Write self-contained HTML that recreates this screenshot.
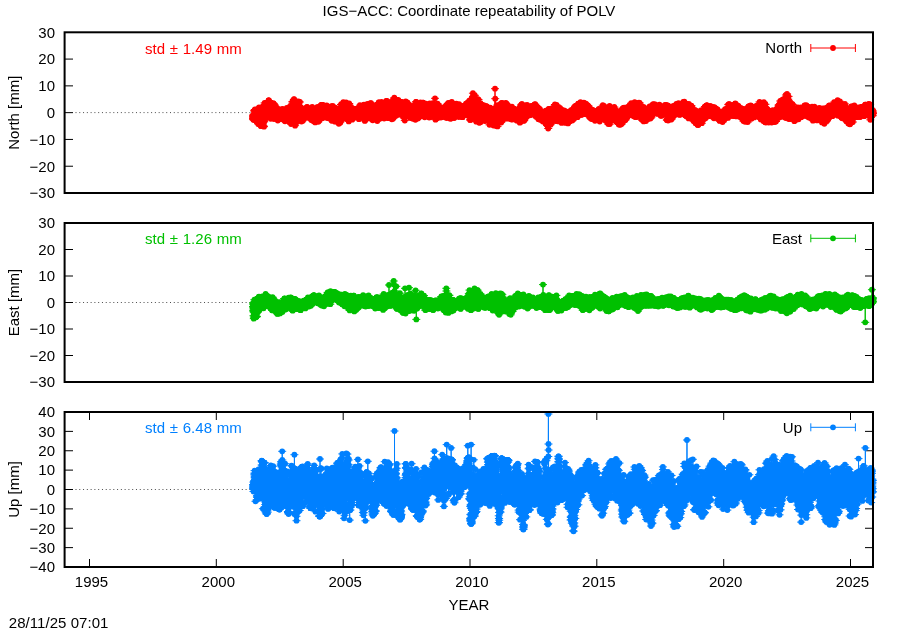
<!DOCTYPE html>
<html lang="en"><head><meta charset="utf-8"><title>IGS-ACC: Coordinate repeatability of POLV</title>
<style>html,body{margin:0;padding:0;background:#fff}svg{display:block;will-change:transform}text{font-family:"Liberation Sans", Arial, Helvetica, sans-serif;font-size:15px;fill:#000}</style></head><body>
<svg width="900" height="630" viewBox="0 0 900 630">
<rect width="900" height="630" fill="#fff"/>
<defs>
<marker id="m0" markerUnits="userSpaceOnUse" markerWidth="10" markerHeight="8" refX="5" refY="4" overflow="visible"><circle cx="5" cy="4" r="2.9" fill="#ff0000"/><path d="M1,4H9" stroke="#ff0000" stroke-width="1"/></marker>
<marker id="m1" markerUnits="userSpaceOnUse" markerWidth="10" markerHeight="8" refX="5" refY="4" overflow="visible"><circle cx="5" cy="4" r="2.9" fill="#00c000"/><path d="M1,4H9" stroke="#00c000" stroke-width="1"/></marker>
<marker id="m2" markerUnits="userSpaceOnUse" markerWidth="10" markerHeight="8" refX="5" refY="4" overflow="visible"><circle cx="5" cy="4" r="2.9" fill="#0080ff"/><path d="M1,4H9" stroke="#0080ff" stroke-width="1"/></marker>
</defs>
<text x="469" y="16" text-anchor="middle">IGS−ACC: Coordinate repeatability of POLV</text>
<g>
<path d="M73.0,112.6H873.0" stroke="#000" stroke-opacity=".7" stroke-width="1" stroke-dasharray="1 2.78" stroke-dashoffset="-2.5" fill="none"/>
<path d="M65.0,166.22h8M873.0,166.22h-8M65.0,139.43h8M873.0,139.43h-8M65.0,112.65h8M873.0,112.65h-8M65.0,85.87h8M873.0,85.87h-8M65.0,59.08h8M873.0,59.08h-8" stroke="#000" stroke-width="1" fill="none"/>
<path d="M253,115.3l.1 2.7v1.3l.1-.5l.1-2v-.6l.1 .5l.1 1.8v-.4l.1-3.7l.1 5.6l.1-2.4v-.1l.1-.5l.1 .8v0l.1-.3l.1 1.5v-4.3l.1 .3l.1-.7v-3.9l.1 4.5l.1-.5l.1-3.4v-.1l.1 .2l.1 2v-3.6l.1 4.5l.1 2.6v-.9l.1-.6l.1-1.4l.1 5.5v-1.9l.1 2l.1-3.1v1.9l.1-2.9l.1-2.3v3.6l.1 2.7l.1-5.3v.9l.1-.8l.1-4.3l.1 2.8v4.3l.1-4.3l.1 6.5v2.5l.1-2l.1 .3v.5l.1-3.4l.1-2.2v.6l.1-3.6l.1 2.4l.1 2.6v3l.1-2.9l.1 1.3v-2l.1-2.7l.1 .4v4.4l.1 .1l.1-2.8l.1 .5v1.2l.1 1.1l.1 .2v4.3l.1 1.1l.1-8.8v1.3l.1 2.4l.1 1.7v-2.6l.1-1.1l.1-1.9l.1-.1v5.3l.1-11.9l.1 4.3v-5.1l.1 9.1l.1 1.4v6.2l.1-8.8l.1-4.2v6.7l.1 5.1l.1-2.5l.1-3.2v1.9l.1-1.6l.1-2.4v-5.2l.1 3.6l.1 1.2v2.7l.1 .5l.1-6.5l.1 2.3v-2.2l.1 4.8l.1-7.8v10.6l.1 1.7l.1 5.1v-3.6l.1-2.7l.1-3.7v.3l.1 9.8l.1-8.3l.1-5.8v6.6l.1-3l.1-1.3v-2.7l.1 4.5l.1 1.9v5.2l.1-2.7l.1-3v-1.6l.1-5.2l.1 .1l.1 .3v-.2l.1-.5l.1 6.4v8.1l.1-6.5l.1 3.1v-4.3l.1-2.8l.1-3.9l.1 .3v-4.6l.1 3.8l.1 3.8v1.8l.1-7.5l.1 2.1v1.4l.1 4l.1-.5v1.9l.1-.5l.1 .2l.1 1.3v3.6l.1 4.6l.1 .6v-6.1l.1-3.1l.1 4.4v-7.4l.1 5l.1-3.4v.3l.1-8.9l.1-4.6l.1 10.1v.1l.1-1.7l.1 2.2v3.5l.1-1.8l.1 .9v2.4l.1-7.6l.1-1.1l.1 5.4v-3.8l.1 1.8l.1 .9v-3.5l.1 4.4l.1-4.4v-4.3l.1 .8l.1 1.6v6.5l.1-10l.1 1.4l.1 .6v4.1l.1 1.6l.1-4.8v3.3l.1-2.2l.1 3.6v-4.3l.1 3.2l.1 1.3v-5.5l.1-2.4l.1 8.5l.1-2v1l.1 3.8l.1-1v-2.5l.1-1.6l.1 1.7v-5.7l.1 8.6l.1-1.9l.1-7.3v6.4l.1 3.7l.1-2.9v.5l.1 .8l.1-3.8v-4l.1 2.1l.1-9.1v6.5l.1-2.2l.1-1.8l.1-2.5v3.8l.1-3.8l.1 8.9v4.5l.1 .9l.1-3.6v1.1l.1-3.9l.1-.7l.1-.4v-2.3l.1 3.9l.1 5v-2.1l.1-6.5l.1 3v1.1l.1-.7l.1 .9v7.3l.1-6.7l.1 3.2l.1 2.6v.7l.1-1.4l.1-.9v1.8l.1 2.6l.1-2.4v-3.6l.1 .1l.1 2.2v.1l.1-2.4l.1 1.6l.1-3.7v.6l.1-.6l.1-5.3v6.6l.1-.7l.1-2.8v3.5l.1-1.6l.1-4.5l.1-1.8v.7l.1 4.7l.1 1v.3l.1 3.1l.1-2.9v4.9l.1-4.2l.1-1.4v4.1l.1-7.3l.1-2.1l.1 6.7v1.6l.1-.3l.1-1.3v-.1l.1-.7l.1-4.8v2.2l.1-5l.1 7.8v-5.1l.1-2.5l.1 2.3l.1 3.6v1l.1-4l.1 3.6v9l.1-1.2l.1-7.8v-2.1l.1 .5l.1-3.8l.1 .7v5.7l.1-1.3l.1 4.6v-2.8l.1 1l.1 5.1v-2.2l.1-4.4l.1 .7v.7l.1 2.3l.1 0l.1-5.2v3.3l.1 3l.1-.3v-6.5l.1 2.1l.1-1.1v2.6l.1 .7l.1 .5v2.6l.1 .8l.1-2.4l.1 .5v.5l.1 1.8l.1-.7v1.4l.1-1.3l.1-1.1v.8l.1-1.4l.1-5.3l.1-.7v-1.5l.1 5.1l.1 1.9v-2.1l.1 4.1l.1-3v.4l.1-2.1l.1-3.1v4.2l.1 5.1l.1 2.3l.1-1.4v-4.5l.1-3.6l.1 1.3v3.8l.1-.4l.1 2.2v-2.7l.1-1.8l.1 .8v-1.3l.1-.9l.1 4.1l.1-1.4v1l.1-1.9l.1 .9v.3l.1-.8l.1 .2v2.4l.1-2.7l.1 2l.1-.9v-3.2l.1 .1l.1 .4v1.3l.1 4.8l.1-4.9v.2l.1-1.4l.1 4.6v-7.9l.1 1l.1-.4l.1 3.6v.3l.1 4l.1-.2v-2.9l.1 1.6l.1 1.1v-5.1l.1 2.3l.1 .6v-2.4l.1 1.1l.1-.7l.1 2v1.6l.1-2l.1 2.5v1.5l.1 .3l.1-.6v-1.3l.1-2.1l.1 2.7l.1-1.3v-.2l.1-1.1l.1-3.7v-.9l.1 3.6l.1-3.3v-1.5l.1 1l.1 2.2v-3.8l.1 5.9l.1 4.3l.1-5.9v6.3l.1-6l.1-1v2.3l.1-3.4l.1 2v1.4l.1-1.4l.1-.9v-1.5l.1 .3l.1 4l.1-4.4v1.1l.1 .4l.1 4v2.3l.1-1.9l.1-2.6v.2l.1-.4l.1 1.6l.1 .3v3.6l.1 1l.1-3.2v.7l.1-7.6l.1 1.1v.2l.1 9.7l.1-5.9v-1l.1 2.2l.1-6.7l.1 1.7v7.4l.1-4l.1 .5v1.7l.1-5.4l.1 4.4v1.2l.1-1.7l.1-.6v3.1l.1-3.5l.1-2l.1 2.3v-1.5l.1 4.5l.1-4.1v-1.7l.1-2.1l.1 2.8v1.3l.1-6.4l.1 8.2l.1-3.2v1.7l.1-2.4l.1 1.1v2.6l.1 1.2l.1 0v-2.7l.1 3.8l.1 1.1v-2.6l.1-.8l.1-4.9l.1 2.1v-3.3l.1 4l.1-1.4v1.5l.1 4.6l.1-.9v1.4l.1 .1l.1-1.8v-2.2l.1-3.2l.1 5.1l.1 2.1v-4.4l.1 6.9l.1-4.8v-1.2l.1-5.9l.1 10.5v-4.5l.1 3.8l.1 .2l.1-3.6v-3.3l.1 .2l.1-6.3v7.8l.1 3.6l.1-3.7v-.3l.1-.6l.1-3.8v.1l.1 4.3l.1-1.3l.1 3.8v5.7l.1-9.7l.1-1.1v.7l.1-1.9l.1 .7v2l.1 5.7l.1 5.5v-9.9l.1 3.9l.1 2.8l.1-8.8v.3l.1 6.1l.1 1.1v-7.8l.1 1.8l.1 2.5v.4l.1 4.5l.1-3.1l.1-10.6v2l.1 3.5l.1-6.6v.3l.1-3.3l.1-1.6v3.8l.1 3l.1 1.2v3.8l.1 3.9l.1 1.2l.1-8.2v-1.2l.1-3.8l.1 1.5v13.8l.1-6.3l.1 2v-1.8l.1-10.2l.1 6.4v8.9l.1-2.7l.1 .4l.1-5.5v-1l.1-11.3l.1 11.6v-4.2l.1-7.7l.1 8.7v6.7l.1-2.4l.1 4.1l.1 0v-1.8l.1 3.6l.1 1.7v-10.5l.1 4.2l.1 1.2v-7.9l.1 7l.1 11.9v-8.1l.1 6.3l.1-3.9l.1-3.6v2.3l.1-2.1l.1 1.1v-1.9l.1 7.6l.1-7v1.2l.1-9.7l.1 3.3v-2.3l.1 .5l.1 2l.1 .1v-6.2l.1 7.4l.1-1.7v-.3l.1-.7l.1 4v-9.3l.1 1.7l.1 1.7l.1 .4v3.1l.1 4.4l.1-3.4v0l.1-1.2l.1 4v-5.4l.1 2.4l.1 2.5v5.9l.1-1.3l.1-7.1l.1 5.1v-7.6l.1-6l.1 .4v7l.1 4.3l.1 .7v.4l.1-3.9l.1-11.5l.1 .5v9.7l.1-1.1l.1-.9v-.2l.1-2.4l.1 5.4v6.1l.1-5.9l.1-2.5v5.8l.1-9.2l.1 5.9l.1-2.8v1.4l.1 2.3l.1-6.1v-.7l.1 3.6l.1-8.2v10l.1 .1l.1 2.3v-4.4l.1 6.7l.1-4.3l.1-3.5v1.5l.1 9.9l.1-5.2v-7.4l.1 2.7l.1 .9v-4.2l.1 7.4l.1-3.4l.1 2.6v.9l.1-5.5l.1 5v3.5l.1-4.2l.1 3.2v4.9l.1-1.2l.1-7.1v4.9l.1-.4l.1-4.2l.1 0v-2.4l.1-2l.1 2.6v1.4l.1 .2l.1-2v.3l.1 2.7l.1-1.4v-.1l.1 2.6l.1 .4l.1 2.7v2.2l.1-3.6l.1-6.4v2.1l.1 2.4l.1-2.7v1.8l.1 2.3l.1 1.7l.1-5.4v2.8l.1 .2l.1-3v2.3l.1 2.3l.1 .5v-4.4l.1-.7l.1 0v1.7l.1-1.2l.1-4.3l.1 1.8v-.7l.1 1.9l.1-3.7v1.5l.1 3.2l.1-1.2v2.3l.1-3.7l.1-1.9v3.9l.1 2.1l.1 1.7l.1-2.6v-.6l.1 .1l.1-1.2v4.3l.1-6.2l.1 1.6v4.2l.1-1.4l.1 .4l.1-1.2v-5.1l.1 4.8l.1 1.5v-1.1l.1 2l.1-3.6v.9l.1 .5l.1 1.7v0l.1 .2l.1-5.6l.1-1.4v-1.4l.1-.1l.1 .8v.7l.1 1.7l.1-.7v5.7l.1-3.4l.1-1.6v4.5l.1 2.9l.1-5.4l.1-1.9v-.1l.1 2.6l.1 .1v-1.2l.1 1.9l.1 .2v-2.2l.1 .3l.1-3l.1 5.5v2.7l.1-1.8l.1-.7v-.5l.1-3.7l.1 1.1v-1.7l.1 .3l.1 .9v.4l.1 .1l.1 2.7l.1-1.7v.2l.1 1.8l.1-1.7v2.5l.1-1.5l.1-4.7v-.4l.1 5.1l.1-.9v.6l.1 1l.1 .8l.1 .8v-4.2l.1 .8l.1 .8v-3l.1 .1l.1 .9v3.3l.1 1.3l.1 .2l.1-1.1v4.6l.1-1.9l.1 1.4v-1.8l.1-.4l.1-1.7v2l.1 2.7l.1-2.3v-1l.1-2.1l.1-1.8l.1 2.6v-2.8l.1-1.3l.1-.6v-3.8l.1 1.5l.1 3v-.7l.1 3.1l.1-3.2v2.8l.1 1.5l.1-.5l.1 2.2v.1l.1-1.2l.1 .5v2.3l.1-3.8l.1 .2v2.3l.1-3.5l.1 .2l.1 7.5v-5l.1 0l.1-.8v2.6l.1 2.8l.1-3.9v.4l.1-2.6l.1 1.7v-4.9l.1 0l.1-.3l.1-2.5v4.3l.1 2.4l.1 1.9v-.9l.1 3.6l.1-8.5v-1.3l.1 .7l.1 1v1.2l.1 9.2l.1-8.7l.1 7.6v-.3l.1-.4l.1-2.1v2l.1-1.6l.1 0v-4.7l.1-1.8l.1-1.1l.1 4.7v-3.2l.1 1l.1-1.4v5.3l.1-6.6l.1 4.9v-3.5l.1 1.2l.1-3.1v3.4l.1 .1l.1-2.4l.1-1.9v-2.3l.1 8.7l.1-4v-5.1l.1 1.7l.1 3v-2.2l.1-2l.1 5.7v4.4l.1-1.1l.1-3.9l.1-.7v2.7l.1-6.2l.1 5.3v-.7l.1 2.3l.1 3.4v3l.1-4.6l.1 .7l.1 1.7v-8.1l.1 .6l.1 4.9v-3.8l.1 1.8l.1-1.7v3.7l.1 2.1l.1 1.6v-2.3l.1 1.3l.1-2.3l.1-3.2v3l.1 .1l.1-6v3.9l.1-3.3l.1 4.2v-4.7l.1-1l.1 1.4v-2.5l.1-3.3l.1 9.2l.1-1.3v-1.8l.1 2.9l.1-2.8v3.9l.1-5.2l.1 2.9v-3.4l.1 .9l.1 4l.1-3.9v-6.3l.1 3.5l.1 1.2v5.2l.1-.7l.1-6.6v-2.7l.1 .9l.1-.9v4.5l.1 .9l.1 1.9l.1-7.4v4.6l.1 .9l.1-.8v5l.1 3.6l.1-5.2v-.4l.1-.6l.1 1.5v-.2l.1-.3l.1 2.5l.1-3v2.6l.1-5.5l.1-4.8v5.9l.1 2.1l.1 .1v-2l.1-3.7l.1 3.6l.1-2.7v1.2l.1 2.2l.1 2.3v.1l.1 1.5l.1 2v-5.4l.1-3l.1 2.4v3.4l.1-2.3l.1 1.7l.1-3.5v-1.7l.1 7l.1-.1v.3l.1-2.8l.1-3.6v-1.2l.1-.3l.1 5v-1.8l.1-2.5l.1 3.8l.1-1.7v2.3l.1-2.1l.1 1v3.4l.1-4.5l.1 2.2v-4.2l.1 2.7l.1-1.3l.1-3.2v.9l.1-1.3l.1 6.4v-1.4l.1 1.3l.1-1.1v-.3l.1-2.4l.1-4v7.4l.1-5.5l.1 3.9l.1 2.2v-.5l.1 1.7l.1-.9v.8l.1 3.1l.1 .3v-2.4l.1-3.4l.1 .2l.1-.7v-2.6l.1 3.1l.1-1.4v-1.1l.1 2.5l.1-.3v3.4l.1-.3l.1-1.5v0l.1-1.4l.1-1.7l.1-3v1.5l.1-.9l.1 2.7v-.1l.1 1.7l.1 1.6v1l.1-1l.1-4.8v.7l.1 .1l.1-.5l.1 .5v8.5l.1-3.2l.1-3.9v-.6l.1-3.5l.1 2.2v.6l.1-.2l.1 4.1l.1-1.6v-1.2l.1-1.3l.1 2v1.3l.1 3l.1-3.7v-2.8l.1 3.4l.1 1.1v1l.1-.6l.1-6.2l.1 1.8v1.4l.1 2.8l.1-1.2v-7l.1 4l.1 2v4.9l.1-3.9l.1 5.4v0l.1 2.1l.1 .1l.1-7.6v1.7l.1 1.7l.1-.6v1.5l.1-3.1l.1 .6v-2l.1 2.4l.1 2.5l.1-4.2v1.7l.1-9.2l.1 5.6v-5.5l.1 2.2l.1 5.3v-3.2l.1 6.4l.1-4.1v5.8l.1-5.9l.1 4.2l.1-6.1v.8l.1-2.2l.1 3.8v1.1l.1 .4l.1-2.9v-.6l.1 .4l.1-2.1v1.9l.1 .4l.1 5.2l.1-2.4v3.5l.1-2.4l.1 3.3v1.7l.1-3.7l.1 .4v2.3l.1-1.4l.1 3.4l.1-5.5v-3.1l.1 1.2l.1-6.4v7.7l.1-1.2l.1-.6v-1.4l.1 2.1l.1-1.4v2.1l.1-1.2l.1-1.5l.1-4v4.7l.1 1.6l.1-1.5v.7l.1-1.4l.1 .3v-2.7l.1 8.5l.1-.4v-2.6l.1-1.6l.1-1l.1-4.5v3.7l.1 1l.1 .5v-.1l.1-1.9l.1-1.5v1.2l.1 4.7l.1 .3l.1 1.7v-2.1l.1-2l.1 3.8v-3.5l.1 2l.1-5.7v-.1l.1-1l.1 1.8v-1l.1 3.7l.1-1.3l.1-3.6v4.7l.1 5.5l.1 4.4v-4.2l.1-4.4l.1 1v.7l.1 .5l.1-2.1v3.4l.1-1.5l.1-5.7l.1-1.1v.5l.1 6.3l.1-2.3v1.2l.1 4.5l.1-6.1v-3.1l.1 3.5l.1-.6l.1 4.4v4l.1-5.7l.1-1.6v4.1l.1-1l.1 1.1v-5.3l.1-.9l.1-.9v2l.1-3.2l.1-1.9l.1-4.8v-.2l.1 8.2l.1-.8v-1.2l.1 2.5l.1 3.8v-1.6l.1-5.3l.1 4.7v-7.4l.1 1.7l.1 0l.1 2.6v-3.9l.1 7.4l.1-1.6v-1.5l.1-1l.1 8.2v-6.1l.1 1.8l.1-4.2l.1-1.3v.7l.1 8l.1-10.1v4l.1 1.1l.1 .1v-2.6l.1-2.6l.1-5.8v2.1l.1 7.1l.1 1l.1-6.4v.4l.1 3.9l.1-2.5v6.5l.1 2.4l.1-8.8v-1.6l.1 7.2l.1 2v1.4l.1-1.9l.1 1.4l.1-1.5v-7l.1-4.3l.1 .3v3.6l.1 1.3l.1-1.5v5.6l.1-.4l.1-2.8l.1-6.7v7.8l.1 .4l.1-.8v-4.3l.1 3.1l.1-.6v1.7l.1-6.5l.1 4.8v-4.5l.1 1.1l.1 .7l.1 5.1v-8.6l.1 5.7l.1 5.5v3.8l.1 0l.1-5.6v-4.6l.1 .6l.1 3.6v4.3l.1-1.4l.1-3.5l.1 3.2v-7.9l.1 1l.1 .4v.7l.1 5l.1 3.5v-1.9l.1-6.1l.1 6.7l.1-1.2v-.9l.1 5.9l.1-8.9v3.2l.1 .3l.1-.3v-6.4l.1-1.6l.1 3.4v-3.1l.1 8.1l.1-1.9l.1 3.8v2.9l.1 2.7l.1-.8v-5.9l.1-1.4l.1 .7v1.4l.1-7.4l.1-4.5v1.2l.1 3.1l.1-1.3l.1 1.8v.4l.1 1.6l.1 1.6v-1.1l.1 4.3l.1-3.8v4.2l.1-5.2l.1 4.2l.1-4.4v4.8l.1-5.4l.1 .7v-2.2l.1 .2l.1 6.3v-2.2l.1 .5l.1 3.9v-3.7l.1-2.4l.1 2.2l.1-4.2v4.2l.1 .7l.1-1.3v-2.4l.1-1.1l.1 .9v-1.7l.1 7.5l.1-1.7v-2l.1 3.8l.1 2.9l.1-2.5v-8l.1 5.5l.1 1.4v4.9l.1-1.1l.1-2.6v.9l.1-2.6l.1 .7l.1-1.5v2.8l.1-1.4l.1-6.1v4.3l.1 1.7l.1-1.5v-2.5l.1 1.6l.1 1.4v-2.6l.1 .6l.1 3.2l.1-.1v-2.2l.1 1.8l.1-1v3.9l.1-1.7l.1-2.3v2.2l.1-1.2l.1-3.9v-1.5l.1 5l.1 2.5l.1-1.4v-3.1l.1 3l.1 .7v0l.1-.7l.1-2.5v3.3l.1-2.9l.1-.6l.1-2.3v3.2l.1-1.1l.1 1.2v4.3l.1-1.2l.1-1.7v-1l.1-2l.1 1.1v1.3l.1-3.4l.1 4.9l.1-2.3v.3l.1 2.9l.1-2.6v.6l.1-4.4l.1-1.3v1.9l.1-1.8l.1 .7l.1 3.3v-1.9l.1 1.7l.1-3.3v1.8l.1 2l.1-1.2v1.2l.1 .9l.1-1.9v1.8l.1 .8l.1 1.8l.1-1.1v-1.5l.1 .3l.1-2.1v-.6l.1-3.1l.1 1.8v.8l.1-1.6l.1 4.8v.6l.1 .3l.1-.8l.1 1.7v-4.6l.1 .7l.1 4.1v-.2l.1 3.1l.1-4.6v1.4l.1-4.3l.1-1.9l.1 1.8v1.8l.1-.6l.1-1.4v.4l.1-.8l.1-2.4v-1.6l.1 4.6l.1-6.4v1.3l.1 2l.1-.7l.1 .2v-.1l.1 2.4l.1 .3v-1l.1 1.3l.1 .8v-.9l.1 1.3l.1-1.7v.1l.1 5.6l.1 .6l.1-2.4v-3l.1-.4l.1-1.4v1.1l.1 2.6l.1-1.9v-.3l.1-1l.1 .7l.1 1.3v-4.2l.1 2.4l.1-4.1v3.7l.1-.5l.1 2.8v-2.9l.1 2l.1-1.2v1.5l.1-1.2l.1 6.6l.1-3.2v2l.1-6.8l.1 5v-2.2l.1-2.1l.1 1v2.7l.1-1.2l.1 1.9v2.4l.1-9.7l.1 5.9l.1 1.7v1.6l.1-3.9l.1-4.4v-1.4l.1-1.2l.1-.4v11.4l.1 .7l.1-6.7l.1 4v1.2l.1-1.5l.1-1.9v7.4l.1-10.1l.1-.3v.9l.1 11.2l.1-5.4v-4l.1 4.3l.1 1.5l.1-.5v3.5l.1-4.3l.1 2.4v-1.1l.1-2.6l.1 1.7v-6.7l.1-.9l.1 .8v5l.1-1.4l.1 .5l.1 1.8v-4.3l.1 .2l.1-1v.3l.1-1.8l.1 5.6v-5.8l.1-.1l.1 5.7l.1-5.9v-2.3l.1-.6l.1 5.4v-2.7l.1 5.7l.1-8.8v11l.1-2.3l.1 .8v-10.8l.1 3l.1 4.9l.1 3.8v2.1l.1-5.8l.1 6.3v-4.6l.1-5.9l.1 5.9v-3.4l.1 4.1l.1-2.2v3.2l.1-3l.1-2.8l.1-1.6v3.3l.1 2l.1-2.7v-2l.1-1.7l.1-1.7v4.6l.1-3l.1 .8l.1-1.8v.3l.1-.6l.1 1.3v3.5l.1 .2l.1 .3v-2.9l.1 1l.1 2.8v3.2l.1 .8l.1-.6l.1-5v3.3l.1-6.3l.1-3.7v3.5l.1 6.3l.1-9.1v5.5l.1 1.2l.1-2v-3.8l.1 9.3l.1-1.1l.1-9.8v4.9l.1 7.2l.1 2.2v-6.1l.1 2.9l.1 .4v-1.9l.1 6.5l.1-4.5l.1 2.1v-2.4l.1-2l.1-5.3v-.9l.1 2.2l.1-.2v5.5l.1-4.5l.1 .3v.3l.1 1.7l.1-.8l.1 3.4v6.1l.1-6.1l.1-1v1.4l.1-4.9l.1 3.7v-3.7l.1 .5l.1 .4v-3.6l.1 1l.1 5.6l.1-3.9v2.6l.1-.1l.1 1.6v-2.9l.1 .4l.1 .4v-2.2l.1-2.3l.1 2.1l.1 .6v4.9l.1-8l.1 .8v3.3l.1 5.8l.1-8.4v4.2l.1-3.8l.1 1.3v2.1l.1-1.3l.1-2l.1 2.5v-5.6l.1 8l.1-1.2v-4.4l.1 7.1l.1-1.8v-4.9l.1-2.4l.1 7v4.1l.1-7.7l.1 4.8l.1 2.4v-.5l.1-3l.1-4.5v1.9l.1-4l.1 4.1v.7l.1-1.1l.1 1l.1 1.9v-4.1l.1-1.1l.1 2.3v-.6l.1-1l.1 3.7v3.9l.1 4.8l.1-8.7v-1.8l.1 6.6l.1 .9l.1-4v-2.5l.1-2.3l.1-2v-.5l.1 5.3l.1-.8v-2.1l.1-2.5l.1-.4v1.2l.1 7.7l.1-3.1l.1-1.1v3.5l.1-4.9l.1-7.1v-.1l.1 4.6l.1-2.3v1.7l.1 6l.1 .8l.1-4.8v6.5l.1-2.5l.1-1.7v-2.7l.1-1.1l.1 4v1l.1 2.9l.1 3.7v-1.7l.1 1.3l.1-6.6l.1-1.2v-.6l.1-.6l.1-1.4v-.1l.1 2.5l.1 3.1v-9.1l.1 1.6l.1 6.8v-6.3l.1 2.2l.1 1.3l.1-4.1v-.3l.1 2.2l.1 0v1l.1 2.4l.1-9.1v3.9l.1 5.5l.1 .4l.1 1v0l.1-5.2l.1 5.8v-2l.1-6.5l.1 4.1v2.9l.1 2.2l.1-2.2v-.2l.1 2.7l.1-2.2l.1 2.8v-.8l.1 .8l.1-1.1v-.5l.1 1.3l.1-3.6v-1.8l.1 .1l.1 0v-3.8l.1 4l.1 1.7l.1-4.5v4.8l.1-2.2l.1-2.1v9.3l.1-.1l.1-4.1v4.1l.1 2.2l.1-5.7l.1-1.5v-1l.1-3.7l.1 10.3v-8.5l.1 4.1l.1-4.9v6l.1-4.6l.1 5v-3l.1-2.2l.1 5.7l.1-5.2v3.1l.1-5.5l.1 2v-3.1l.1 5.2l.1-3.1v-5.7l.1 4.9l.1 3.2l.1 6v.8l.1-4l.1 2.2v-3.9l.1-10.4l.1 3v3.6l.1-2.3l.1-3.6v.7l.1-.8l.1 8.3l.1 5.4v-.8l.1-6.2l.1-7.5v5.8l.1 3l.1-3.8v-.8l.1 .8l.1 2.3v-2.4l.1 3.6l.1 3l.1-1.9v.3l.1 7.3l.1-5.5v-1.2l.1-1.2l.1 5.6v-4.7l.1 4l.1-.3l.1 3.5v-6.9l.1 4.4l.1 .3v1.2l.1 .1l.1-2.1v-2.8l.1 4.2l.1-11v5.5l.1 6.3l.1-1.5l.1-3.3v3.8l.1-3.1l.1-1.6v2.5l.1-3.9l.1-3.6v1.8l.1-1.2l.1-2.8v7.4l.1 3.3l.1-10l.1 7.2v-3.9l.1-1.6l.1 5.4v-1.1l.1-9.2l.1 4.4v-.4l.1 4.8l.1-2l.1-1.3v4.2l.1-.4l.1-.2v-2.8l.1 2.2l.1-1.6v-.6l.1 0l.1 .4v-2.5l.1 6.7l.1-1.1l.1 7.5v-5.5l.1-1.4l.1 3.2v-5.3l.1-4.3l.1-.3v11.6l.1-11.9l.1-2.7v9l.1 1.5l.1-7.4l.1-.7v3.7l.1 4.1l.1-2.4v8.2l.1-2l.1-1.7v-3.7l.1-.5l.1 2.8l.1-4.8v1.3l.1 7.7l.1-10v1.8l.1-1.1l.1 3.4v-11l.1 9.4l.1 4.3v-4l.1 1l.1-7l.1-6.1v-.8l.1 5.7l.1 1.4v1.6l.1 5l.1-5.5v6.9l.1-1.5l.1-2.2v-5.4l.1 6.8l.1-.7l.1-5.5v.6l.1 5.8l.1-1.5v3.2l.1-2.8l.1-3.7v1.1l.1 .3l.1-.7l.1 .3v-3.1l.1 5.7l.1-9.9v7.8l.1-2.3l.1-.1v3.5l.1-1.7l.1 8.8v-5l.1-2.7l.1-3.4l.1 6.9v-5.7l.1-1.2l.1 4.9v-6.1l.1 5.9l.1-2.6v2.8l.1-6.8l.1 6.9v-5.9l.1 3.7l.1-4.4l.1 3.7v-4.5l.1-1.4l.1 8.1v-1.5l.1 2.5l.1-2.3v-2.2l.1 2.1l.1-7.4l.1 10.1v-3.2l.1-4.2l.1-1.9v5.4l.1 3.8l.1 .6v-2.5l.1-.7l.1-.3v.9l.1-.1l.1 1.3l.1-4.4v1.7l.1-3.5l.1 7.1v-3.9l.1-1.4l.1 .4v1.7l.1 .5l.1-2.4v3.6l.1 .4l.1-2.9l.1 7.8v-.7l.1-1.9l.1 1.7v-2.4l.1-2.7l.1-1.1v4.5l.1 3.5l.1-2.3l.1-3.4v2.4l.1-1.2l.1-4.8v-1.9l.1 2.8l.1-.1v-1.7l.1 1.9l.1-1v-2l.1-1.2l.1 5.1l.1-5.5v4.5l.1 1l.1-5.1v9.1l.1-2.8l.1 2.9v-7.2l.1 1.8l.1 3.9v-1.7l.1 3.4l.1 .9l.1-3.1v1.5l.1 1.1l.1 0v.9l.1 2l.1-1.3v-3.4l.1 5.2l.1-7.3l.1 .1v.2l.1 3.7l.1-1.6v-2l.1 1.1l.1 7.4v-4.6l.1 .7l.1-1.1v4.3l.1-7.6l.1 1.6l.1-3.4v2.9l.1 8.5l.1-9.6v2.2l.1-4.8l.1 8.1v-2.5l.1 8.8l.1-3.1v-6.6l.1-5.3l.1 6.7l.1-.7v-4.8l.1 5.4l.1-2.2v-1.2l.1 5.9l.1-9.2v8l.1-12.2l.1 11.2l.1-2.4v-1.8l.1-2l.1 .4v2.8l.1-1.9l.1-3.1v7.3l.1-2.1l.1 5.8v-1.8l.1-6.6l.1 4.3l.1 .3v-4.6l.1 2.5l.1 3.6v-2.5l.1-3.6l.1 3.7v-4.4l.1-4.1l.1 .7v6.2l.1-.4l.1-1l.1 1.5v1.4l.1 3.7l.1 1.1v-1.9l.1-1l.1-2.3v3.6l.1-.3l.1-4.7l.1 5v-4.1l.1-2.8l.1 4.1v.3l.1-.7l.1 0v5.5l.1-3.5l.1-3v-4.6l.1 2.7l.1 1.3l.1-.9v-1.3l.1 2.4l.1 0v6.7l.1-.3l.1-.3v-3.7l.1-2.4l.1 3.3v-2.5l.1-1.8l.1 3.9l.1-.4v-5.5l.1 6.4l.1 5.3v-1.9l.1 1l.1-2v-3.1l.1 3.9l.1-6.6l.1 2.2v0l.1 1.7l.1 1.6v2l.1-5.3l.1-1.5v1.4l.1-1.8l.1 1v1.9l.1 .9l.1 3.3l.1-10.3v1.9l.1 1.3l.1-3.3v3.9l.1 2.5l.1-6.2v2.5l.1-2.6l.1 2.8v-2l.1 7.1l.1-2.4l.1 .8v-4.7l.1 8.7l.1 2.1v-1.2l.1-4.4l.1 2.5v-4.9l.1-4.6l.1 6.8l.1-2.3v-2.3l.1-1.8l.1 .5v3.6l.1-1.4l.1-1.3v.5l.1 3.7l.1 .8v-2.7l.1-.2l.1 1l.1-1.2v-2.7l.1 3.8l.1-2.5v2.7l.1-4.8l.1 3.1v-1.3l.1-1.9l.1 2l.1 4.5v-.1l.1-2l.1 1.7v4.7l.1-1.2l.1 3.9v-10.3l.1-3l.1 .1v2.2l.1 1.8l.1 .9l.1-1.4v-6.1l.1-2.1l.1 0v3.4l.1 4.3l.1 3.8v-2.2l.1-.1l.1 1.5v4.9l.1-4.5l.1-8.4l.1 2.3v2.8l.1-.8l.1 3.4v3.4l.1-2l.1-6v-.6l.1 .1l.1-.5l.1 0v6.3l.1-3l.1 4.1v-5.4l.1 1.9l.1-2.6v10.6l.1-3.2l.1-2.8v-.7l.1-.5l.1 2.1l.1-3.8v-3.4l.1 2.2l.1 1.9v-3.4l.1 .8l.1 2v6.3l.1 1.5l.1-5.7v1.6l.1 2.8l.1 .1l.1-1.7v-4l.1 .7l.1-.2v.3l.1-4.6l.1 6.7v.3l.1-4.4l.1 2.1l.1-.9v3.3l.1-4.5l.1 1.6v-3.5l.1 1.4l.1-2.4v2.6l.1-6.7l.1 6.4v-.8l.1 2.7l.1 2.9l.1-4.2v2.1l.1 4.3l.1-6.6v-.9l.1 .4l.1 1.2v-.3l.1-6.2l.1 7.8v-3.3l.1 1.5l.1-.6l.1 .8v4.9l.1-3.5l.1-2.2v5.7l.1 1.4l.1-3.7v-4.6l.1-1.5l.1 3.9l.1 .4v2.3l.1-2.7l.1 3.6v-3.4l.1-3.1l.1 1.4v1.2l.1-7.1l.1 0v7.2l.1-2l.1-.1l.1-3.4v-.7l.1 7.8l.1-3.7v1.2l.1 5.1l.1-3.6v-.7l.1 4.3l.1-6.1v3.7l.1-2.5l.1-.1l.1-4.6v4.2l.1 .6l.1 .6v-1.9l.1 5.2l.1 4.1v-.9l.1-2.8l.1-1.8l.1-3.1v3.1l.1-2.3l.1 1.7v-5.9l.1 10.1l.1-2.7v-2.1l.1 2.5l.1-3.5v-3.4l.1-.8l.1 .6l.1-2.3v1.6l.1 1.6l.1 .3v6.2l.1-.3l.1-.5v-1.2l.1-1.7l.1-1.9v5.2l.1-2.1l.1-1l.1 1.7v.7l.1-5.5l.1 2.3v2.5l.1 .3l.1 3.7v-4.3l.1-.1l.1 2.8l.1-5.9v2.4l.1 .7l.1 .6v1.1l.1-.5l.1-1.3v-3.3l.1-2.3l.1 .3v3.8l.1 5l.1-1.3l.1-2v-1.3l.1 0l.1 1.3v.9l.1 1.9l.1 2.5v-3.2l.1-3.8l.1-.3v.8l.1 6.9l.1 .6l.1-3.5v-3.8l.1 4l.1-5.6v-.2l.1 .4l.1-5.6v8.9l.1-4.6l.1 1.4l.1 4.2v-.4l.1-.2l.1 2.9v1.5l.1-6.2l.1 2v-2.6l.1-.5l.1 2.1v-2.2l.1-.6l.1 1.5l.1 3.9v-3.2l.1 .1l.1-5.3v2l.1 1.3l.1 1v6.2l.1-4.3l.1 .4v-1.7l.1 4.2l.1-2.9l.1-.8v3.7l.1-1.3l.1-3.7v-.3l.1 .6l.1 3.9v1.2l.1-7.5l.1 1.5l.1 1.6v-5l.1 3.8l.1-2.9v-.7l.1-3.2l.1 4.2v.4l.1 7.7l.1 .1v-5l.1 2.1l.1-2.8l.1 5.2v-5.9l.1-.2l.1 7.7v-.4l.1-1.1l.1-5.4v-3.3l.1 6.5l.1 0v-2.3l.1 5.5l.1 .5l.1-5.1v.6l.1 1.3l.1-3.2v-1.2l.1 .6l.1 3.3v-3.6l.1 .5l.1 2l.1-.2v-13.3l.1 6.9l.1 .5v1.6l.1 4.7l.1 4v-6.1l.1 9.8l.1-4.5v-.7l.1 1l.1-4.9l.1 1.9v-1.8l.1 .5l.1 2.5v1l.1-3.6l.1-1.3v3.8l.1 3l.1 2v-.4l.1-3.1l.1-2.4l.1 4.2v-.5l.1-1.2l.1-4.1v-5.1l.1-1.9l.1 5v2.7l.1-5.9l.1-.1l.1 4.2v-6.4l.1 5.3l.1 3.5v-7.9l.1 4.8l.1 2.8v2.1l.1 .7l.1-5.1v3.6l.1-2l.1 5l.1-3.1v-2.7l.1-.3l.1 1.1v2.4l.1-1.4l.1 .7v-2.6l.1 1.8l.1-.7v.6l.1 3.3l.1 2.1l.1-4.3v-3.4l.1 3.7l.1-1.6v2.8l.1 .4l.1-.5v-2.9l.1-.2l.1 1.5l.1-.7v-1.1l.1 6l.1-3.8v.4l.1-2.5l.1-.6v3.4l.1-2.2l.1-.5v.2l.1 .9l.1 2.5l.1-4.2v5.2l.1-4.8l.1 0v1.7l.1-2.8l.1 2.5v4.6l.1 0l.1-2.4v-4.3l.1 1l.1-.1l.1 1.1v1.5l.1-5.4l.1 3.2v-.9l.1-2.5l.1 1.4v-2.2l.1-.1l.1 .8l.1 .3v-.3l.1-.3l.1 4.7v-4.7l.1 1.9l.1 .1v.5l.1-1.9l.1 3.6v-1.1l.1-.1l.1 1.5l.1 .1v-1.5l.1 4.4l.1-.7v-2.1l.1-.7l.1-.8v.5l.1 3.9l.1-3l.1 .9v-1.8l.1 2l.1 1.7v-2.2l.1 .6l.1 1.6v-4.9l.1-1.3l.1 0v-1.9l.1 4.2l.1-3.3l.1 9v-5.8l.1 .1l.1 2.4v-2.2l.1 3.5l.1-2.9v3.4l.1-.7l.1 .1v-8.3l.1 2.8l.1-2.3l.1-1.7v1l.1 7l.1-1.4v-1.4l.1-3l.1 3.2v0l.1-2.7l.1 2l.1 .1v3l.1 4.6l.1-3.8v-2.4l.1-2.7l.1-1.1v1l.1-.8l.1 0v-2.6l.1-.6l.1 1.5l.1 1.2v1.3l.1 1.4l.1-2.2v1.5l.1-3.3l.1-3v3.3l.1 4.2l.1-4.3v3.4l.1 .6l.1-4.2l.1 6v-5.7l.1-3.9l.1 1v.9l.1 1l.1 .4v1.4l.1-.9l.1 3.8l.1-1.7v1.3l.1 2.2l.1-8.1v8.1l.1-.2l.1-1.5v1.1l.1 .6l.1 .7v1.1l.1 .6l.1-5l.1 6.6v1.9l.1-5.4l.1-3.4v4.5l.1 4.8l.1-.9v-3.1l.1 2.2l.1-2v2l.1-2.4l.1 3.6l.1 .4v-9.7l.1 4.1l.1-10.3v4.6l.1 4l.1 1.5v.3l.1-4.7l.1 7.2l.1-3v-7.8l.1 3.6l.1-4.8v-1.6l.1 9.7l.1 2v-2.8l.1-1.9l.1 .6v6.4l.1-5.2l.1-1.7l.1-.6v2.7l.1 1.2l.1-3v3.6l.1-4l.1 1.8v-5l.1 .8l.1 7.6v-5.8l.1-1.3l.1 2.8l.1-4.5v5.2l.1 2.8l.1 2.7v-5.2l.1 0l.1 3.5v-.9l.1 2.3l.1 2.4l.1-5.5v2.8l.1 .5l.1-.2v2l.1-2.5l.1 .1v1.1l.1-5.1l.1 2.6v-6.8l.1 5.4l.1-3.4l.1 2.6v1.7l.1-.6l.1 .4v-2.7l.1-6.5l.1 4.8v2.8l.1-1.5l.1 .3v4.8l.1-3.5l.1 4.3l.1-2.2v2.3l.1-3.2l.1 .5v.8l.1-8.4l.1 1.2v-3.4l.1 5.8l.1 1.4l.1-.8v.6l.1 .1l.1 .4v-1.2l.1-2l.1 3v-.6l.1-1.7l.1 1v.3l.1 .2l.1 2.7l.1-4.6v1.5l.1-.3l.1 2.3v-1.7l.1-.3l.1 .2v-2.8l.1 3l.1 3.8v-4.8l.1-2.1l.1 5.2l.1-1.3v-2.2l.1 5.4l.1 .7v-1.2l.1 .4l.1-.2v3.3l.1-5.1l.1-2.5l.1-5.4v4.2l.1-2.1l.1 1.3v.5l.1-.3l.1 1.4v-3.8l.1 7.7l.1-5.4v4.1l.1 1.1l.1-.8l.1-.6v2l.1-1.5l.1 .3v-.8l.1-1.4l.1 .1v-1.3l.1 .8l.1 2.8v-.8l.1-.6l.1 .7l.1-.3v.7l.1 2.3l.1 .6v-.2l.1 .6l.1-3.1v-5.2l.1 2.5l.1 1.1l.1 .4v.8l.1 .8l.1 2.7v-3.8l.1 2.4l.1-4.5v-1.4l.1 1l.1 2.1v1.2l.1 4.8l.1-1.1l.1 1.1v-3.5l.1-1.2l.1 .4v-1.6l.1 1.3l.1-2.2v-.5l.1 3.1l.1 .7v-.3l.1-1.4l.1 1.4l.1-4.6v-1.1l.1 .8l.1-.7v-1.8l.1 .9l.1 .2v1.8l.1-2.7l.1 2.5l.1-.5v.9l.1-.7l.1-1.5v2.1l.1 1l.1 2v-6l.1 4l.1-.1v.5l.1 .9l.1-1l.1 .3v-2.9l.1 5.5l.1-4.5v-2.5l.1-.3l.1 4.7v2.4l.1-.9l.1-3.5v-.8l.1 5.1l.1-4.3l.1-4.9v3.7l.1 2.4l.1 2.5v-1.6l.1-5.4l.1 2.4v2.2l.1 3.1l.1-1l.1 1.2v-2.5l.1-.9l.1-2.3v-1.8l.1 4.5l.1-2.6v3.9l.1-4.5l.1-3.5v5.7l.1-.6l.1-4.5l.1 7.1v-5.6l.1 3.4l.1 5.8v-.4l.1-3.3l.1-3.8v-.8l.1 0l.1 5.3v3.9l.1-6.9l.1 3.3l.1 .9v-1.7l.1-4.5l.1-4.5v5.3l.1 4.4l.1 2.4v-7.5l.1 3l.1 4.6l.1-11v-2.6l.1 3.6l.1-1.8v.5l.1-.5l.1-.8v2.8l.1 4.4l.1-3.6v9.8l.1-7.8l.1-5.8l.1 10.1v.6l.1 1.8l.1 5.7v0l.1-2.7l.1-14.6v-2.4l.1 4.9l.1 2.7v3l.1-1.6l.1 8.5l.1-2.6v3.9l.1-3.5l.1-.3v-.6l.1 1.8l.1-4.8v2.2l.1 1.5l.1-16.6l.1 6.6v4l.1 1.7l.1-3.6v-.9l.1 10.6l.1-13.1v7.5l.1-1.3l.1 2.1v-2.4l.1-9.3l.1 7l.1-5.4v9.4l.1-3.2l.1-2.6v5.2l.1-1l.1-16.8v5.4l.1-1.2l.1-.9l.1 6.5v-6.8l.1 4l.1 2.1v-4.3l.1 5.5l.1-3v1.3l.1 2.1l.1-1.6v5.1l.1-.5l.1 4.4l.1-8.8v1.4l.1 1.6l.1 2.6v.1l.1 3.9l.1-5.1v3.3l.1-4.8l.1-2.2v-2.9l.1-2.2l.1-2.9l.1 3.9v10.7l.1 4.9l.1-2.3v-.4l.1 4.5l.1 0v-3l.1-1l.1 .8l.1-4.3v-3.1l.1-4.9l.1-1.3v4.3l.1 .1l.1 4.7v-.6l.1 2.1l.1 10.5v.8l.1-8.6l.1-5.6l.1 6.5v-1.9l.1-2.1l.1 4.7v-5.8l.1-3.9l.1-1v.1l.1 .7l.1 5.7v5.7l.1-4l.1 .4l.1-7.5v5.2l.1-5.1l.1 10.3v-3l.1 3.6l.1-2.6v-2.8l.1-11.5l.1 4l.1 3.9v1.6l.1-9l.1 .1v8.9l.1 5.3l.1 2.5v-2.1l.1 2l.1-.5v.1l.1-8.4l.1 .3l.1 6v2.5l.1 4.1l.1 2.2v-3l.1 2.8l.1-2.7v-12.1l.1 12.5l.1-2.8v.8l.1 .1l.1-2.3l.1-2.7v1.3l.1 2.6l.1-6.8v11.7l.1-.5l.1 .6v-3.7l.1-3.6l.1-11.2l.1 .1v.1l.1 4.7l.1 1.2v4.4l.1 1.8l.1-5.2v-3.5l.1 2.9l.1 2.7v-3.5l.1-4.9l.1 6.2l.1 6.8v-5.9l.1 6.1l.1 1.6v-.2l.1-3.7l.1-.2v4.3l.1-3.8l.1-.2v-2.4l.1-6.3l.1 .9l.1 6.8v-6.5l.1 2.7l.1 1.8v-.1l.1-1.3l.1 .1v2.6l.1 1.4l.1 2.3l.1-4.1v-2.5l.1 2.9l.1-1.2v-1.3l.1 3.7l.1-1.2v-1l.1-7.7l.1 4.4v-.1l.1 4.9l.1 4.2l.1-2.9v-3.1l.1-.3l.1 2.8v-3.5l.1 3.2l.1-2.7v-1.4l.1 .9l.1 5.3v-3.2l.1-.3l.1 7.7l.1-8.1v1.3l.1 6.2l.1-.7v-.8l.1-5.7l.1 1.4v.2l.1 3.1l.1-.6l.1-3.2v-1.3l.1 2.6l.1-3.2v3.5l.1 2.6l.1-6.8v-5l.1-.3l.1 7.3v-2.7l.1 1.4l.1 2l.1-3.3v2.2l.1-5.1l.1-1.6v2.5l.1 5.3l.1 1.5v-3l.1-1l.1 1.4v0l.1 1.1l.1 .3l.1-1.7v-.8l.1-1l.1-1.7v6.1l.1 .3l.1-.9v-7.5l.1 10l.1 1.6l.1-4.4v-.8l.1-1.8l.1-1.8v3l.1 1l.1 1.9v1.7l.1-1.5l.1-3.7v4.1l.1 1.2l.1-.2l.1-1.9v-1.2l.1 2.4l.1 4.2v-8.7l.1 9.8l.1 2.6v-8.8l.1 3.6l.1 1.7v-.3l.1-11.6l.1 9.2l.1-8.7v2.9l.1 8.9l.1-6.1v-7.9l.1 1.2l.1-.6v2l.1 6l.1-6.2l.1 5.3v1.3l.1 1l.1-.2v1.5l.1-2.5l.1-4v-1.8l.1 .9l.1-1.4v6.8l.1-1.8l.1-4.3l.1 11.2v-2.8l.1 .4l.1 .6v-6.9l.1-.2l.1 5.7v-4.8l.1 3.4l.1 2.6v-1l.1-4.9l.1-3.7l.1-.5v6.1l.1-1.3l.1-.5v-2.5l.1 .9l.1-.4v2.4l.1-3.6l.1 4.6l.1 .8v5.5l.1 1.1l.1 .6v.6l.1 1.3l.1-9.2v5.8l.1-5.7l.1 3.5v-2.8l.1-8.1l.1 .2l.1 .3v6.7l.1 3.4l.1 2.1v-8.7l.1 1.5l.1 .2v-.4l.1 2.2l.1-8.3v2.9l.1 3.7l.1 2.5l.1 0v-28.7l.1 30l.1-20v20.5l.1-5.9l.1 .1v-2.8l.1-1.7l.1 7.7l.1-4v.3l.1-3.1l.1 8.1v7.9l.1-.4l.1-3.6v-4.1l.1-1.7l.1-.6v8.4l.1-3.7l.1-3l.1 .1v-2.7l.1 8l.1 .2v-1.8l.1-3.2l.1 6.7v-4.1l.1-3.7l.1-11.5v7.9l.1 5.3l.1 3.5l.1-3.5v8.1l.1-12.2l.1 8.1v-11.5l.1 1.3l.1-4.4v6.7l.1-3l.1 4.1l.1 .1v-7.8l.1 8.2l.1 .4v6.7l.1-7.7l.1-.2v-3.1l.1 2.8l.1-2.5v7.5l.1-3.5l.1 1.3l.1-5.5v2.9l.1-2.3l.1-6.9v10.1l.1 2.9l.1-5.6v-.5l.1 3.1l.1-1.8v5.2l.1-8.9l.1-.1l.1 1.2v3l.1 3.3l.1-6.7v5.8l.1-5.1l.1-1.9v-4.3l.1 2.7l.1 .6l.1 1.5v2.3l.1-3.7l.1-.3v-5.4l.1 4.1l.1 2.4v4l.1 8.8l.1-4.9v-3.7l.1 3.4l.1-1.7l.1-4.1v-3.2l.1 1.6l.1 1.9v-3.5l.1-5.4l.1 6.6v-6.4l.1 5.5l.1 1.3l.1 3.6v2.1l.1-4.9l.1 4.1v-.1l.1 3.7l.1-.4v-2.9l.1 3l.1-3.7v-4.9l.1 5l.1-3.2l.1 3.9v-.2l.1 3.1l.1 1.4v-4.5l.1-3.7l.1-1.2v2l.1-1.9l.1 2.6v.7l.1 3.9l.1-6.7l.1 .6v-.5l.1-2.9l.1 3.2v-3.6l.1-1.1l.1 8.7v-2.4l.1-3.7l.1-1.8l.1 4.4v-1.1l.1-1.9l.1-.1v-3.3l.1 1.4l.1 3.2v-5.3l.1 3.9l.1 1.9v1.2l.1-5l.1 1.3l.1-5.1v1.7l.1-.2l.1 2.4v2.9l.1-.6l.1 1.5v-4.5l.1-2.5l.1 3v.6l.1 1.7l.1-4.8l.1 2.3v6.2l.1 4.4l.1-3.8v5.5l.1-1.7l.1 1.1v-2.7l.1-7.8l.1 5.4l.1-1.6v-3.2l.1 4.9l.1 2.6v-1.8l.1-.3l.1 4.9v-3l.1-6.8l.1 2.4v.2l.1 4.1l.1-4.1l.1 1.6v1.6l.1 .2l.1 2.8v-6.3l.1 .7l.1-.5v-.4l.1 .8l.1 2.4v2.9l.1-5.5l.1 2.3l.1-1.4v.3l.1-.5l.1-.2v6.3l.1-4l.1-3.9v4.3l.1-4l.1-2l.1 .7v.2l.1 1.7l.1-3.3v-.8l.1 5.6l.1-.1v-1.5l.1 2.9l.1 .1v-2.2l.1 .7l.1 1.6l.1-1.3v5l.1 1.4l.1-5.3v-4.8l.1 3.5l.1 2.1v-3.8l.1 2.6l.1 .3v1.2l.1-3.3l.1 0l.1 .4v-3.3l.1 3.2l.1 1.2v-1.6l.1-5.1l.1 5.2v2.8l.1 4.8l.1-3.2l.1-4.8v3.8l.1 1l.1-1.8v-.1l.1 1.1l.1-.1v-.3l.1-1.9l.1 .9v-2.8l.1 3.3l.1-.1l.1-.8v.5l.1 2.1l.1-2.5v-.3l.1 .8l.1 3.5v.3l.1-1.1l.1-6.1v4.5l.1-.6l.1-1.2l.1 1.4v-1l.1-5.3l.1 1.1v4.8l.1-.6l.1-3.2v2.4l.1-1.2l.1-1.5l.1 2.4v2l.1 .9l.1-3v-.7l.1 1.1l.1 .1v-.2l.1-1.6l.1 1.5v1.1l.1 5.6l.1-1.9l.1-3.8v1.5l.1 1l.1 0v-1.9l.1 2.1l.1-1.3v.4l.1 3.3l.1-3.1v-1.7l.1 2.3l.1 1.2l.1 .4v-.8l.1 .1l.1 .4v-2.7l.1 2.1l.1 1.9v1.5l.1-4.8l.1-.4l.1 .2v-4l.1 1l.1 1.7v.7l.1-1.6l.1-2.9v2.6l.1-3l.1 .5v6l.1-1.6l.1 .7l.1-1.6v-1.6l.1-2.1l.1 5.3v-1l.1 .9l.1-.1v-1l.1-2.3l.1-1.7v.4l.1 1.4l.1-3.1l.1 5v-2.5l.1-.2l.1 1.7v-5.7l.1 1.1l.1-.2v5.9l.1 .2l.1 4.3l.1 3.8v-4.7l.1-3.7l.1-3.5v7.3l.1-1.3l.1 2.4v1.9l.1-1.4l.1-4.7v-2.7l.1 9.7l.1-9.6l.1-3.2v2.6l.1 4.1l.1 1.6v-3.9l.1 1.6l.1 2.6v-9.6l.1 6.1l.1-9.6v3.5l.1 3.3l.1 .8l.1 3.1v-.5l.1 1.7l.1-5v-7.4l.1 2.3l.1-2.4v7.3l.1-.6l.1-3.2l.1 1.4v5l.1-1.4l.1-1.2v-2.5l.1 5.4l.1 1.3v-1.5l.1 .3l.1-2.5v2.3l.1 3.3l.1-5.5l.1 2.3v-5.9l.1 1.7l.1-1.6v6.3l.1 3l.1-.2v-2.2l.1 1.8l.1-2.6v4.9l.1 1.3l.1-8.2l.1-2.2v3.7l.1 6.5l.1-6.6v-2.3l.1 3.7l.1 .4v1.1l.1-.7l.1 1.6l.1-.5v.5l.1-.5l.1-5.3v-3.4l.1 5.6l.1-3.4v-.2l.1 3.5l.1-3.4v-5.3l.1 3.5l.1 .5l.1 1.8v-.5l.1 3.9l.1-1.6v-.5l.1-1.1l.1-.8v-1.4l.1 3.9l.1 2.3v1.8l.1-7.3l.1 2.9l.1 0v2.9l.1-5.9l.1 1.3v-2.6l.1 2.7l.1-.6v-3l.1-2.8l.1 2.8l.1 4.3v3.8l.1-3.5l.1-.3v0l.1-3.2l.1 4.3v.4l.1 1l.1-2.2v1.4l.1 .3l.1-.6l.1-.7v.5l.1-2.1l.1 1.2v0l.1-5.2l.1 3.2v2.9l.1 1.8l.1 .7v-5.8l.1 .9l.1-.9l.1-.9v3.4l.1-.4l.1-.3v0l.1-2.8l.1-.3v2.4l.1 .2l.1-2.5l.1 1.9v-.2l.1-1.1l.1 3v1.3l.1 1.7l.1-1.5v-1.6l.1 2.4l.1-5.9v2.4l.1 .8l.1 0l.1-2.6v-2.7l.1 1.2l.1 2.7v-.3l.1 1.4l.1-1.5v-1.7l.1-.5l.1-1.8l.1 3.2v2.5l.1-1.6l.1 2.9v-4.4l.1 3.9l.1-2.2v.1l.1-2.4l.1-1.4v2.3l.1 2.4l.1 2.3l.1-1v.7l.1-2.7l.1 1.3v.1l.1-5.3l.1 3.9v0l.1-1l.1 1.9v-1.1l.1 1.5l.1 .2l.1-3.3v3.9l.1-.4l.1-1.3v.5l.1 1.4l.1-6.2v4.3l.1 3.1l.1-2l.1 1.6v-1.5l.1 1.9l.1-6.4v.8l.1 .6l.1 1.2v-.9l.1-.6l.1-4.5v.5l.1 2.8l.1 0l.1 2.2v-.2l.1 1.5l.1 3.3v.8l.1 .9l.1-2.5v-2.3l.1-7.1l.1 5.3v.2l.1 3.2l.1-2.3l.1-3.4v.2l.1 4.5l.1-.7v3.4l.1-2.6l.1-.7v1.7l.1-3.6l.1 2l.1-.3v-1.7l.1-.9l.1 2.1v-3.9l.1 4l.1 1.3v-2.3l.1 1.9l.1 3.3v1.5l.1-5l.1-4.3l.1 1.3v4l.1 1.4l.1-5.7v4l.1-.1l.1-1v-3.6l.1 3.2l.1 3.9v-1l.1-2.2l.1 3.4l.1 1.7v-4.5l.1 6l.1 1.3v-7.4l.1 6.5l.1-3.6v-2.5l.1-2.2l.1-1.9l.1 3.1v1.5l.1-.6l.1 1.3v.7l.1 .1l.1-2.9v.9l.1 2.1l.1-.2v-2.5l.1 1.6l.1-4l.1 1.4v.4l.1 3.1l.1 0v-1.7l.1 1.2l.1 2.9v-2.7l.1 2.2l.1 3.9v-3.2l.1 1.2l.1 1.1l.1-3.4v.3l.1 3.1l.1-5.9v1l.1-.6l.1 .5v-2.1l.1 2.9l.1-2.8l.1 2v1.4l.1-3.5l.1 3.2v1l.1-1.1l.1-1.3v4.4l.1 .4l.1-3.5v4.6l.1-1.2l.1-2.1l.1-2.7v.2l.1 1.7l.1 3.6v-.8l.1-.7l.1-1.1v-1l.1 5.9l.1-4v-1.6l.1 1.2l.1 2.1l.1-1.8v.9l.1-2.4l.1-.6v.2l.1 .4l.1 2.4v-1.4l.1-.7l.1 3.9l.1-3.4v.3l.1 3.5l.1 .5v-1.8l.1-1.6l.1-2.3v3.3l.1-1.7l.1-1.8v3.6l.1-3.6l.1 4l.1-2.1v4l.1-3.4l.1-4.2v-1.6l.1 1.2l.1 4.1v-1.6l.1 7.9l.1-4v-2.4l.1-4l.1-1.4l.1 5.2v-3.3l.1-2.8l.1 7.1v4.6l.1-4l.1-1.3v2l.1 3.4l.1-3.8l.1-.8v-2.7l.1 3.3l.1 1.3v.4l.1-4.7l.1-.3v1.4l.1 4.5l.1-2.8v-.7l.1 4.9l.1 2.5l.1 .7v-10.7l.1 4l.1 4.1v-4.4l.1-3.4l.1 .6v3.5l.1 .4l.1-1.4v6.7l.1 .2l.1 1.1l.1-2.8v5l.1-4.4l.1 1.6v-5.8l.1-6.7l.1-4.4v6.1l.1-.7l.1 1.8l.1 .4v-3.6l.1-1.8l.1 5v1.9l.1-2.1l.1-1.8v-5.2l.1 4l.1 2.8v0l.1 2.3l.1-.6l.1 6.2v-6.4l.1 .4l.1 1.5v-1.2l.1 4.6l.1-.1v-5.1l.1 1.1l.1 .7v-.1l.1 3.5l.1 2.3l.1-8.8v1.2l.1-4.6l.1-3.6v5.1l.1 2.7l.1 3.7v-9.5l.1 4l.1 4.1l.1 .4v3.8l.1-6.9l.1 .3v0l.1-2.6l.1 .4v-2.6l.1 1.6l.1-1.1v2.3l.1 2.1l.1-1.3l.1 2.8v-2.8l.1-.5l.1-4.5v-1.2l.1-.4l.1 .9v1l.1-1.7l.1 5.8v-5.3l.1 4.2l.1-1.3l.1-2.9v5.3l.1 .3l.1-1.4v-.2l.1 .8l.1-5.4v1.2l.1-.3l.1 3.4l.1-1.5v-.6l.1 0l.1 3.8v-8.7l.1 2.9l.1 5.1v-2.3l.1-2.9l.1-2.5v2.2l.1 2.1l.1-2.6l.1 .2v-1.2l.1-2.7l.1 2v2l.1-.5l.1 3.7v-.7l.1-.5l.1 2v2.5l.1 .2l.1 3.9l.1-3.3v-4.7l.1 7.5l.1-3v.2l.1 5.2l.1-2.7v-5.7l.1 3.1l.1-3.6l.1 .6v-1.2l.1-3.7l.1-2.9v3.5l.1 3.4l.1 3.5v5.8l.1-9.1l.1 .8v-4l.1 2.4l.1 5.7l.1-1.7v-3.8l.1-1.5l.1 1.2v1.2l.1-2.6l.1-2.6v3l.1 6.1l.1-.6v-4l.1 .7l.1 2l.1 3.2v-6.7l.1 .9l.1-1.3v.5l.1-.6l.1 4.3v1.7l.1 5.1l.1-1.9l.1 1.3v-6.2l.1 5.2l.1-.5v.2l.1 1.3l.1 .2v-1.4l.1-1.2l.1-.6v-7.2l.1 1.1l.1 .4l.1 .8v.1l.1-.3l.1-1.2v-3.7l.1 3.4l.1-2.5v7.5l.1-3.8l.1 2.9l.1-4.1v3.2l.1-2.3l.1 3.3v6.1l.1-5.2l.1-2v-1.4l.1 4.9l.1-3v1.2l.1 3.6l.1-1.4l.1 1.6v1l.1-2.8l.1 2.6v2.3l.1-4.5l.1 3v-.2l.1 .8l.1-2.6v-.6l.1-.3l.1 .4l.1-4v.3l.1-2.4l.1-.4v4.5l.1-5.4l.1 2v2.7l.1-5.3l.1 5.2l.1 0v3.4l.1-3.2l.1-.6v2.4l.1-1.2l.1 2v-2.9l.1-1.2l.1 4.2v-2l.1 .9l.1 2.1l.1-4v-.4l.1-1l.1-4.1v1.8l.1 2.4l.1 1v-.6l.1-.8l.1 0v-1.8l.1-1.5l.1 4.2l.1 2.6v-2.5l.1 2.9l.1 .8v-1.2l.1-2l.1-.5v-2.8l.1 5l.1 5.4l.1-2.5v-5l.1 3.6l.1 .9v-.3l.1 1.7l.1-2.3v-.2l.1 2l.1-1.5v1.5l.1-2.5l.1 .6l.1 2.4v-8.6l.1 3.4l.1-1.5v.1l.1-3l.1 3.7v-1.2l.1 1.1l.1 1.1v4.1l.1-2.4l.1-4.8l.1 5.3v-1.8l.1-1.5l.1 3.5v-2.4l.1-1.6l.1 4.2v2.3l.1-5.8l.1 4.1l.1 2.4v1.4l.1-1.5l.1-2.4v3l.1-2.2l.1-1v-.3l.1-1.9l.1-1.4v-.9l.1 1l.1-.4l.1-3.3v4.1v5.1l.1-2.9l.1-6v1.8l.1 2.7l.1 1.2l.1-1.7v.3l.1-1.1l.1-1v5.1l.1-1.5l.1 .2v2.4l.1-.4l.1-3v-.4l.1-5.5l.1 3.2l.1 1.6v3.3l.1-5.8l.1 1.3v-.5l.1 5.3l.1-3.3v3.2l.1-3.7l.1-1.2l.1-3v-1.8l.1 3.8l.1 2.4v0l.1 .7l.1-1.6v-1.4l.1 2.7l.1 1.3v-2.4l.1 2.8l.1-7.7l.1 5.2v-1.7l.1 3.4l.1 1.3v-2.7l.1-.9l.1 5.3v-4.7l.1-5l.1 4.2v-5.5l.1 8.1l.1 1.3l.1-1.9v1.1l.1-1.7l.1-2.5v-1.1l.1 .3l.1-1.9v3.3l.1-2l.1-2.8l.1 5.4v-2.9l.1-2l.1-.9v-.3l.1 10l.1-8.1v1.5l.1-1.3l.1 3.4v-1l.1 .9l.1-2l.1-2.2v.5l.1 .2l.1 0v.4l.1 2.8l.1-3.7v-.6l.1 1.8l.1 2.3v-7.8l.1 .2l.1 7.4l.1-2.8v.8l.1 3.4l.1-4.2v-1.6l.1 2.4l.1 3.1v-3.3l.1-.2l.1-3.5l.1 6.3v-3.9l.1-.8l.1 3.5v-3.6l.1 3.5l.1 1.5v.5l.1-6.6l.1 3.1v-1.6l.1 4.9l.1-1.7l.1-5.1v2.6l.1 2l.1-3v0l.1 .6l.1 .6v.3l.1 4.3l.1-4.1v1.9l.1 4.1l.1-6.9l.1 0v1l.1-3l.1 2.3v-1.4l.1-1.2l.1-4.3v.2l.1 7.4l.1 1.8l.1-2.7v3l.1-1.9l.1-3.6v-1.1l.1 3.5l.1-.2v4.5l.1-3.7l.1-2.7v.2l.1 5.5l.1-3.3l.1-.2v-1.7l.1 1.6l.1-.2v.7l.1-5.1l.1 5.4v.8l.1-4.7l.1-2.3v-1.2l.1 5.3l.1-4l.1 4.6v2.1l.1-1.9l.1-6.4v-1.2l.1 7.8l.1 4.7v-7l.1 .3l.1 2.5l.1-2.4v1.1l.1-2.3l.1 3.3v4.5l.1-5.9l.1 5.9v-8.3l.1 2.6l.1 0v3.2l.1-3.4l.1-1.2l.1 3.2v-5.9l.1 2.2l.1-.4v2.3l.1-.7l.1 3.4v-3.6l.1-.9l.1-3.8v9.3l.1-4l.1-2.8l.1-.1v3.9l.1-5l.1 9.6v-3l.1-5.4l.1 7.9v-7.3l.1-3l.1 9.5l.1-1v.1l.1-4.6l.1-1.7v.8l.1 2.4l.1-6.3v.6l.1 7.3l.1-2.2v5.2l.1-3.8l.1-1.6l.1-2.3v.3l.1 2l.1 4.7v-3.6l.1-1.1l.1-4.6v2.3l.1 1.2l.1 1.4v.6l.1-3l.1 3.5l.1 .3v.6l.1-.8l.1 .8v.6l.1 3l.1-5.5v.1l.1 1.7l.1-.5l.1-6.2v5.3l.1 1l.1-.5v-.8l.1-1.8l.1 1.4v0l.1 4.6l.1-.3v-.3l.1-4.6l.1 1.3l.1-1.3v4.9l.1-.4l.1-3.8v1.7l.1-5.1l.1 9.2v-4.9l.1-3.4l.1 2.5v.9l.1-.5l.1 .6l.1-.9v-.7l.1-1.3l.1 6.9v-3l.1 .7l.1 1.2v1.8l.1 .1l.1-8.3l.1 4v2.7l.1-4.2l.1 5.5v-1.4l.1-5l.1 4.8v3.4l.1-2.9l.1-1.6v.1l.1-.6l.1 3.9l.1-2.7v1.6l.1-1.8l.1 5.2v-6l.1-2.3l.1 5.7v-2.3l.1-4l.1 7.6v-2.9l.1-3l.1 3.8l.1 1.6v3l.1-7.2l.1 1v.1l.1-1.4l.1 1.2v-1l.1-1.4l.1 2.5l.1 .2v1.9l.1-2.6l.1 1.3v-1.1l.1-1l.1 3v-2.2l.1 7.7l.1-4.1v-3.1l.1 3.2l.1-.5l.1-.4v-3.6l.1 .5l.1 2.8v.5l.1-1.6l.1 4.7v-2.9l.1-2.3l.1-1.8v0l.1 2.7l.1 .5l.1-.4v1.6l.1-4.8l.1 3v6.1l.1-6.8l.1 5.1v-1.6l.1-2.5l.1-1.9l.1 3.1v-4.2l.1 2.6l.1 1.3v1l.1 .7l.1 2.8v-4.3l.1 4.8l.1-3.2v-1.1l.1-.9l.1 2.2l.1-.6v1.7l.1 .8l.1-3.9v-.8l.1-1.6l.1 5.9v-1.1l.1 1.9l.1 2.2v-1.2l.1-2.8l.1-2.8l.1-.9v3.6l.1-1.8l.1 .9v-1.8l.1 1.3l.1-1.9v3.4l.1-2.1l.1 1.4l.1-1.7v3.2l.1 1.8l.1 .6v-1.5l.1 0l.1-1.3v-5.4l.1 3.6l.1-2.3v4.5l.1 1.6l.1 .1l.1 .5v-2.8l.1 1.9l.1-1.9v-5.7l.1 5.8l.1 .6v-3.8l.1 2.1l.1-5.2l.1 3.7v3.7l.1-3.2l.1 2.3v-1.3l.1-1.5l.1-4v5.8l.1-.3l.1-2.5v3.4l.1 1.6l.1-4.2l.1 .1v-4.2l.1 3.2l.1 3.4v-4.3l.1-3.6l.1 .7v4.4l.1-4.4l.1 5.6v1.2l.1 1.3l.1-.2l.1-2.3v1.3l.1-4l.1 3.1v4.2l.1 1.7l.1-3.3v-3.6l.1 2.6l.1-3.6l.1 1.3v1.6l.1 3.4l.1-6.8v-.3l.1-.8l.1 3.7v.4l.1-.1l.1-6.1v2.6l.1 2.8l.1-.2l.1-1.7v-1l.1 2.8l.1-.9v1.5l.1-5.7l.1 .2v-.6l.1 3.4l.1-.6v1.5l.1 1.5l.1-3.5l.1-.2v1.4l.1 .4l.1 1.2v2.1l.1-5.1l.1-1.5v5.5l.1-.9l.1-1.1l.1-4.1v-1.9l.1 1.5l.1 2.9v-7l.1 10.4l.1-3.7v.2l.1 1l.1 5.3v-1.4l.1-.9l.1-4.1l.1-1.2v3.8l.1-3.9l.1 3.4v-2.7l.1 1l.1 5.2v-9l.1-2.6l.1 8.4v-2.1l.1 6.1l.1 1.4l.1-2.6v-6.6l.1 6.2l.1-6.2v-3.1l.1-.3l.1 8.1v-6.5l.1 0l.1 8.3l.1-6.4v2.8l.1 2.7l.1-3.4v2l.1-1.7l.1-2v2.1l.1-1.2l.1 3.3v-1.4l.1-2.1l.1 3.5l.1-1.2v-1.5l.1 4.1l.1-2.8v-.4l.1 1.8l.1 .2v2.7l.1-3.7l.1-1.9v-1.6l.1 1.2l.1 1.1l.1-.7v6.4l.1-.1l.1-7.9v4.7l.1 5.9l.1-6.5v7.5l.1-7.6l.1-1.2l.1 2.4v-3.8l.1-.3l.1 .3v.9l.1-2.1l.1 6.9v0l.1-3.2l.1 4.4v2.5l.1 2.3l.1-11.4l.1-4.8v2.7l.1 4.5l.1-.3v-1.6l.1 0l.1 7.8v-7l.1 2.1l.1 0v-7.6l.1 14l.1-5.1l.1-3.4v-1.3l.1 5.5l.1-8.5v-3.9l.1 7.9l.1-.2v10.6l.1-9.4l.1-1.1l.1-1v-3.7l.1 3.6l.1 1.5v.1l.1 2.6l.1 4.3v-8.4l.1 1.9l.1-2.6v1.5l.1 3.1l.1 1.4l.1-4v-.6l.1 .1l.1 2.6v-3.7l.1 5.7l.1-6.2v-.4l.1-.8l.1 6.2v-4.1l.1 6.2l.1-9.8l.1 4.9v1.1l.1 .3l.1-2.6v5.8l.1-2.2l.1-.1v-5.7l.1-.5l.1 6.1l.1-.3v-4.4l.1-2l.1 2.5v-1.7l.1 4.7l.1-2v-4.4l.1 4.7l.1 1.5v-1l.1-2.3l.1 0l.1 .9v.6l.1 2.7l.1-2.1v-1.2l.1 .3l.1 4.1v-1.8l.1 2.7l.1-5.3v-2.3l.1 1.9l.1-5l.1 5.9v1.8l.1-6.4l.1 3.4v1l.1 3.2l.1 2.9v-5.4l.1 4.3l.1 2.6l.1-2.4v-6.6l.1 1l.1-2.3v6.8l.1-3.7l.1 3.9v-.9l.1 3.9l.1-.9v1.6l.1-4.7l.1-2.9l.1-1.5v-.1l.1 2.8l.1 .5v-3.3l.1 10.2l.1-3.2v-5.7l.1 .4l.1-.3v4.2l.1-2.5l.1 5.8l.1-3.4v-5.1l.1 6.1l.1-1v1.9l.1-2.2l.1-.9v-1.5l.1 1.4l.1 .5l.1-1.8v2.8l.1 1.5l.1 0v-2.1l.1 2.3l.1 3.1v-9.2l.1 10.2l.1-.8v-2.5l.1-3l.1 1.3l.1-1.9v.7l.1-2.6l.1 2.8v-1.4l.1 6.3l.1 0v2.5l.1-1.3l.1-4.5v5.9l.1-5.7l.1-3l.1-1.2v3l.1 5.7l.1-3.1v-2.6l.1-.1l.1-.6v-4.9l.1 .5l.1 7.8l.1 1.2v-1.6l.1-8.8l.1 7v6.7l.1-12.4l.1 2.5v.4l.1 .1l.1-1.7v2.5l.1-2.6l.1-1.6l.1 1.6v6.6l.1-2.2l.1-1v3.5l.1-.4l.1 1.7v-3.2l.1-1.4l.1 .1v6.7l.1-2.3l.1-3.4l.1-3v.9l.1 1.8l.1-2v-1.1l.1 2.9l.1 2v1.4l.1-.4l.1-2.8l.1-9.7v5.6l.1 1.6l.1 5v1.9l.1-2.4l.1-6.4v-.6l.1 3l.1-3.1v2.2l.1-4.4l.1-.9l.1 .5v-2.3l.1 6.6l.1 .3v3.7l.1-3.4l.1 0v.2l.1-1.3l.1 3.5v-1.6l.1-8.3l.1 11.5l.1-3.2v-3.5l.1 6.8l.1-4.3v-1.9l.1 .6l.1 3v-4.3l.1 3.2l.1-1.7l.1 5.9v-4.4l.1-7.4l.1 3.8v1.2l.1-.3l.1-1v8.2l.1-4.6l.1-6.9v3.6l.1-3.1l.1 6l.1 .3v3.5l.1-4.8l.1-3.6v.8l.1-1.4l.1 1.5v.6l.1-.8l.1-3.6l.1 .7v6.8l.1-1.4l.1-.6v2.2l.1-1.6l.1-4.4v2.2l.1 3.8l.1 1.3v-2.4l.1 2.9l.1-9.5l.1 3.9v.8l.1-3.3l.1 .8v3.5l.1-.6l.1-4.9v2.3l.1 1.6l.1-1.6v2.2l.1 1.7l.1-1.7l.1 1.5v1.3l.1-3.2l.1-1.4v2.7l.1-2.8l.1 .1v0l.1-4.2l.1 .5l.1 6.7v-2.4l.1 .5l.1 1.1v-1l.1-2.2l.1-1.7v-.4l.1 3.4l.1 .3v-1.8l.1 .4l.1 1.4l.1-5.4v7.8l.1-2.1l.1-2.5v2.8l.1 1.1l.1 1.6v-.2l.1-1.6l.1-3.5v2.7l.1-1.6l.1 2.1l.1-5.8v6.9l.1-2.8l.1 .4v-7.6l.1 .7l.1 4.4v-3.5l.1 6.5l.1-1.4l.1 3.7v-4.1l.1-2.7l.1 4.6v-2.5l.1-.8l.1-4v11.5l.1-8.2l.1 1v-3.3l.1 1.1l.1 2.1l.1 3.4v1.5l.1-7l.1 4.3v2.8l.1-1.4l.1-2.3v-5.4l.1 2.2l.1 .8v-.4l.1 3.9l.1 4.6l.1-4.7v3l.1-3.3l.1-1.5v-4.3l.1 8.7l.1-2.5v-5.7l.1-.1l.1 1.3l.1 6.8v.6l.1 3l.1-1.7v-5.1l.1-5.8l.1 2.1v3l.1-6.9l.1 2v6.1l.1-1.3l.1-1.1l.1-1.6v8.2l.1 2.3l.1-6.9v-4.4l.1 3.5l.1 .4v2.5l.1 0l.1 1.3v-1.1l.1 4.8l.1-7.3l.1-2.9v1.8l.1 6.3l.1-.3v-1.6l.1 .2l.1 2.9v1l.1-8.4l.1 .4l.1 1.4v2.8l.1-4l.1-3.9v3.3l.1-.8l.1 0v5.7l.1-1.1l.1-9.3v2.9l.1 5.6l.1 2.2l.1-4.4v.1l.1-3.7l.1 .8v-2.4l.1 3.2l.1 5.4v-6.4l.1-.5l.1 4v-1.6l.1 5.6l.1-3l.1-2.4v3.5l.1-5.3l.1 7.9v-3.7l.1 1.9l.1-1.8v-5l.1-3.3l.1 2.5l.1 7.3v-5.6l.1 5.4l.1-.6v-5.2l.1 8.8l.1-3.8v3.7l.1-12.3l.1 11.3v-.9l.1-4.5l.1 3l.1-3v5.9l.1-4.9l.1 2.9v-3.8l.1-2.2l.1 5.8v1.1l.1-6.1l.1 4.2v-4l.1 6l.1 1l.1-4.3v-1.6l.1 10l.1-12.2v6.9l.1-3.3l.1 5.7v-1.1l.1-8.6l.1 1.6l.1 4.5v.7l.1-1.5l.1-1.4v-3.1l.1 0l.1 1.4v-1.9l.1 5.3l.1-3.2v11.5l.1-12.9l.1 4.9l.1 1.4v3.3l.1 1.9l.1-9.7v5.2l.1 .1l.1 1.1v.1l.1-3.6l.1 2.5v-.1l.1-2.9l.1 5.5l.1-5.2v-.1l.1 .2l.1 9.6v-6.1l.1-.5l.1-.7v-1.6l.1-5.4l.1 7.3l.1 1v.3l.1 2.3l.1-4.5v2.3l.1-1l.1 2.5v-.5l.1 .3l.1-1v1.3l.1-2.9l.1 5.7l.1-2.2v-2.7l.1-4.3l.1 5.4v-1.9l.1 1.6l.1-.5v-1.2l.1-1.4l.1 2.3v1.4l.1-.1l.1 .8l.1 3.6v-4.7l.1 .4l.1 .6v1.2l.1-4.9l.1-2.9v4.9l.1-1l.1 1.8l.1 2v-.2l.1-1.6l.1-.7v-.5l.1-.4l.1 2.1v2.1l.1-5.2l.1 1.2v-2.1l.1 .7l.1 4.7l.1-2v-3.5l.1 .8l.1 4.6v-2.8l.1-5.3l.1 4.1v.4l.1 .1l.1-1.6v.7l.1-2l.1 .6l.1-.4v-.7l.1-.1l.1 .1v2.9l.1 .5l.1 3.7v-1.6l.1-2.3l.1-3.3l.1 2.8v-3.9l.1 3.9l.1-4.4v.5l.1 .2l.1-4.1v6.1l.1-.1l.1-.5v1.1l.1-5.6l.1 3.5l.1 3.3v1.6l.1-3l.1-.8v-.4l.1 .6l.1 6.3v-2.6l.1-1l.1 1v-2.7l.1-2l.1 4.7l.1-.6v-8.4l.1 5.6l.1-4.5v5.3l.1 1.3l.1-3.2v5.8l.1-7.7l.1 5.7l.1-5.2v.8l.1-4.1l.1 4.4v-1.2l.1 5.6l.1-1v-.4l.1-1.1l.1 .8v-3.7l.1 2l.1-4.5l.1 1.3v-1.2l.1-3l.1 1.3v.8l.1 5.4l.1-2.9v-3.4l.1 7.8l.1-9.5v6.4l.1 1.1l.1-.7l.1 2.8v-.9l.1-1.6l.1 1v-4.7l.1 5.7l.1-.7v-7l.1 1l.1-2.2l.1 2.6v-1l.1-.4l.1 5.2v-.4l.1 .9l.1-4.7v2l.1 .6l.1-1.8v2.4l.1-4.2l.1 4l.1-1.4v-1.5l.1-.7l.1-1.7v3.8l.1 .3l.1-3.1v3.8l.1-.7l.1 2.5l.1 .2v-1.1l.1-1.5l.1 2.2v2l.1-2.3l.1-2.9v-1.4l.1 2.9l.1 .2v-1.3l.1-.2l.1 1.9l.1 4v-6l.1 1.4l.1 2.2v-4l.1 4.8l.1-5.2v1.7l.1 1.6l.1 3.6v-2l.1-5.1l.1 .9l.1-1.2v5.1l.1-.5l.1 1.9v-1.3l.1-1.7l.1-1.9v-.8l.1 6.1l.1-5.7l.1 4.2v-1.6l.1 1.3l.1-2.6v2.4l.1-3.5l.1 2.5v-2.7l.1 4.1l.1-4.7v2.1l.1 .6l.1 .1l.1-1.2v-1.9l.1 2.2l.1 4.2v-5.4l.1-2.9l.1 6.5v-3.4l.1 .3l.1 0v3.3l.1-2.5l.1-.2l.1 4v-1.1l.1 2.9l.1-5.1v1.6l.1-.4l.1-1.9v1.6l.1 .5l.1 5l.1-5.3v.4l.1 .8l.1-3.4v4.3l.1-6.1l.1 5.9v-4.2l.1 1.7l.1 1.9v-2.5l.1-.8l.1 4.1l.1 3.2v-1l.1-4.5l.1-2.2v.5l.1 2.2l.1 .3v3.5l.1-.5l.1 .4v-2.9l.1-5.1l.1 1.8l.1 .8v1.9l.1-1.7l.1-.8v2.6l.1 1.7l.1-.4v-5.5l.1 2.4l.1-1.6l.1 4.5v-.4l.1 .8l.1-5.1v2.1l.1 3.1l.1-2.1v.2l.1-.1l.1-.1v.3l.1 2.4l.1-6.3l.1 .3v3.8l.1 1.7l.1-3.3v-1.9l.1 2.4l.1 1.7v.5l.1-.9l.1-.2v2.1l.1-4.8l.1-3.4l.1 5.9v-1.9l.1 4.4l.1-4.9v2.6l.1 3l.1-3.5v-1.6l.1 2.8l.1 1l.1-.8v.6l.1-4.5l.1 2.4v2.4l.1-.6l.1 .6v-6.1l.1-1.8l.1 8.9v-4.4l.1 1.4l.1 1.4l.1 1.4v-3.7l.1 3.5l.1-2.6v9.1l.1 .1l.1-6.3v.4l.1-6.2l.1 1.8v4.4l.1 1.9l.1 3.1l.1-3.6v-.7l.1-9.4l.1 4.2v7.3l.1-3.9l.1-6v-.1l.1 13.5l.1-2l.1-1.7v-1.1l.1 2.5l.1-12.2v7.1l.1 1.3l.1 2.9v-1.3l.1-2l.1-5.4v2.6l.1 2.3l.1-4.2l.1 6v2.9l.1-5.7l.1 4.8v-1.4l.1 .9l.1-2.3v3.9l.1-7.1l.1 1.6v4.9l.1-1.4l.1-4.1l.1-1.3v3.8l.1-3l.1 .1v-.6l.1 1.3l.1 5.7v-6.2l.1-.1l.1 4.5l.1 .6v-5.4l.1 8l.1-8.4v.5l.1 .4l.1 .3v3.4l.1-4.8l.1 3.7v2.6l.1-4.8l.1 3.2l.1 3.3v-7.9l.1 .9l.1-.6v.5l.1 1.6l.1 .7v-1.2l.1 1.3l.1-4.6v-1.4l.1 .6l.1 4.3l.1-1.9v-2.9l.1-.5l.1 4.9v-2.8l.1-3.9l.1 8.1v1.8l.1-4.7l.1-3.9l.1 4v-5.1l.1 9.3l.1-.5v0l.1-2.7l.1 .6v.2l.1 2.7l.1-6.1v-1.9l.1 1.7l.1-3.1l.1 4.4v3.7l.1-7.8l.1 4.3v2.4l.1-2.9l.1 2.5v-4.8l.1 6.6l.1-5.7v2.3l.1-3.5l.1 4.4l.1-1.6v-2.7l.1-2.2l.1 1.1v5.6l.1 .6l.1-1.5v-5.5l.1-.3l.1 2.5l.1-3.4v1.6l.1 1.3l.1 .8v-1l.1-.8l.1 3.5v-.5l.1 3.6l.1-6.5v-3.2l.1 3.6l.1-2.1l.1 3.5v.4l.1-4.9l.1 3.7v1.5l.1 2l.1-5.6v-.9l.1 6.5l.1-2.4v-1.5l.1-1.4l.1 4.2l.1-3.6v.2l.1 3.7l.1-.2v-3.5l.1 2.5l.1-1.9v.3l.1 1.5l.1-.7l.1-1.1v2.3l.1-4.1l.1-1.2v-1.6l.1 7.9l.1-1.6v-2.5l.1 .8l.1 2v-2.9l.1-.4l.1 2l.1-3v5.9l.1-1.6l.1 .9v2.9l.1 1.4l.1-2v.4l.1-5.2l.1-.4v-3.4l.1 2.3l.1 5.1l.1-2.1v-5.1l.1 5.1l.1 5v-2.8l.1-6.4l.1 4.3v-1.3l.1 .2l.1 1.1l.1 .6v-2.3l.1 1.2l.1-3.3v3l.1-2.4l.1 .2v3.4l.1-1.3l.1 3.1v-2.5l.1 .9l.1 1.5l.1-4.9v-2l.1 4.9l.1 1.2v1l.1-3.8l.1 5.4v-3l.1-1.5l.1-1.9v.5l.1-4.3l.1 5.4l.1-1.6v4l.1-6.3l.1 8.1v-8.6l.1 4.3l.1-2.4v5.4l.1-5.1l.1 3l.1-7.7v2.3l.1 5.7l.1-.5v-2.1l.1 1.2l.1 5.4v-6.9l.1 2.5l.1-3v3.8l.1-4.7l.1-.4l.1 .3v5.1l.1-4.6l.1 2.5v-6.8l.1 4.9l.1 1.3v1.4l.1-1l.1-1.1l.1-2.8v3l.1-1.4l.1 5.5v3.7l.1-5.6l.1-2.4v8.2l.1-1.9l.1-3.2v0l.1 1.1l.1-.4l.1 .8v-7.4l.1 2.2l.1 3.1v-.6l.1 3.8l.1 1.4v-10.7l.1 1.5l.1 1.8v2.9l.1 .9l.1 5.8l.1-8v.4l.1-2.1l.1 6.1v-1.2l.1-4l.1 1.1v.9l.1 .1l.1 1.6l.1-4v.5l.1-1.5l.1 2.1v1.2l.1 4.4l.1-2v.7l.1-1.9l.1 4.9v-4.1l.1 0l.1-3.7l.1 .9v.1l.1-2.7l.1 5.6v1.6l.1 .3l.1 1.1v3.5l.1-12.6l.1 8.8v-10.7l.1 6.6l.1 1.6l.1 .9v-1.6l.1 1.8l.1-.5v-3.1l.1-1.8l.1 4v-2.4l.1-3l.1 6.6l.1-4.1v.5l.1 1l.1-3.3v4.1l.1 .6l.1-4.8v2.1l.1-1.1l.1-1.5v5.5l.1 4l.1-6.9l.1 5.6v3.7l.1-6.7l.1-1.5v3.4l.1 .4l.1-8.4v8l.1-.3l.1 1.1v2.2l.1-10.6l.1 3.9l.1 1.5v3l.1 .8l.1-.7v-1.3l.1 1.8l.1-5v7.5l.1-1.8l.1-.5l.1-4.5v-2.7l.1 2.7l.1 .3v5.8l.1 1.9l.1-8.4v-.7l.1 7.4l.1-3.9v.5l.1 6.6l.1-9.3l.1 .3v1.9l.1 3.2l.1 4.1v-4.6l.1-5l.1 1.3v7.3l.1-8l.1 3.3v5.1l.1-4.7l.1 3l.1-5.2v4.7l.1-.4l.1 .4v0l.1 .8l.1 1v-4.3l.1 3.1l.1-3.5l.1 6.7v-1.9l.1 .6l.1-4.4v1.8l.1-7.3l.1 5.8v.6l.1-2.1l.1 3.8v-.4l.1 5.4l.1-4.1l.1-4.7v-3.8l.1 4l.1 4.9v-1l.1-.1l.1-4v2.4l.1-.2l.1 2.1v-1.5l.1 .6l.1 3.6l.1-3v-1.3l.1 4.5l.1-2.5v-2.1l.1-3.2l.1 1.4v3.2l.1-2l.1 1l.1 .5v1.5l.1-4.8l.1 10v0l.1-2.9l.1-5.6v1.4l.1-2.5l.1 2.4v-3.9l.1 3.7l.1-.4l.1 8.2v-9l.1-2l.1 3.3v6.5l.1-4.8l.1-3.2v.5l.1 2l.1-3v3.7l.1-1.1l.1-2.5l.1 3.2v.9l.1-2.3l.1 2.5v-1l.1-3.4l.1 7.3v-4.1l.1-.3l.1-1.1l.1-.6v3.9l.1-.6l.1 .9v-.1l.1-1l.1-.7v-.2l.1 .4l.1 3.4v-2.5l.1-2.9l.1-6.8l.1 2v7.5l.1 1.2l.1 .5v-2l.1-4.2l.1 6.4v-.9l.1-.4l.1-5.3v0l.1-.8l.1-.8l.1 .8v3.1l.1 3.7l.1 2v-6.1l.1-2.8l.1 1.7v1.7l.1-4.8l.1-.3l.1-.3v5.8l.1-4.7l.1-1.2v1.9l.1 4.8l.1-3v1.6l.1-3.4l.1 1.8v-.3l.1-1.7l.1 1.3l.1-.8v.8l.1 1.4l.1-2.2v-1.6l.1 2l.1-3.4v3l.1 1.7l.1-2.3v4.7l.1-6.5l.1-1.1l.1 7.4v-3.7l.1 1.8l.1-2.7v.4l.1-.4l.1-3.4v6.9l.1 1.5l.1-10.9l.1-1.1v7.8l.1-3.8l.1-4v6.6l.1-4.8l.1 1.5v3.3l.1 2.6l.1-4.4v5.6l.1-7.4l.1 4.9l.1 3.5v-3.4l.1-4.7l.1 3.7v.3l.1-5.3l.1-3.1v2.4l.1-.1l.1 4.8v.2l.1-.5l.1-2l.1 3.8v-2.3l.1-6.5l.1 0v5.6l.1-.5l.1-5.2v2.6l.1 3.6l.1 .9l.1-5.5v3.6l.1 2.7l.1-1.8v1.8l.1 1.5l.1-4.1v-.4l.1 3.8l.1 1.1v-6.1l.1 1.2l.1-3.1l.1 5.1v.5l.1-3.9l.1-.4v.2l.1 3.4l.1-.5v2.4l.1-.8l.1-1.5v1.1l.1 1.3l.1-2.2l.1-3.7v4.5l.1 2.7l.1-2.2v-3.5l.1 2.2l.1 3.1v-5.3l.1 .1l.1 .8l.1-.3v-3.7l.1-.2l.1 5.5v-4.8l.1 6.6l.1-2.5v-2.9l.1 .3l.1-2.4v8.1l.1-5.5l.1 7.5l.1-3.7v3.8l.1-3.7l.1-.4v-5.7l.1 4l.1-2.1v5.8l.1-3.3l.1 2.5v-3.3l.1-1.7l.1 3.7l.1 .8v-2.4l.1 2.1l.1 2.7v-5.2l.1 1.9l.1-1.6v-1.1l.1 .5l.1 2.6l.1-4.3v5.2l.1 1.5l.1-2.3v-1.4l.1-4.1l.1 5.7v-.9l.1 3.4l.1-4v.5l.1 3.8l.1-3.5l.1 4.3v.5l.1-3.3l.1-2.4v1.9l.1 2.8l.1-4.6v6.4l.1-4l.1-4.2l.1 2.8v6.1l.1-6.1l.1 1.9v-2.8l.1 1.1l.1-5.2v1.2l.1 1.1l.1 2.1v-3.2l.1 5.2l.1-.3l.1-1.9v-2.8l.1 5.5l.1 .4v.2l.1 2.7l.1-2.7v-.4l.1 .9l.1 1v-8.1l.1 5.7l.1 1.5l.1-3.1v3.1l.1-.9l.1-1.3v2.3l.1-3.2l.1-2.4v2.7l.1-3.4l.1 7.5l.1-1.3v-6.1l.1 2.9l.1-1.1v4.1l.1-1.3l.1 3.3v-.7l.1 .1l.1-5.6v6.5l.1-3.7l.1 1.1l.1-3.5v5.2l.1 .1l.1-2.5v-4.6l.1 6.6l.1-2.4v3.9l.1-2.9l.1 .6v0l.1-1.3l.1-1.4l.1 .1v4.6l.1 1.2l.1-2.9v0l.1 3.7l.1-3.7v-2.2l.1 2.6l.1-1.4l.1 4.1v-.3l.1 1.1l.1-5.9v3.8l.1-1.3l.1 1.6v-2.3l.1-.2l.1-2.4v4.2l.1 3.9l.1-.5l.1-1v-2.9l.1 1.8l.1 .3v-3.4l.1 .5l.1 1.8v.9l.1-.2l.1-.7v1.6l.1-2.3l.1 1.3l.1-2.9v.1l.1-2.6l.1 6.2v-6.8l.1 2.4l.1-1.7v4.3l.1-.9l.1 3.1l.1 .5v-6.2l.1 1.4l.1-.2v-1.4l.1 2.9l.1-.9v-.1l.1 1.1l.1 1.6v-1l.1-.4l.1-3.8l.1 4v-3.6l.1 6.3l.1 2.6v-3l.1-2.3l.1 1.2v1.6l.1 0l.1-5.5v.8l.1 1.5l.1-4.4l.1 6.5v-.8l.1 1.5l.1-3.7v.6l.1 3.6l.1-2v-3.3l.1 5.4l.1-2.5l.1-1.3v-1.2l.1 4.7l.1-5.3v-.3l.1 5.7l.1-1.5v-.7l.1-1.2l.1-1.7v-1.1l.1 3l.1-3.3l.1 2.1v3.2l.1-2.2l.1-7.1v6.2l.1-.7l.1-2.1v4.4l.1-2.8l.1 2.6v-1l.1-5.3l.1 1l.1 5.8v.4l.1-1.4l.1-6.3v4.7l.1 2.1l.1-2.8v.7l.1 1.8l.1-.4l.1-3v1.2l.1-5.3l.1 .6v5.4l.1 2.5l.1-2.4v-.1l.1-1.3l.1-3.4v3.4l.1-1.4l.1-.7l.1-3v.2l.1 1.8l.1 .2v-.7l.1 1.3l.1-.8v-.7l.1-1.4l.1 6.7v-3.4l.1 6.2l.1-9.8l.1-3.5v6.9l.1 .8l.1-4.3v4.3l.1 3.4l.1-2v-2l.1-5.4l.1-2.2l.1 10.1v-1l.1 1l.1-2.5v-2.4l.1 .2l.1-2.3v-3.1l.1 3.1l.1 1.3v3.1l.1-.9l.1-.8l.1 2.1v2.3l.1-4.6l.1-4.4v6.4l.1 1.1l.1-1.9v1.7l.1-4.9l.1-.8v3.5l.1-.1l.1-1.1l.1 2.5v-2.9l.1 4l.1-4.3v.2l.1 .8l.1-2v6.2l.1 1.2l.1-9.6l.1 1.2v2l.1 .5l.1 1.3v-3.9l.1 3.8l.1-.1v-.2l.1-1.5l.1 1.7v-3.8l.1 5l.1 4.6l.1-9.5v3.8l.1 .5l.1 1.4v-6.1l.1 2.4l.1 0v-2.5l.1 3.4l.1 .9v-2.9l.1 8.6l.1-7.2l.1 2.7v-5.4l.1 2.4l.1 3.9v-3.8l.1-.4l.1 .8v.2l.1-2.5l.1 4.2l.1-3.9v1.6l.1 .1l.1-4v6.2l.1-3.7l.1 4.3v-3.7l.1 8.2l.1-3.6v1.7l.1-4l.1-.2l.1-1.7v2.7l.1-2.2l.1 2.2v5.1l.1-12.1l.1 0v-.4l.1 8.1l.1 .8v-3.1l.1 4.3l.1-4.1l.1-2.1v1.8l.1-1.8l.1 4.8v-4.2l.1 2.2l.1-2.2v-3.5l.1 7.2l.1-.9l.1 1.1v4.6l.1-1.1l.1-4.6v-2.1l.1 1.5l.1 2.5v-4.2l.1 3.1l.1 2.3v.4l.1-2l.1-5.7l.1 4.8v2.5l.1-3l.1 .1v.8l.1 .1l.1-.3v-1l.1 2l.1-2.6v1l.1 2.7l.1-4.3l.1 2.9v-1.4l.1-3.4l.1-1.6v.8l.1 1.7l.1 1.6v5.9l.1-3l.1-.9l.1 3.3v-3.3l.1 3.8l.1-2.3v-3.2l.1-1.7l.1 5.6v-3.2l.1 .1l.1 2.4v2.9l.1-4l.1 1.6l.1-2.8v4.5l.1-5.2l.1-.5v.8l.1 .7l.1-.5v5.6l.1-4.4l.1 5v-4.6l.1 1.7l.1-2.8l.1 2.4v3.3l.1-4l.1-.4v-.1l.1 .1l.1 2.8v-2.5l.1 3.6l.1-4.7l.1 1.6v-1.9l.1 2.8l.1-5.9v4l.1-1.9l.1 1.5v.7l.1-2.9l.1 2.7v5l.1-2.4l.1 3.8l.1-5.8v-1.2l.1 2.8l.1-.7v4l.1-5.5l.1 1.4v1l.1-6.1l.1 4.3l.1 1.6v3.4l.1 .7l.1-1.3v-3.4l.1-.5l.1 3.2v4.2l.1-6.4l.1 3.7v-2.8l.1-3.7l.1 1.3l.1 .4v4.5l.1-4.3l.1 1.3v.8l.1 .3l.1 0v-2.9l.1 2.7l.1-3.5v5.1l.1 1.4l.1-1l.1-2.2v.9l.1-3l.1 6.7v1.4l.1-3.6l.1-8.4v4.6l.1-2.7l.1 1l.1 2.2v-1.2l.1 .8l.1 2.7v.4l.1-4.5l.1 2.6v-3.5l.1-.2l.1 .9v2.1l.1-.5l.1 .5l.1-1.6v2.6l.1 2.1l.1-.4v-5.8l.1 3.7l.1 5.7v-5.6l.1-5.3l.1 3.9v2.1l.1-.8l.1 .9l.1 1.6v-1l.1 1.7l.1-1.7v-7.1l.1 3.6l.1 .7v7.8l.1-9.8l.1-2.2l.1 6.2v-7.2l.1 1.7l.1-4.2v3.6l.1-.4l.1 2.3v-.6l.1-2.9l.1 3.9v-6.1l.1 3l.1 2.3l.1 5.7v-2.6l.1-2.7l.1 3.1v-3.8l.1-5.2l.1 1.2v10.6l.1-9.4l.1 4.6v.4l.1-2.6l.1-1.6l.1-1.9v7.2l.1-4l.1-3.3v.9l.1 5l.1-4.4v5.7l.1 2.1l.1-.6l.1-6.4v1.5l.1-5.8l.1 5.6v-.8l.1 8.2l.1-5.1v.4l.1 .2l.1-8.1v7.1l.1 .4l.1-1.2l.1 .5v6.1l.1-5.4l.1 1.1v-4.8l.1 2.5l.1 5.4v-5.3l.1 2.2l.1-.9v-6.8l.1 6l.1 1.2l.1-.9v-3l.1-.4l.1 4.1v-.5l.1 1.4l.1-4.8v2.2l.1 2.9l.1-2.6l.1 4.1v.1l.1-1.6l.1-4.6v-1.1l.1 1.1l.1 3.8v1.4l.1-4.8l.1-.7v.9l.1 6.3l.1-5.3l.1 1.2v-.1l.1-.6l.1-3.2v4.8l.1 3.4l.1-4.3v-.3l.1-2.8l.1 0v.8l.1 2.4l.1 .3l.1-4.4v2.4l.1-1.9l.1-1.4v.8l.1 2l.1 .8v-2.9l.1 1.2l.1 .3l.1 .4v.5l.1-1.7l.1-3.5v2.5l.1 .9l.1-2.1v-.3l.1 .9l.1 2.3v1.3l.1-1.3l.1 3.3l.1-1.5v-3.2l.1 1l.1 3.6v-6.6l.1 2.1l.1-.1v-2.9l.1 6.9l.1-3.4v-.7l.1 .6l.1-1l.1 7v-6.1l.1 .4l.1-3.3v.8l.1 3.5l.1-.6v0l.1-3.3l.1 5.8l.1 3v-10.6l.1 5.5l.1 3.9v-1.6l.1 3.2l.1-5.3v-.3l.1 2.2l.1 1.5v-5.7l.1 1.9l.1 5.1l.1-3.8v.7l.1 3.4l.1-8.8v7.8l.1-8.5l.1-.6v.7l.1 10.2l.1-14.6v7.8l.1-.9l.1 7.4l.1-7.9v1l.1-1l.1-2.1v8.7l.1-2.6l.1-3.8v1.5l.1 1.4l.1 5.5l.1-3.9v-.7l.1 .6l.1 6.5v-3.4l.1-6l.1 .8v4.5l.1-3.9l.1-8.4v5.5l.1-3.6l.1 1.7l.1 6.9v.9l.1-1.3l.1-6.2v4.3l.1 .8l.1-2.5v3.6l.1-6l.1-.5v7l.1 1.1l.1-3.2l.1 7.4v-9.9l.1 5.1l.1-1.5v-.2l.1 3.1l.1 1.5v-6.8l.1 1.7l.1 2.8l.1 .6v-8.9l.1 7.3l.1-5.2v12.2l.1-3.2l.1-1.4v-4l.1 8.9l.1-5.6v-3.2l.1 2.6l.1-12.6l.1 5.5v-4.6l.1 5.7l.1 2.6v3.6l.1-.9l.1 1.2v-2.9l.1 .7l.1-4.3v5.7l.1-7.7l.1 3.2l.1 1.1v-2.6l.1 3l.1-.2v10.9l.1-5.2l.1-5.6v4.5l.1 4.2l.1-15.8l.1 13.2v-6.5l.1 7.4l.1-5.5v-1l.1 10.7l.1-6.5v-5.6l.1 1.1l.1 2.2v7l.1-3.6l.1-6.5l.1 7.4v.6l.1-9.9l.1 9v-2.1l.1-5.2l.1-1.4v7l.1-4.5l.1 1.3v1.1l.1-5l.1 1.2l.1 2.2v8.5l.1-8.7l.1 2.3v-.7l.1 5.3l.1-6v1.7l.1 .4l.1-5.2l.1 10v-1.9l.1-4.4l.1 5.1v-3.5l.1 3.2l.1-5.7v1.5l.1-.8l.1 .2v-1.1l.1 9.9l.1-5.3l.1-3.3v-1.9l.1 4.9l.1 4.7v-4.9l.1-5l.1 3.6v1.8l.1-5.9l.1 7.4v-.1l.1-5.7l.1 .8l.1 4.3v3.8l.1-1.6l.1-.6v-5.1l.1 7.4l.1-6.7v.9l.1 .3l.1-2.3l.1 1.1v6.4l.1-9.9l.1 2v5.7l.1 .5l.1-2.9v.3l.1 .5l.1-4.3v4.1l.1 1.9l.1-.8l.1 .4v-4.4l.1 1.6l.1 1.9v4.5l.1-5.7l.1-.6v1.6l.1-6.1l.1-.8l.1 6.3v4.2l.1-3.1l.1 .5v-1l.1 1.1l.1-3v-3.1l.1-.1l.1 3.7v-6.4l.1 1.6l.1-.8l.1 5.2v1.1l.1-3.6l.1-.8v2.6l.1 .8l.1 1.5v-.9l.1 1.9l.1-2.7v1.3l.1-1.1l.1 1.7l.1-3.8v4.5l.1 1.4l.1-5.6v5.8l.1-6.1l.1 2.6v5.3l.1-3.9l.1-.5l.1-1v-2.3l.1-2l.1 7.7v-7.7l.1 2.2l.1-2.1v3.7l.1-3.6l.1 8.6v-6.6l.1-4.2l.1 11.2l.1-7.8v.2l.1-.8l.1 2.2v.5l.1-4.1l.1 9.8v-4l.1-3.2l.1 .9v-.4l.1 2.5l.1-7.3l.1-1.2v.7l.1 7.9l.1 .3v-8.2l.1 5l.1-5.1v4.2l.1 5.5l.1-8.9l.1 5.3v-5.2l.1 .1l.1 2.4v-.2l.1 3.6l.1-4.4v.1l.1-2.8l.1 .6v-.6l.1 2.2l.1 1.7l.1-.3v3.8l.1-4.2l.1-2.5v4.1l.1 4.2l.1-6.6v2.1l.1-8.5l.1 3.8v.9l.1 7l.1-2.8l.1-8.2v6l.1-2.3l.1-4.8v5.1l.1-3.5l.1 1.5v6.9l.1-3.3l.1 3.3l.1-1.2v-3.9l.1-3.6l.1 8.6v-5.9l.1 0l.1-1.2v2.5l.1-3.9l.1-5.1v7.7l.1-4.5l.1 3.2l.1 8.2v-9.4l.1 3.1l.1 .5v7.2l.1-5.7l.1-2.5v-.6l.1 .6l.1 2.8v-2.7l.1-2.2l.1-1.2l.1-1.5v1.2l.1 .3l.1-3.2v-.9l.1 9.5l.1-4.8v8.1l.1-9.4l.1 3.1l.1-3.3v-4.7l.1 1.4l.1 8v.4l.1 2.9l.1-6.7v-3.4l.1 1.5l.1 0v1.6l.1 6l.1-6.4l.1 4.1v-3.3l.1 1.2l.1-3.1v1.7l.1-3.2l.1-3.2v-.2l.1 3.7l.1 5.7v-8.4l.1 11.5l.1-1.8l.1 3.1v-5.9l.1-2.8l.1 3v2.4l.1 1.5l.1-7.3v1.5l.1-5.6l.1 3.2l.1 3.7v1.7l.1 8.8l.1-6.1v-3.5l.1-.5l.1 1.1v7.1l.1-11.1l.1-3.4v5.5l.1 1l.1 5.1l.1-11.5v5.3l.1-.2l.1 2.5v9.5l.1-11.9l.1-11.1v7l.1 .2l.1 7.4v1.1l.1-1.6l.1-3.3l.1-4.9v2.8l.1-.3l.1 1.3v-2.1l.1 2.9l.1 .8v-4.1l.1-5.7l.1-2.7l.1 15.3v3.5l.1-8.4l.1 6.8v-2.4l.1-.5l.1 6v-11.5l.1 7.1l.1-1.1v-3.7l.1-5.1l.1 5.2l.1-2.7v5.2l.1 5.1l.1-6.4v-7l.1 12.3l.1 1.7v-2.2l.1-14.6l.1 5.7v8.4l.1 8.5l.1-9.7l.1-8.6v9.2l.1-3.6l.1-.9v-2.7l.1 3.7l.1 7.6v-8l.1 5.7l.1 2l.1-2.9v2.9l.1-4.5l.1-5.8v8.6l.1 4.2l.1-4.2v-2.4l.1 4.9l.1-7v5.3l.1 6.3l.1-2.1l.1-5.3v-1.7l.1 7.7l.1-3.8v1.8l.1-6.4l.1 3.5v-6.1l.1 5.2l.1-2.4v3.9l.1-5.9l.1 1.6l.1-4.7v.1l.1 11.7l.1-4.1v-2.6l.1-3.1l.1 6.8v-5.6l.1 3.9l.1-1.9l.1-5.6v7.2l.1 3l.1 .9v-5.1l.1 1.4l.1 2.2v-2.5l.1-6.6l.1 7.4v-2l.1 2.4l.1-1.3l.1-1v-1.3l.1 3.6l.1 .4v-2l.1 5l.1 .1v.9l.1-4.8l.1 .2v-.2l.1 1.7l.1-1.2l.1 4.5v-1.9l.1-1.7l.1-3.7v4.3l.1 5.3l.1 2v-11.6l.1 5.5l.1 3.3l.1-2.9v1.9l.1-2.7l.1-4.3v4.6l.1-3.9l.1-.7v-1.8l.1 1.7l.1 .6v6.5l.1 1l.1 0l.1-.1v-3.5l.1-2.4l.1 7.7v-3.2l.1-3.8l.1 1.8v-3.3l.1 6.1l.1-7.5v1.8l.1-.1l.1 1.4l.1-2.8v5.2l.1 1.7l.1-2.9v-1.6l.1 1.1l.1 2.3v-3.1l.1-2.3l.1 .9l.1-.6v4l.1 1.5l.1-.9v-5.2l.1-3.2l.1 3.7v7l.1-1.5l.1-.5v-5.1l.1 2.1l.1 5.9l.1-3.8v1.9l.1-5.6l.1 4.3v-1.6l.1-.3l.1-.7v-.1l.1 6.2l.1-2.3v-2.1l.1-3.9l.1 .3l.1-3.7v3l.1 3.1l.1-.5v-4.1l.1 6.2l.1-1.6v.6l.1-1.4l.1 1.1l.1-.8v-.8l.1 1.4l.1 0v1.3l.1-1.9l.1-4.4v5.6l.1 1.6l.1-4.3v1l.1-.4l.1 .3l.1 2.1v-4.4l.1 2.7l.1 1.4v-1.6l.1-.4l.1-4.9v2.8l.1 3.7l.1 3.2l.1-3.1v-2.3l.1-.1l.1 0v.5l.1 1.4l.1-3v2.1l.1 .8l.1 .6v-1.5l.1 3.9l.1-2.1l.1-4v4.2l.1-4l.1-.1v2.2l.1-2.1l.1 2.2v-1.6l.1 1.1l.1-3.5v3.6l.1 2.5l.1-2.4l.1 2.1v1.3l.1-3.6l.1 3.5v-5.6l.1 4.1l.1-3.1v2.5l.1-3l.1 3.5l.1 .7v-.6l.1-3.2l.1 1.8v-2.3l.1 4.2l.1-4v-2.3l.1 4.2l.1 0v-1.4l.1-1.7l.1-4.1l.1 5.7v-3.6l.1 3.3l.1 .6v-5.8l.1 7.5l.1-.2v-.1l.1-2.6l.1-1.6v.9l.1-3.4l.1 4.4l.1 1.9v-3.6l.1 3.4l.1-1v2.2l.1 .9l.1-.1v-4.8l.1 2.8l.1-1.7l.1-5.4v8.3l.1-3.1l.1 .8v3l.1-1.3l.1-5v1.3l.1 3.1l.1-.1v-5.1l.1 4l.1-1.2l.1-3.5v5.5l.1 4.7l.1-10.1v6.8l.1-3.7l.1-3.1v1.5l.1 6.8l.1-2.4v-1.8l.1 2.8l.1 .5l.1-4v1.5l.1-2l.1 3.9v-.7l.1-1.3l.1-.1v-2.4l.1 1.7l.1-.9l.1 5.2v.5l.1 2.3l.1-4.7v-2.9l.1 2.7l.1 .8v1.2l.1-2.8l.1 2.9v-3.2l.1 5.7l.1-4.2l.1 1.5v-3.2l.1-.6l.1 3.5v-5.3l.1 6.2l.1-5.3v3.7l.1-.1l.1-1v-.2l.1 4.4l.1-1.7l.1 2.7v-3.6l.1 1.7l.1-5.5v4l.1-1.3l.1-1.7v2.5l.1 2l.1-3.6l.1-1.7v4.2l.1-3.7l.1 .2v-.6l.1 2.7l.1-.6v4.1l.1-6.5l.1 6.7v-1.7l.1-2.5l.1-6.1l.1 7.9v-3.3l.1 5.8l.1-3.2v-.6l.1-2.9l.1 6v-3l.1 2.6l.1-.2v-2.4l.1 1.9l.1 5.4l.1-1.4v-4.7l.1-.4l.1-3.4v-2l.1 2.5l.1-.2v7.7l.1-5l.1-2.9l.1-2.3v2l.1-3.2l.1 9.5v-3.7l.1-.5l.1 4.8v-5.5l.1 3.1l.1 .5v-3.4l.1-5.5l.1 5.9l.1 .7v-2.7l.1-1.7l.1 2.6v4.1l.1-4.2l.1-1v4.3l.1-4.1l.1 5.2v-.2l.1-4.2l.1 2.3l.1 2.7v-4.8l.1 5.4l.1 .1v1l.1-1l.1 1.1v-3.7l.1-2.2l.1-1.6l.1-1.5v9.5l.1-5.1l.1-2.3v-1l.1 6.6l.1-1.8v.4l.1-4.9l.1 5.6v-.5l.1 2.6l.1-6.3l.1 6.6v1.8l.1-6l.1 1.4v4.3l.1-7.6l.1-1.7v5.5l.1-.1l.1 1.5v-2.9l.1 2.1l.1-3.3l.1-1.6v-3.6l.1 7.4l.1-4.6v2.1l.1-1.1l.1-.2v1.9l.1-1.3l.1 3.5l.1-2.5v3.8l.1-7.2l.1 3.9v-2.6l.1-1.3l.1 8.7v-6.1l.1 1.9l.1 1.7v1.7l.1-2.2l.1-7.9l.1 7.4v-1.1l.1 .4l.1-2.2v3.3l.1 2l.1-6.7v9l.1-7.5l.1-3.2v4.2l.1 3.9l.1-.6l.1-4.3v3.3l.1-3.7l.1 2.4v1.1l.1-4.5l.1 6.6v-3.3l.1 4.4l.1-4.1l.1 1.2v-.4l.1 .3l.1-.7v2.4l.1-1.1l.1-3.2v-.9l.1-1.6l.1 5.5v1.9l.1 4.2l.1-3.3l.1-1.5v2.1l.1-3.1l.1-2v-3.7l.1 4.1l.1-.7v-1.3l.1 3.1l.1-3.6v1.5l.1-5.6l.1 5.3l.1 .3v6.7l.1-2.8l.1 1.7v-10.6l.1 6.1l.1-.9v3.4l.1 1.7l.1-2.3l.1-.1v-1.8l.1 4.5l.1-5v2.5l.1-.1l.1-6.1v8.9l.1-4l.1-3.4v11.4l.1-9.3l.1-.7l.1 1.3v-2.8l.1 7.7l.1-7.7v6.3l.1-4.1l.1 1.6v-.7l.1 1.3l.1-8.5v11l.1-2.7l.1-2.7l.1 5v-4.9l.1 2.2l.1 4.9v-4.5l.1 .2l.1-2.2v1.7l.1 2.4l.1-6.9l.1 7.6v1l.1-1.1l.1-8.4v8.3l.1-2.8l.1-1.9v.2l.1 4.2l.1-3.4v0l.1 0l.1 5.5l.1-1.2v-1.4l.1-2.3l.1 1.1v-9l.1 7.7l.1-6.5v2.4l.1 2.5l.1 1.5v-1.9l.1 5.4l.1-5.3l.1-1.2v5.9l.1-1l.1-.4v-2.5l.1-3.4l.1 7.1v-3.1l.1 .2l.1-2.8l.1-.8v.8l.1-.4l.1-6.6v5.2l.1 5.4l.1-5.4v1.4l.1-1.8l.1-1.4v-.3l.1-3.5l.1 9.7l.1-4.1v2.9l.1-1.6l.1-3.7v1.2l.1 3.3l.1-.7v.1l.1-1.9l.1-.6l.1 .9v1.2l.1-4.5l.1 2.1v2.2l.1-1.1l.1-1.9v2.3l.1 .8l.1 .8v0l.1 .3l.1-1.9l.1-1.1v1.2l.1 .3l.1 1.6v-1.5l.1-3.1l.1-1.7v-.8l.1 4.5l.1 1.2v3.1l.1-8.7l.1 1.6l.1-.5v4.4l.1 .7l.1-7v8.1l.1-8.2l.1 11v-7l.1 3.3l.1-5.9l.1 5.3v-5.8l.1 4.8l.1-3.6v2.4l.1 1.5l.1 2v1.3l.1-1.2l.1 0v-6.2l.1-.5l.1 1.9l.1 2.5v-3.1l.1 3.3l.1-.4v.4l.1-5.6l.1 1.1v-4.6l.1 6.8l.1-3.2v-1.6l.1 3.6l.1 6.5l.1-5.4v4.4l.1-3.2l.1 .4v-1.9l.1-.2l.1 6.2v-.7l.1-4.6l.1-1.4l.1-.2v1.7l.1-1l.1 2.4v-5.1l.1 3.5l.1-4.7v6l.1-1l.1-3.7v.6l.1 2.5l.1 1.7l.1-5.2v5.7l.1-4.4l.1-1.1v2.6l.1-2.4l.1 2.5v.5l.1 5.7l.1-3.3v-3.5l.1 2.1l.1-1.1l.1 3.2v-4.9l.1 3.1l.1-3.8v2.2l.1-3.1l.1 6v.9l.1-12l.1 9.5l.1-1.2v4.8l.1 2.4l.1-7v.6l.1-3.8l.1-.5v5.4l.1-6.6l.1-1v5.7l.1-3.5l.1 1.9l.1-3.1v7.4l.1-5.7l.1 1.4v-1.1l.1-2.4l.1 .2v-.7l.1 2.7l.1-2.3v5.2l.1-2l.1 5.1l.1-2.7v3.6l.1-.7l.1-3.7v5.8l.1-12.6l.1 9.2v-2.2l.1 1.6l.1-2.5l.1 3.8v-.1l.1-7.5l.1 4.1v4.9l.1-.4l.1 0v-6.3l.1 4.9l.1-2.3v-.6l.1 2.6l.1 .7l.1 2.7v-2.6l.1 5.9l.1-5.8v1.7l.1 4.7l.1-6.9v.2l.1 .2l.1 2.1v-3l.1-1.1l.1 3.8l.1 .8v-2.2l.1-2.1l.1 5v3.7l.1-5.3l.1 1.9v-1.2l.1-2l.1 4.8l.1-5.3v-2.3l.1 2.8l.1 2.8v-4.1l.1-2.6l.1 2v-3.1l.1 2.6l.1 4.3v-8.4l.1 9.5l.1 .7l.1-2.1v3.2l.1-5.7l.1 2.8v-6.2l.1 4.2l.1 .7v2.4l.1 3.7l.1-2v-8.1l.1 3.4l.1 5.5l.1-.5v-3.9l.1-.9l.1 .1v-1.4l.1-6.7l.1 8.4v2l.1 2.2l.1-5.2l.1 1.2v-6.3l.1 2.2l.1 6.9v-8.4l.1 4.7l.1 8.7v-2.7l.1-1.5l.1-2.2v-1.4l.1-4.7l.1 12.9l.1-3.5v-3.8l.1 2.3l.1-2.3v2.1l.1-3l.1 1.2v-.3l.1 2.5l.1-.7v1.4l.1-4.4l.1 .3l.1 1.1v-1.4l.1 .8l.1 3.1v.9l.1-4l.1 .4v6.9l.1-7.4l.1-2l.1 4.7v-2.1l.1 1.8l.1 4.5v-5.9l.1 .2l.1-1.4v3.9l.1 6.9l.1-7v-1.2l.1-.7l.1-.6l.1 9v-7.5l.1-3.5l.1 10.4v-7.9l.1 .5l.1 3.8v-.2l.1-6.1l.1-2.4v4.3l.1 3.6l.1 3.9l.1-4.8v2.2l.1-5.7l.1 7.7v3l.1-6.8l.1-3.6v1.7l.1 8.5l.1-10.6l.1 .8v-2.7l.1-1.7l.1 6.1v2l.1 .1l.1 .8v-7.8l.1 7.2l.1-1.4v-1.3l.1 3.6l.1-4.1l.1 .8v-9.2l.1-.2l.1 10.4v-5.4l.1 3l.1 0v-1.4l.1 5l.1-5.1v4.6l.1-4.2l.1-6.7l.1 1v5.3l.1 6.6l.1-.7v-5.2l.1 4.3l.1-5v2.9l.1 2.2l.1-.8l.1-7.2v11.9l.1-6.8l.1 1v.1l.1-7.7l.1 4.4v5l.1-3.4l.1-6.4v3l.1 1l.1-2.3l.1 7.4v-9.1l.1 9.5l.1-8.7v.7l.1 4.3l.1-6.6v3.7l.1 2.3l.1-8v4.6l.1 3.8l.1-6.4l.1 1.2v1.3l.1 6.6l.1 .8v-1.6l.1-4.9l.1 1.4v2.6l.1-4.3l.1 2.4l.1 .1v-.5l.1-1.8l.1-2.3v6.4l.1-3.1l.1-.1v2.6l.1-3.8l.1 1.3v1.8l.1-5.3l.1 4.5l.1-.3v-.2l.1-2.1l.1 1.9v2.6l.1-5.5l.1 2v2.7l.1 3l.1-7.2v7.3l.1-5.8l.1 2.8l.1-2.1v2.2l.1 2.5l.1 .6v-2.2l.1-3.2l.1 2.2v-2.5l.1-.4l.1 2.7l.1 .6v-3.7l.1 4.1l.1-.1v-.8l.1 1.3l.1 .5v-2.5l.1-5.7l.1 4.2v-2l.1 0l.1 .4l.1 5.2v-2.2l.1 3.1l.1-2.2v-5.1l.1 4.2l.1 2.1v-6.3l.1 1.6l.1 2.3l.1-.9v3.3l.1-3.6l.1 3.2v-3.1l.1-1.7l.1 4.1v-.3l.1-3l.1 6.4v-1.7l.1 1.4l.1-4.2l.1 .5v.1l.1 2.2l.1-6.2v1.4l.1 .9l.1-1v3.6l.1-4.6l.1 1v-1l.1 2.4l.1-2.5l.1 4.7v.1l.1-7.4l.1 .2v7.5l.1-2.1l.1-4v1.9l.1-.9l.1 3.2l.1-3.2v.6l.1 .7l.1 .4v2.9l.1-2.6l.1-2.8v3.3l.1-3.6l.1 6v-.8l.1-.9l.1 1.8l.1 0v-.4l.1 .1l.1-2.5v2.4l.1-2.8l.1 3.9v-6.1l.1-2.5l.1 .6v6.3l.1-4.3l.1 2.3l.1-1.3v4l.1-4.9l.1 3.5v-4.3l.1 4.4l.1-3.7v3.1l.1 4l.1-7.6l.1 1v5.7l.1-7.8l.1 1.7v-1.5l.1 3.4l.1-4.2v5.6l.1-1.1l.1-1.9v.3l.1-.4l.1-4.8l.1 6.7v-6.6l.1 6l.1-2.3v-.8l.1 3.9l.1-.3v-.8l.1-1.5l.1 2.4v-6.4l.1 1.4l.1-.9l.1 4.6v-3.8l.1 5.5l.1-2.4v.9l.1 1.4l.1-1.9v-1.7l.1 6.8l.1-.9l.1 1.1v-4.2l.1 1.6l.1-2.9v-.8l.1 3.3l.1-6.2v.1l.1 3.5l.1-1v2.9l.1 1.5l.1-.4l.1-2.2v4.6l.1 .5l.1-2.4v-2.4l.1 2.4l.1-5.4v-3.2l.1 3.7l.1 7.3v-5.3l.1 .2l.1-3.8l.1 3.6v-4l.1-2.2l.1 9.9v-.6l.1 3l.1-3.3v.4l.1-2.2l.1 1.1l.1-.7v1l.1 .8l.1-8.5v7l.1-.9l.1-.1v-2.6l.1 6.7l.1-.4v-1.8l.1-8.3l.1 5l.1 10.5v-7.1l.1-4.1l.1 4.9v-3.6l.1 4.3l.1-1.8v3.5l.1 0l.1-4v2.5l.1-2l.1 1.4l.1 .4v-.8l.1-.9l.1 1.4v-4.2l.1 .4l.1 .8v3.7l.1-1.3l.1-4.2l.1 .9v3l.1 1.9l.1-2.2v-.1l.1 3.1l.1-4.4v3.1l.1 1.4l.1-.5v-3.1l.1 1.2l.1-2.5l.1 2.6v-.7" fill="none" stroke="#ff0000" stroke-width="1" stroke-linejoin="round" marker-start="url(#m0)" marker-mid="url(#m0)" marker-end="url(#m0)"/>
<rect x="64.60" y="32.30" width="808.40" height="160.70" fill="none" stroke="#000" stroke-width="2"/>
<text x="55" y="198.3" text-anchor="end">−30</text>
<text x="55" y="171.5" text-anchor="end">−20</text>
<text x="55" y="144.7" text-anchor="end">−10</text>
<text x="55" y="117.9" text-anchor="end">0</text>
<text x="55" y="91.2" text-anchor="end">10</text>
<text x="55" y="64.4" text-anchor="end">20</text>
<text x="55" y="37.6" text-anchor="end">30</text>
<text transform="translate(19,112.7) rotate(-90)" text-anchor="middle">North [mm]</text>
<text x="145" y="53.5" word-spacing=".6" style="fill:#ff0000">std ± 1.49 mm</text>
<text x="802" y="53.2" text-anchor="end">North</text>
<path d="M810.8,48.0H855.4M810.8,44.0v8M855.4,44.0v8" stroke="#ff0000" stroke-width="1" fill="none"/>
<circle cx="833" cy="48.0" r="2.9" fill="#ff0000"/>
</g>
<g>
<path d="M73.0,302.5H873.0" stroke="#000" stroke-opacity=".7" stroke-width="1" stroke-dasharray="1 2.78" stroke-dashoffset="-2.5" fill="none"/>
<path d="M65.0,355.50h8M873.0,355.50h-8M65.0,329.00h8M873.0,329.00h-8M65.0,302.50h8M873.0,302.50h-8M65.0,276.00h8M873.0,276.00h-8M65.0,249.50h8M873.0,249.50h-8" stroke="#000" stroke-width="1" fill="none"/>
<path d="M253,307l.1-3v-1.1l.1 3.6l.1 4.1v-3.8l.1 5l.1 3.9v-7l.1-3.9l.1 5l.1 1v7.9l.1-1.7l.1 1.1v-5.9l.1-5.4l.1-1.6v3.1l.1-4l.1 4.5v-9.1l.1 7l.1 1.9l.1-2.7v0l.1 7.3l.1-3.6v-6.1l.1-1.6l.1 12.4v-7.3l.1 4.4l.1 4.4l.1-13.6v9.8l.1-4.8l.1-2.2v-1.9l.1 4.6l.1-1.6v1.4l.1-1.1l.1 1.3v4.5l.1 4.6l.1 0l.1-.1v0l.1-.2l.1 .1v-.4l.1-7.9l.1 1.6v-6.2l.1-4.8l.1 4.1v-2.1l.1-.9l.1 1.8l.1 .5v-.2l.1 3.9l.1-1.6v-3l.1 2.4l.1-4.6v.2l.1 1.6l.1 6l.1 5.2v-2.6l.1 1.4l.1-1v-1.3l.1 2.4l.1-5.1v-.4l.1-.7l.1 2.5v-3.3l.1 1.5l.1-1.3l.1-7.4v6l.1 1.2l.1-7.5v9.1l.1-4.5l.1 3.3v-2.5l.1 6.1l.1-.3v-4.3l.1 2.7l.1 3.3l.1-8.7v4.6l.1 1.7l.1-3.6v1.6l.1-3.6l.1-1.3v5.2l.1-3.3l.1 1.7l.1 3.9v-4.2l.1 3.5l.1-.3v-2.3l.1 3.1l.1 .8v-1.4l.1-4.6l.1 1.9v-1.6l.1-.3l.1-1l.1-3.5v.4l.1-.3l.1-1.3v5.5l.1-2.2l.1-.1v2.2l.1-.4l.1-4.7v.2l.1 .8l.1 1.7l.1-2.5v3.4l.1-.3l.1 2v-.3l.1 1.2l.1 0v-.5l.1 2.6l.1-1.5l.1 1.5v.1l.1-3.8l.1 1.7v-2l.1 2.3l.1 2.4v2l.1-6.3l.1 6.7v-4.9l.1-3.2l.1 3.4l.1-3.7v.9l.1 3.5l.1-2.7v0l.1-3l.1-.8v1.9l.1-.9l.1-.9v1.5l.1 3.4l.1-2.3l.1 2.1v3.3l.1-.5l.1-1v-.5l.1-5.4l.1 1.6v-.8l.1 2.8l.1-.3l.1-3.3v-2.2l.1-.8l.1 2.6v-4.1l.1 6.1l.1 .7v-2.9l.1 6.1l.1-1.4v1.3l.1-2.8l.1-4.9l.1 3.7v-.1l.1-1.7l.1-2.6v2l.1-.9l.1 3.7v-.6l.1-.9l.1 2.9v.1l.1-1.7l.1-.1l.1-1.1v4l.1-1.1l.1 .4v-1.6l.1 5.1l.1-1.9v-5.7l.1 .9l.1-.4l.1 1.7v-.7l.1-.9l.1-2.1v1.8l.1 5.4l.1-1.6v.2l.1 .9l.1-3.2v2.1l.1 2.7l.1-.4l.1 .9v-3.2l.1-.3l.1-5.1v8.1l.1-4.3l.1 .7v.4l.1 .7l.1-1.4l.1 2v-2.8l.1 7.1l.1-6v1.9l.1 .6l.1-2.4v.3l.1-3.5l.1 4.9v-2.8l.1 1l.1-.1l.1 1v-1.3l.1-2.8l.1 .1v-.4l.1 2.7l.1 1.7v.2l.1-2.1l.1 .5v.9l.1 .5l.1-.8l.1 2.1v.6l.1-4.6l.1 4.9v.7l.1 1.4l.1 .1v-5.2l.1 1.4l.1-3.1l.1 8v-4l.1 6.6l.1-2.4v2.4l.1-5.9l.1-2.2v2.2l.1-.8l.1-.8v-5.6l.1 3.8l.1 2.6l.1-2.6v4.3l.1 2.5l.1 .4v-5.2l.1 1.6l.1-2v2.5l.1-1.8l.1-.5v-1.1l.1 3.2l.1-3.4l.1-.3v-.2l.1 .2l.1-1.5v-.5l.1 1.8l.1 .8v2.2l.1 .9l.1-.3l.1 2.1v.6l.1-3.4l.1 1.7v-1.5l.1 1.1l.1 1.4v-3.1l.1 2.8l.1 .7v-1.8l.1 4l.1-4.5l.1 2.2v-.5l.1-.3l.1 2v-.1l.1 1.9l.1-4.1v4.4l.1 .4l.1-1.8v2l.1-1l.1 2.2l.1-5.9v-.6l.1 1.3l.1-.3v2.7l.1-1.1l.1 .4v2.8l.1-4.2l.1 2.9l.1-2.2v4.7l.1 1.2l.1-1.3v.4l.1-3.7l.1-3.3v-2.4l.1 4.5l.1 1.3v2.8l.1-6.5l.1 8.4l.1-6.3v.7l.1-5.7l.1 4.7v1.9l.1 1.7l.1-3.8v-2.7l.1 8.2l.1-4.9v.2l.1-3.2l.1 2.8l.1 3.5v-2l.1-1.1l.1-.9v-.3l.1-4l.1 2v-2.5l.1 1.8l.1 3.3l.1-1.4v5.7l.1-1.9l.1-.6v-5.6l.1 5.4l.1 1.2v-1.2l.1 4.5l.1-1.6v-5l.1 4.2l.1-1l.1-1.9v-1.1l.1-1.8l.1-2.1v4.5l.1 1.2l.1-.4v-1.2l.1-2.5l.1 2v-2.1l.1 4.7l.1-3.9l.1 1.9v-1l.1-.8l.1 .7v-1.1l.1-1.2l.1-.9v3.2l.1-2.2l.1 2.3l.1 3.6v-3.5l.1-.6l.1 5.2v-4.9l.1 3.4l.1 2.5v-2.4l.1-.2l.1 .5v-3l.1 .7l.1-1.8l.1-2.9v2.5l.1-.9l.1 2v-.4l.1-1.8l.1 1.7v2.9l.1-3.5l.1 2.3v-2.3l.1-.2l.1 2.9l.1 .7v-.8l.1-3.6l.1 2.1v-1.6l.1-1.7l.1 1.8v-.7l.1-5.6l.1-.1l.1 3v2.1l.1-1.8l.1-3.4v1.4l.1 2.4l.1-2.8v-.1l.1 .8l.1 4.5v1.1l.1-3.4l.1-1.3l.1 4v1.2l.1-.1l.1-5.5v4.2l.1 2l.1 .3v-.5l.1-.9l.1 1.5v-2.4l.1 4.4l.1-5.7l.1-.1v.1l.1-3.1l.1 2.6v.1l.1 2.8l.1-.2v-1.8l.1-1.1l.1 1.2l.1 .9v1l.1-.2l.1-3.9v5.5l.1-1.5l.1-5v-.5l.1 1.4l.1 .9v-2.5l.1-.6l.1 1l.1 2v.3l.1-1.7l.1 5.2v.1l.1-1.7l.1-3.8v2.3l.1-4l.1 1.4v-1.2l.1-1.9l.1 3.9l.1-.3v.6l.1 1.7l.1-1.8v.7l.1-.2l.1 2v-1.5l.1 2l.1-2.2l.1-.7v-.3l.1 0l.1 2v1.1l.1 .7l.1 1.9v-2.4l.1-1.7l.1 .8v-1l.1-.5l.1-2.4l.1-2.2v.8l.1-.3l.1 1.8v-.2l.1-2.4l.1 3.5v-3.3l.1 5.1l.1 1.7v-1.8l.1 2.6l.1 3.6l.1-8.2v2.4l.1-3.8l.1 2.2v1.5l.1-.6l.1-1v-3.3l.1 .9l.1 6.1l.1-1.4v3.4l.1 2.6l.1-3.6v1.5l.1-2.8l.1 2.7v2.7l.1-2.9l.1 .4v-1.9l.1 4.9l.1-5.2l.1-2.3v1.3l.1 0l.1-1.2v-3.1l.1 4.5l.1 .2v.7l.1 .3l.1-5v-.1l.1 1.6l.1 .5l.1 1.4v1.1l.1-.5l.1-2.6v-.9l.1-1.1l.1 4.6v-.4l.1-3.5l.1 .7l.1 4.6v-7.5l.1 3.3l.1-3.2v2.8l.1 4l.1-.2v2.4l.1-2.1l.1-3.1v1.7l.1 1.9l.1-.7l.1 .1v1l.1 2.5l.1-2.3v.1l.1-3l.1-2.1v-2.4l.1 6.7l.1 2.7v-2.8l.1-.3l.1-1.1l.1 0v-2.5l.1-.5l.1 3.4v.4l.1-1.4l.1 .4v-3l.1 2.4l.1 2.4l.1 2.8v-2.7l.1-.6l.1-.9v3.3l.1-4l.1 .7v4.1l.1-3.3l.1-2.3v-1.3l.1 0l.1 3.1l.1 1v-2.1l.1 1l.1 1.5v-1.7l.1 2.9l.1 1.3v-1.6l.1-2l.1 2.1l.1-1.2v-1.7l.1-1.5l.1-2.1v1.1l.1 3l.1-4v5.9l.1 .2l.1 .1v-.8l.1-2.3l.1 2l.1 .3v2.1l.1-4.2l.1-.6v-1.4l.1 1.9l.1 .8v.6l.1 1.5l.1 .8v-.9l.1-2.2l.1 2.9l.1-3v2.9l.1 2.4l.1 0v-2l.1-1.4l.1-3.3v2.1l.1 .4l.1 .2l.1-.9v-.1l.1-1.1l.1 1.4v-2.8l.1 1.5l.1-2.2v.7l.1 2.2l.1-.1v.7l.1-1l.1 .2l.1-.9v-.3l.1 1.8l.1 .8v-2.1l.1-.7l.1 2v.5l.1 .3l.1 1.8v-1l.1-.4l.1-.4l.1-3.7v.2l.1 3.4l.1-2.2v-.7l.1 .6l.1 0v-.5l.1 1l.1-3.6l.1 1.6v.7l.1 .1l.1-1v2.1l.1 3.5l.1-3.3v-.1l.1-2.4l.1 1.7v1.2l.1 2.6l.1-1.6l.1-.5v2.8l.1-2.3l.1-1v1.1l.1-.1l.1-1.8v.1l.1-.8l.1-.7v2.8l.1-.8l.1 .1l.1 3.8v-1.8l.1-.9l.1-1.3v-3.3l.1-.7l.1 .2v1l.1 3.7l.1-4l.1 2.6v-1.8l.1 2.9l.1 1.9v-.6l.1-1.3l.1 1.4v-1l.1 .2l.1-1.4v-.1l.1 1l.1-1.9l.1 .6v.5l.1-2.9l.1 3.7v-2.2l.1-1.5l.1 .2v1.5l.1-.7l.1-1.7v1.8l.1 0l.1-2.7l.1 .8v-3.1l.1 2.9l.1 2v2l.1-4.2l.1-1.5v3l.1-3.8l.1 2.4l.1-.9v1.9l.1-.7l.1 1.8v-1.2l.1-.4l.1 5.8v-3l.1 .2l.1-3.2v4.1l.1-2.5l.1 .3l.1-.2v-2.9l.1 1l.1 1.3v1.4l.1 0l.1-.8v.4l.1-1.7l.1 2.6v-3.4l.1 4.6l.1-4.1l.1 1.5v1.1l.1 .7l.1-2.8v1.6l.1-.6l.1-1.7v3.5l.1 1.8l.1-6l.1 2.7v0l.1-2.6l.1 2.6v-3.5l.1 .3l.1 1.9v-3.3l.1-.1l.1-.4v-.4l.1 1.2l.1 2.4l.1-3.1v-1l.1 .8l.1 .7v1.3l.1 4.8l.1-4.4v.9l.1-1.8l.1 0v-2.6l.1 1.6l.1 3.6l.1 1.9v-.6l.1-.4l.1-.1v.1l.1-1.1l.1 1.6v-3.9l.1-.6l.1 1.3l.1-.5v-1.1l.1 1.6l.1-4.1v-.4l.1 .9l.1 .7v-1.3l.1 1.8l.1 1.4v-1.1l.1-1.8l.1 1.8l.1 2.5v-.9l.1 .3l.1-1.9v.5l.1 3.3l.1-3.2v-.4l.1-1.6l.1 4.3v-2l.1 1.1l.1-.7l.1 .1v1.2l.1-1.2l.1 2.8v-3.4l.1 2.2l.1-2.2v.8l.1-2.4l.1 .6l.1 1.1v-1.2l.1 1.5l.1 1v-1.1l.1-.9l.1 2.7v-.3l.1 1.4l.1-2.7v-1.2l.1 1.9l.1 .4l.1-1.3v3l.1-.6l.1-1.8v1.7l.1 .2l.1 2v-.5l.1-3.2l.1 .4v.8l.1 .2l.1-1.9l.1 1.9v-2l.1 1.1l.1 3.3v-1.9l.1 .5l.1 .1v-.6l.1 2.3l.1-4l.1 2.4v-2.8l.1 .2l.1 .7v-1.5l.1 2.3l.1-4.6v-.8l.1 1.7l.1 .7v.4l.1 .6l.1 1.8l.1-1.3v2.6l.1 1.1l.1-.4v-2.1l.1 2l.1-1.1v-1.7l.1 3.6l.1-4.5v-.3l.1-1.5l.1 2.1l.1 1.9v-1.9l.1 .2l.1 1.8v0l.1 .9l.1 3v-4.2l.1-.4l.1 .3l.1 2.7v-.7l.1 .2l.1-1.7v-1.8l.1 2.2l.1-3v1.5l.1 1.2l.1-1.8v.9l.1 .7l.1-.4l.1 .1v2.2l.1 1.4l.1-.9v2.1l.1-3.7l.1-2.7v.5l.1-.8l.1 .4v-1.4l.1 1.5l.1 2.8l.1-.9v1.2l.1-.8l.1 1.3v-2.1l.1 .3l.1 .9v-4.1l.1 .5l.1 4.1l.1-3.1v.5l.1-1.4l.1 3.8v-3.5l.1 4.6l.1 2.7v-2.9l.1 1.7l.1-1.3v-.4l.1-3.1l.1 .4l.1-2.3v3.1l.1-2.3l.1-1.7v-1.2l.1 3.1l.1 1.7v1.3l.1 .5l.1-1.4v-1.7l.1-1.9l.1 2.9l.1 2.2v-4.4l.1-.6l.1 2.8v-1.8l.1 2.9l.1-3v.1l.1 .7l.1 .8l.1-1v.2l.1-4.1l.1 3.2v-1.4l.1 4.1l.1-.5v-.8l.1-.8l.1-1.1v.6l.1-.7l.1-.3l.1 4.6v-.7l.1 .8l.1-2.5v-.9l.1-2.6l.1 3.3v-5.1l.1 0l.1-2.4l.1 4.6v2.3l.1 2.3l.1-1.5v-4.6l.1 2.6l.1-.7v-.9l.1-2.9l.1-1.1v2.8l.1 .9l.1-1.6l.1-.1v-.7l.1 3.1l.1-.3v-.4l.1 4.7l.1-3.8v-4.1l.1 4.1l.1 2.4v-.9l.1 5.2l.1-9.9l.1 4.6v-1.6l.1-.9l.1-2.3v5.7l.1-2.3l.1 2.4v.5l.1 0l.1 .5l.1-1.8v2.9l.1 2.6l.1-6v.2l.1-7.2l.1 5v-3.2l.1 .9l.1 3.3v-.1l.1-4l.1 4.3l.1-3.7v3.7l.1 .4l.1-.1v-1.1l.1 2.6l.1-4.6v5.2l.1-.1l.1-1v.1l.1-.8l.1 2.6l.1-5.1v-.1l.1-.1l.1-2v-.3l.1 .4l.1 5v-2.9l.1 1.2l.1 1.4l.1-1.1v.6l.1-.6l.1 2.2v-.9l.1-.5l.1 1.2v-1l.1-2.6l.1-.9v4.1l.1-2.4l.1 .4l.1-3.4v2.5l.1 2l.1-1.4v.9l.1-5.4l.1 1.1v.6l.1 2.4l.1 2v1.7l.1-.7l.1-2.5l.1-1v1.1l.1-.2l.1-3.1v-1l.1-.2l.1 2.7v1.3l.1 .9l.1 0l.1-2.3v.5l.1 .8l.1 1v1.8l.1-1.4l.1-.6v-.5l.1-1.1l.1 1.2v2.4l.1-3.1l.1 0l.1 .4v-1.4l.1 4.3l.1-2.2v1.9l.1 0l.1-1.7v-4.1l.1 6.2l.1-3.5v.1l.1-1.6l.1 5.2l.1-.3v-1.9l.1 2.5l.1-4.6v.9l.1-2.1l.1 4.5v-1.5l.1 1.8l.1-1.1l.1 1.6v-1.5l.1 1.8l.1-1.7v3l.1-5.9l.1-.6v2.5l.1 3.6l.1-2v-2.3l.1 1.7l.1 1.5l.1-3.1v2.5l.1-2l.1 2.6v-2l.1-.7l.1 6.2v-.9l.1-3.5l.1-.6v.2l.1-2.4l.1 1.3l.1 1v.4l.1-.4l.1-1.3v1l.1-1.3l.1-1.8v4.1l.1 .6l.1 1.9l.1-.5v-1.6l.1 .7l.1 .1v2l.1 .1l.1-4.6v4.9l.1-.5l.1-.2v-3.2l.1-.6l.1 1l.1 1.8v2.8l.1-4.3l.1 1.3v.3l.1-1.9l.1 3.7v-2.9l.1 0l.1-4.7v1.1l.1 1.1l.1 2.3l.1 2.3v1.1l.1-4.2l.1 1.5v4.5l.1-3.8l.1 2.9v.9l.1-2.4l.1 .4l.1-.2v-1.8l.1-.6l.1 1.5v1.2l.1-.6l.1-1.2v.8l.1 1l.1-4.6v.9l.1-1.5l.1 1.9l.1 .5v3.5l.1 .5l.1 .6v-6l.1 0l.1 .5v.4l.1 3.5l.1-3.9v1.8l.1 .8l.1-1l.1 .8v5.2l.1-2.4l.1-1.4v-1.9l.1 1.2l.1-7.9v9.9l.1-3.2l.1 5.2l.1-5.3v-4.5l.1 5.3l.1-.2v-3.2l.1 6.4l.1-3.9v-5.2l.1 2.4l.1 5.1v-.4l.1-1.7l.1 .1l.1-2.8v-.3l.1-.4l.1 2.2v-4.1l.1-.3l.1 2.9v1.6l.1-2.1l.1 2.6v-1.9l.1 2.7l.1 .8l.1 1.1v-4.6l.1 1.1l.1-3.9v1.7l.1-.5l.1 3.9v4.3l.1-7.7l.1 2.2l.1 .1v3.5l.1 1.9l.1-.2v2l.1-1.1l.1 1.3v1.8l.1-5.8l.1-1.9v3.3l.1-2.3l.1 0l.1-2.9v.7l.1 1.3l.1 2.3v-2.9l.1 1.9l.1-1v4.4l.1-2.7l.1-2.2v1.5l.1-5.6l.1 10.7l.1-5.6v1.9l.1 2.6l.1 4.2v-9.2l.1 1l.1 1v-4.6l.1 1l.1-3.5l.1 1.8v.6l.1 7l.1-4.4v-.8l.1 1.1l.1 1.8v-5.1l.1 .5l.1-1.7v-1.2l.1 5.8l.1 2.2l.1 3.7v-3l.1-1.6l.1-.8v-1.2l.1 4l.1 .5v-.5l.1-1.4l.1 .9v-2.5l.1 1.7l.1 1.4l.1 .9v-2.5l.1 .7l.1-2.8v7.1l.1 1l.1-1.3v1.4l.1-4.8l.1 .3l.1-2.2v-2.6l.1 4.3l.1 2.4v-4.5l.1 6.8l.1-4.9v1.4l.1 .8l.1-4.2v6.3l.1-7.2l.1 .1l.1 .6v.2l.1-6.5l.1 6.6v-6.6l.1 4l.1 1v1l.1-1.4l.1 7v1.6l.1 2.5l.1-3.6l.1-1.3v2.5l.1-4.4l.1 .3v-3l.1-2.9l.1 .7v-.5l.1 4.5l.1 .7l.1-2.3v4.3l.1-1.6l.1-2.5v-.4l.1-1.3l.1 2.6v3.2l.1-.6l.1-2.1v-4.6l.1 5.8l.1-3.9l.1 3.4v5.7l.1-5.7l.1 1.5v3.2l.1-4.4l.1 .1v-.4l.1 .8l.1 1.1l.1 .1v-.3l.1-1.7l.1-2.4v-1.3l.1 3.1l.1 1.4v-1.5l.1 .5l.1 3.1v-.6l.1 .1l.1-.2l.1-2v3.3l.1-3.9l.1-1.8v.5l.1-1l.1 3.9v1l.1 .5l.1-4.5v-5.8l.1 2.1l.1 3.9l.1 1v.8l.1-2.7l.1 .5v-.8l.1 5.6l.1-.9v-.8l.1-8.4l.1 6.6l.1-2.1v1.2l.1 1.1l.1 .3v-1.7l.1-.2l.1-.5v0l.1-.7l.1 1.8v.6l.1-1.3l.1-1.3l.1 3.6v.4l.1-3.9l.1 .8v3.5l.1-2.6l.1-2.5v1.3l.1 2.7l.1-2.5v3.2l.1-.3l.1-.3l.1-3.5v1.5l.1 .9l.1-3.4v-.2l.1 3l.1-5.3v6.9l.1-1.1l.1-3.3l.1 1.6v-2.8l.1 2.2l.1-2.9v.1l.1-1.2l.1 1.7v.2l.1 3.6l.1-1.6v-1.4l.1 3.5l.1 1.6l.1-.7v-.8l.1-3l.1 .5v2.1l.1-5l.1-2.4v1.7l.1 1.5l.1 2.6v2.8l.1 0l.1 .6l.1-.2v-3.4l.1 1l.1-1.2v-.3l.1-1l.1 6.9v-6.5l.1 2.6l.1-1.6l.1 4.8v-8.8l.1 .3l.1 .2v4.8l.1-.4l.1-3.5v.4l.1 2l.1-2.3v2l.1-.8l.1 .3l.1 .5v-1.6l.1 1.8l.1-.6v5.4l.1-3.6l.1 5v-6.6l.1 .3l.1-2.7v4.1l.1-5.2l.1 4.1l.1-1.1v3.2l.1-2.1l.1 5.5v-3.9l.1-1.3l.1-2v-2.1l.1 5.1l.1-.7l.1-1v-2.1l.1-.7l.1-.2v2l.1 1.7l.1-.6v-.6l.1 .3l.1-1.1v1.4l.1 3.7l.1 0l.1-1.4v-2.1l.1 2.8l.1-.7v1.4l.1 .6l.1-4.6v1.9l.1-1l.1 3v.9l.1 1.3l.1-3.5l.1-3.8v-3.2l.1 2.3l.1 2.7v-1.3l.1 1.6l.1-2.2v1.5l.1 2.8l.1 .1l.1 1.5v-1.8l.1 1.5l.1-1v-2l.1 .4l.1-.4v-1.3l.1-.8l.1 6.5v-3.5l.1 3l.1-3.8l.1 .3v-3.1l.1 4.5l.1 .8v-2.7l.1 1l.1-1.5v-1.1l.1 6.1l.1-2.4v-2.3l.1 .1l.1 1l.1-2.5v1.2l.1 1.3l.1 1.6v-1.6l.1 0l.1 2.4v-2.4l.1-.5l.1 .5l.1 .6v-2.1l.1 1.7l.1 .4v0l.1-1.4l.1-1.4v2.6l.1-.1l.1 .7v-.9l.1 1.1l.1 .4l.1-.7v2.3l.1 .1l.1-3.1v-3.3l.1 5.6l.1 .9v-4.4l.1 4l.1 .2v-2l.1 .4l.1-1.3l.1 1v2.3l.1 1l.1-.9v-1.6l.1-1.5l.1-2.3v2.5l.1 1.7l.1-2.6l.1 2.4v-4.9l.1 2.1l.1 1.9v.6l.1-2.4l.1 2.4v-2.1l.1-.9l.1-1v-.8l.1 1l.1 4.1l.1 4.2v-3.4l.1-.7l.1 3.4v-4.2l.1 2.1l.1-.6v2.2l.1-2.3l.1-.1v-1.9l.1-1.8l.1 .5l.1 .5v-3.2l.1 3.8l.1-3.6v-.5l.1-1l.1-.6v3.2l.1-1.9l.1 .3l.1 7.5v-3.4l.1 1l.1-.4v2.1l.1-.7l.1-3.9v3.8l.1 .4l.1-4.9v-2.9l.1 2.5l.1-2.5l.1 5.1v-.7l.1 5.8l.1-3.5v-1.1l.1 2.5l.1 .7v-4.1l.1 3.3l.1 1.3v-.5l.1-2.7l.1 3l.1 1.7v-1.5l.1 1l.1-1.1v-2.4l.1 0l.1-2.8v3.6l.1-.2l.1-.1l.1-4.1v2.8l.1-2.2l.1 4.1v1.1l.1-.1l.1-1.2v-3.3l.1 3.9l.1 .5v-1.8l.1-.6l.1-.8l.1-2.2v1.6l.1-1.8l.1-.3v-2.9l.1 5.8l.1-.3v2.6l.1 1l.1 .4v0l.1-.5l.1-2.5l.1 1v-3l.1 6.2l.1-7.8v2.7l.1 2.1l.1-7v.6l.1 5.9l.1-1.3l.1-2.8v3l.1 1.9l.1 2.1v-4.3l.1 2.9l.1-4.3v-2.7l.1 .8l.1-.7v1.4l.1-3.5l.1 1.4l.1 2.4v-1.1l.1 2.7l.1 2.6v3l.1-5.6l.1 .9v6.6l.1-3.4l.1-6.9v-1.5l.1 3.8l.1-4.2l.1-1.6v1.3l.1-3.4l.1 6.1v7.7l.1-5.9l.1-1.1v3.6l.1-1.6l.1-1.3l.1 3.9v-8.1l.1 1.2l.1 6.7v.1l.1-1.8l.1-1.3v2.7l.1 3.3l.1-8.4v-.9l.1-1l.1 1l.1 5.2v-3l.1 .1l.1 .4v-.7l.1-2.5l.1 .1v.7l.1-1.6l.1 3.3l.1 1.6v1.1l.1 1.3l.1-2.2v-2.3l.1 .4l.1 .2v3.5l.1-7.9l.1 1.6v2.3l.1 .6l.1 5.4l.1 .1v-2.6l.1-.4l.1-2.8v-4.3l.1-.9l.1 4.1v3.5l.1 1.7l.1-3.6v-1.4l.1 2.7l.1-1.8l.1 2.1v-.2l.1-1.4l.1-5.3v4.6l.1-4.6l.1-1.2v4.6l.1-1.3l.1 3.2l.1-3.1v3.3l.1-1.6l.1-.6v3.1l.1-1.3l.1-3.9v7.5l.1-4.8l.1-14.9v14.7l.1 2.7l.1 .8l.1-2.1v-.3l.1 3.9l.1-5.1v-1.4l.1 3.3l.1-.9v3.5l.1-6.3l.1 5.7v-.2l.1-5.1l.1 1.9l.1 4.7v.7l.1 .4l.1-.9v.4l.1-6.7l.1 1.4v2.7l.1-4.8l.1 3.9l.1-2.3v4.6l.1-2.2l.1-7v10.2l.1-3.2l.1-2.8v1.7l.1-7.5l.1 3.6v1.8l.1 1.1l.1 1l.1-5.5v.8l.1 .2l.1-.7v1.6l.1 2.7l.1-1.3v2.8l.1-2l.1-5.5v.2l.1 .5l.1-2l.1 3.8v4.6l.1-2.3l.1 3.7v-1l.1 3.2l.1-.6v-2.3l.1-3.8l.1 2.3l.1 4.4v-3.3l.1-1.5l.1-6.4v5l.1-17.5l.1 16.9v1.5l.1-14.9l.1 21.1v-3.1l.1-.2l.1-5l.1 4.3v-2.3l.1 2.4l.1-6.2v-1.4l.1-3.1l.1 5.3v3.3l.1 2.7l.1-3.3v.4l.1 .2l.1-.9l.1-.9v1.7l.1 1l.1 .8v-.2l.1-5.1l.1 5.3v-4l.1 3.9l.1 4.1l.1-1.1v-2.2l.1-2.4l.1 3.3v-2l.1-1l.1-13.6v12.9l.1 5.5l.1-5.4v2.2l.1-.6l.1-.7l.1 5v3.6l.1 0l.1-1.4v-11.4l.1 4.4l.1-3.2v-2.5l.1 8.9l.1-6.2v1l.1 3.4l.1-1.8l.1 0v-3.3l.1-.3l.1-1.7v1.1l.1 .3l.1 1.8v3l.1-.9l.1-3.8l.1 1.8v1.6l.1 1.3l.1 1.8v4.1l.1-.5l.1-3.1v-1.5l.1-2.8l.1 .9v-.2l.1 0l.1 4.3l.1-4.5v-3.3l.1 3l.1 2.5v1.3l.1 3.4l.1 .2v0l.1-4.7l.1-8.6v9.9l.1 7l.1-7.9l.1 .5v.2l.1 2l.1-1.6v-5.7l.1 6l.1-1.4v3.9l.1 3.5l.1-10l.1-1.6v7l.1-4.7l.1 2.5v-1.2l.1 3.3l.1-3.6v-3.4l.1 8.2l.1 .2v-3l.1-4.5l.1 5.2l.1-2.4v4.6l.1-1.2l.1-5.7v6.5l.1-3l.1 3.5v-1.8l.1 1l.1 2.1v-9.8l.1 7.6l.1-.8l.1 3v-.4l.1 5.2l.1-6.2v-8.2l.1 4.5l.1 2.5v7.7l.1 .1l.1-2.3l.1-4.6v6.4l.1-2.4l.1-.7v-4.9l.1 5l.1-7.5v4.1l.1 4.1l.1-3.6v-3.1l.1-.6l.1-1.9l.1-3.3v8.8l.1-.5l.1-1.8v1.7l.1-8.8l.1 3.5v-.7l.1-.1l.1 2.5v-2.6l.1-11.2l.1 15.9l.1 .5v-.6l.1-5.9l.1 3.5v2.9l.1 7l.1 1.9v-6.3l.1-3l.1 2.6l.1-6.9v.9l.1 3l.1 1v-5l.1 3.6l.1-6.5v4.5l.1-1.5l.1-2.7v1.3l.1 5.1l.1-2.7l.1 4.8v1l.1-5.8l.1-1.3v8.4l.1-6.2l.1-4.7v6.6l.1-7.2l.1 9.1v-3.6l.1 2.1l.1-2.7l.1-3.3v-3.1l.1 2.9l.1-2.1v1.8l.1-.5l.1 3.3v8.7l.1-.5l.1-.7l.1-.5v-2.4l.1-3.9l.1-5.1v1.2l.1 5.9l.1 .6v-.9l.1 2.1l.1-17.2v10.5l.1 8.8l.1 4l.1-5.4v0l.1-2.1l.1 3.3v-4.6l.1 .5l.1-3.2v8.9l.1-2.7l.1 2.3v-2.2l.1-1.5l.1-3.5l.1-1.1v-.4l.1-.1l.1 8.4v.6l.1-3.5l.1-.8v-9.4l.1-.9l.1 9l.1-5.1v.4l.1 2.4l.1-2.5v4.3l.1-.6l.1-2.7v4.9l.1 3.5l.1 2.4v.8l.1-4l.1-3.6l.1 2.9v.6l.1 1.5l.1-.5v-4.8l.1 3.5l.1-6.3v2.2l.1-6.1l.1 4.6v-4.7l.1 7l.1-2.6l.1 2.5v-.2l.1-7.2l.1 4.4v4.7l.1-.6l.1-3.2v6.4l.1-.6l.1 2.3l.1-1.1v-1.5l.1-.2l.1-4v-3.4l.1 .5l.1 5.6v-.1l.1-1.3l.1-2.3v0l.1 10l.1-8.4l.1-2.4v5.9l.1 2.3l.1-1v-1.5l.1-2.1l.1-5.4v-1.4l.1 2l.1 4.1l.1-.1v-2.5l.1-.9l.1 1.9v7.1l.1-8.8l.1 3.6v-3.9l.1 4.3l.1-13.3v7.5l.1 6.9l.1-3.3l.1 1.1v-1.3l.1 .1l.1-.6v3.8l.1-.6l.1 15.5v-15.5l.1 .7l.1 .5v-4.6l.1 2.6l.1-2.8l.1 2v-2.3l.1 .5l.1 5.4v.7l.1-6.8l.1 8.8v-1.9l.1-4.3l.1-2.8l.1 4.4v-3.1l.1 3.2l.1-5.9v4.4l.1 2l.1-5.2v1.5l.1-2.5l.1 2.1v-5.1l.1 6l.1-4.1l.1 3.8v-.7l.1-.1l.1 .2v-.7l.1 3l.1-6v4.9l.1-2l.1 6.2v-3.6l.1 .6l.1 .4l.1-5.6v3.5l.1 .2l.1-1.2v-.3l.1 2.9l.1-3.3v3.5l.1 .1l.1-.6l.1-2.2v2.2l.1-2.5l.1-.9v2.8l.1 .2l.1-1.5v.8l.1-5.5l.1 6.1v-2.2l.1-3.8l.1 2.1l.1-2.7v1.2l.1 .5l.1 .4v1.2l.1 5.2l.1-10.4v.1l.1 1.7l.1 2.9v2.2l.1-1.3l.1 2.8l.1 .3v3.6l.1-2.8l.1-1.5v2l.1-.7l.1-.8v-.3l.1-3.4l.1 5.7l.1 1.1v-6.6l.1-2.7l.1 1.2v2l.1-1l.1-1.6v5l.1 1.2l.1-4.8v3.9l.1-.5l.1 2.5l.1-2.6v.7l.1 2.2l.1 1.3v-3.8l.1 3.3l.1-1.1v.2l.1-3.1l.1-5.2v6.4l.1-.1l.1 .8l.1 2.5v1.3l.1-1.3l.1-2.2v-3.6l.1 4.1l.1-2.3v.3l.1-2.3l.1 2l.1 4.8v-4.2l.1 4.3l.1-3.1v1l.1 4.4l.1 1.7v-3.3l.1 3.3l.1-5.1v-2.2l.1-3l.1 1.3l.1 6.2v-1.9l.1-5.2l.1 1.3v.1l.1 1.6l.1-.3v2.7l.1-2.1l.1-1.6v-1.2l.1 .1l.1 5.4l.1-.6v-2.1l.1 1l.1-3.3v1.6l.1-3.1l.1 1.6v4.7l.1-2.8l.1-1.4l.1 3.7v-2.7l.1 .3l.1 4.9v-3.4l.1-.1l.1 1.5v-2.7l.1-.2l.1-1v-1.4l.1 2.2l.1 2l.1-.7v4l.1-4.6l.1 5.3v-.6l.1-1.2l.1-1v1.1l.1-.1l.1-2.8v0l.1-2.4l.1 1.5l.1-3.4v2.7l.1 5.9l.1-3.6v3.9l.1-3.5l.1-1.5v-.7l.1 .7l.1 4l.1-6.2v-1.2l.1 4.3l.1 2.7v-1.4l.1-1.7l.1-4.2v2.7l.1 1.7l.1 1.3v-.9l.1 0l.1-2.4l.1-.9v6.5l.1-2.5l.1-.1v1.4l.1 1.8l.1-1.1v1.1l.1 .3l.1-3.3v2.5l.1-7.9l.1 2.9l.1 .7v-1.8l.1 4.7l.1-.6v-.8l.1-3.2l.1 1.9v-.5l.1 1.3l.1 .5l.1 3.1v-3l.1 .7l.1-1.3v-1l.1 2.7l.1-1.7v1.2l.1-2.4l.1 6.1v.1l.1-2.8l.1-3.8l.1-.1v-1.2l.1 1.7l.1 3.9v-3.6l.1 1.2l.1 .9v.3l.1-2.9l.1 1.1v-2.6l.1-.3l.1 0l.1 3.6v1.2l.1-2.8l.1 1.5v-.8l.1-1.7l.1 1.7v-2.1l.1-1.1l.1 4l.1-4.6v2.1l.1 3.6l.1-2.8v1.7l.1 1.2l.1-3.4v1.8l.1-2.6l.1 2.8v-4.6l.1 6l.1-.1l.1 1.5v-4.1l.1-.7l.1 1.2v-3.7l.1 1l.1 2.3v1.9l.1 2.2l.1-3.2v2.8l.1-3.3l.1 3.3l.1-2.2v1.8l.1-1.3l.1-3.7v1.6l.1 2.8l.1-4.7v.1l.1-.5l.1 2.4l.1-.3v0l.1-3.3l.1 3.5v4.4l.1-1l.1 1.4v-5.4l.1 2l.1 1.3v-3.8l.1 2.7l.1 .1l.1-2.5v3.8l.1-1.5l.1 1.8v-6.5l.1 1.9l.1-.4v3.9l.1-3l.1 1.3v1.2l.1 .3l.1-2.7l.1-.8v.1l.1-.2l.1-.6v1.1l.1 1.1l.1 .1v-.8l.1 .9l.1-.5l.1-1.8v5.1l.1 .1l.1-1.1v-2.9l.1 2.2l.1-.7v-2.3l.1 5.4l.1-.7v-5.2l.1-.4l.1 4.9l.1-3.1v-4.2l.1-.6l.1 2v1.2l.1-1.9l.1 2.4v-5.4l.1 .7l.1 5.5v2.1l.1-.7l.1-2.7l.1 2.2v-3.2l.1 .5l.1 1.7v-2.7l.1 5.1l.1-.4v-5.9l.1 5.8l.1-1.4l.1-2.4v.8l.1 .6l.1-1.8v-3.9l.1 9.7l.1-3.8v-.5l.1 1.6l.1 2.9v3.1l.1-3.8l.1-1l.1-8.8v8.6l.1-5.3l.1 5.8v.5l.1-.2l.1-6.6v9.8l.1-4.8l.1 .9l.1-.7v-1.2l.1 1.7l.1 2.9v-1.1l.1 1.9l.1-4.7v-4l.1-1.9l.1 2.5v-1.3l.1 5.4l.1-1.9l.1-3.1v1l.1-.5l.1-4v8.6l.1-3.8l.1 2.7v-1.6l.1 2.2l.1 2.4v-4.6l.1 11.1l.1-17l.1 4.2v.1l.1 4.4l.1 1.8v-3.7l.1 3.8l.1-17.8v17.2l.1-14.5l.1 14.2l.1-2.6v3.6l.1 1.6l.1-1.9v-3.4l.1 3.2l.1 2.6v-3.7l.1 2.9l.1-2.7v.8l.1-.5l.1-4.1l.1 2.7v4.4l.1-1.5l.1 3.6v-7.9l.1 6.9l.1-.3v-4.7l.1 5.9l.1-5.6v.2l.1 1.3l.1-2.2l.1 9.1v-4.8l.1-4.8l.1-4.3v.4l.1 8.2l.1-3.6v-.6l.1-1.3l.1 .3l.1 1.9v-3l.1-6.2l.1 .5v2.1l.1 5.8l.1-1.3v-2.9l.1 6l.1-.2v-.8l.1 1l.1 1.3l.1-1v-1.1l.1 0l.1-1.5v-2.4l.1 8.5l.1-2v-6.9l.1 2l.1 1.9v3.5l.1 3.2l.1-8.8l.1-1.5v-.5l.1 4.9l.1 2.2v-1.7l.1-.4l.1 6.4v-4.3l.1-5.6l.1 2.2l.1 2.3v-3.4l.1-.2l.1 4.3v.6l.1 .1l.1-2.8v-3.4l.1-1.4l.1 4.4v-1.7l.1-2.4l.1 3.5l.1 2.5v.8l.1-2.1l.1 .3v-1.4l.1 3.8l.1-2.8v-3l.1-1.7l.1 2.7v3.4l.1-6.3l.1 7.3l.1-4.6v5.2l.1 2.8l.1-5.9v-.7l.1-1.9l.1-1.4v.1l.1 3.5l.1 1.3l.1 1.9v-1.3l.1-2.6l.1 .3v3.4l.1-1.2l.1-.2v-.5l.1-1.6l.1 3.7v-1.8l.1 .8l.1-2.3l.1 .3v-2.3l.1 .4l.1 1.7v3.1l.1-1.2l.1-3.7v1.3l.1-1.9l.1 2.4v-.7l.1-.3l.1 1l.1 .9v-2.1l.1-2.2l.1 3.3v-.5l.1 .3l.1 .2v-1.7l.1 2.2l.1 1.7l.1-4.3v-.7l.1 5.8l.1-1.7v-.5l.1-1l.1-1v-1.6l.1 .3l.1 1.1v-1l.1 1.4l.1 2.2l.1 .1v.7l.1-.4l.1-2.2v-.6l.1 2.9l.1 .1v.1l.1 .9l.1-1.7v-1.2l.1-2.9l.1 5.9l.1-3.2v1.2l.1-4.1l.1 .3v1.5l.1 .8l.1-2.1v2.3l.1-1.2l.1-3.8l.1 3.2v5l.1-6.8l.1 5.6v-2l.1 3.3l.1 1.1v-2.4l.1-3.1l.1 4.6v-3.6l.1-.6l.1 0l.1-1.1v-3.6l.1 0l.1 1.6v1.5l.1 1.7l.1 2.1v2l.1-.5l.1-2.4v4.6l.1-.4l.1-1.6l.1 .5v-4.6l.1-.9l.1-3.8v3.3l.1 1.6l.1-3v-.5l.1 2.5l.1 2l.1-.3v3.2l.1-3.4l.1 2.6v-3.7l.1 1.6l.1-2.3v2.6l.1 1.8l.1-.3v-2.7l.1 1.9l.1 1.2l.1-.4v-2.4l.1-2.2l.1 .4v1.6l.1 1.3l.1-5.7v1.2l.1 1.8l.1-2.3v-.5l.1 1.8l.1-.9l.1 2.5v3.5l.1-5.4l.1 3.2v-3.3l.1-.8l.1 .6v1.7l.1 2.7l.1-3.2l.1-.5v.1l.1 5l.1-4.7v3.1l.1 .3l.1-2.1v-2.6l.1 2.3l.1 3.6v-1.5l.1 1l.1-2l.1-.4v.6l.1-4.9l.1 .2v1.5l.1-1.3l.1 1.7v2.4l.1 3.4l.1-1.4v-3.7l.1-3.2l.1 6.5l.1-.7v-3.5l.1 2.6l.1-.8v-2l.1-1l.1 2.7v1l.1 3.2l.1-2.5l.1 1v1.6l.1-7.1l.1 2.1v.4l.1-4.1l.1 1.9v.9l.1 7.1l.1-4.4v4.2l.1-1.5l.1 1.8l.1-1.2v-2.3l.1-7.9l.1 6.2v1.5l.1 .7l.1 3.2v-.6l.1-2.4l.1-4.6v-.8l.1 9.4l.1-9.3l.1-2.7v2.5l.1-2l.1 7.3v-3.9l.1 .1l.1-7.2v8.1l.1 3.2l.1-2.5l.1 3.3v-1.1l.1-4.2l.1 4.9v-5.9l.1-3.1l.1-6.3v3.2l.1 4.5l.1 3.3v-.8l.1-4.1l.1 5.8l.1-1.7v.8l.1-3.4l.1-2.2v-.8l.1 2.1l.1-1.4v4.2l.1 .6l.1 4.5v-7.3l.1 6.5l.1-.1l.1 .7v5.7l.1-.3l.1-6.7v1l.1-7.1l.1 5.2v2.1l.1-1.1l.1-.1l.1-4.2v4.9l.1-10.5l.1 2.3v-2.9l.1 4l.1 .3v-4.9l.1 .4l.1 3.1v3.3l.1 3.5l.1-9.3l.1 .8v2.4l.1 4.9l.1-1.3v3.6l.1 3.5l.1-4.1v-4.8l.1-.5l.1 2.5l.1 .7v-5.2l.1 6.7l.1-.9v-.2l.1-3.6l.1 7.1v3.1l.1-2.7l.1-3.8v2.8l.1 4.4l.1-5.4l.1-10.5v3.8l.1 2.5l.1-.8v.6l.1-8l.1 2.6v-5l.1 7.6l.1-1.7v5.1l.1-.9l.1 2.3l.1 1.2v-10.9l.1 7.5l.1-3v2.5l.1 2.1l.1-2v.3l.1 6.4l.1-3.7l.1-5v4l.1-2.1l.1 .6v3.1l.1-2.3l.1-2.8v1.1l.1 2.4l.1-1.4v-2.2l.1 6.2l.1-3.5l.1-3.3v.1l.1 2l.1-.9v4.4l.1-10.1l.1-1.3v6.3l.1 2.2l.1 3.1v-5.5l.1-.3l.1-.5l.1 7v-2.7l.1-2.6l.1-7v2.5l.1 3.6l.1-3.7v8.8l.1 3.7l.1 0l.1 2.4v-3.7l.1 5.1l.1-.1v-7.1l.1 3.6l.1-6.5v4.9l.1-1.5l.1-3.5v8.2l.1-2.1l.1-2.6l.1 4.6v-7l.1 2.8l.1-5.8v6l.1-2.1l.1-2v-1.2l.1 2.4l.1 4.3v-2.7l.1-2.4l.1 3.2l.1 1.6v-3.2l.1-.7l.1 1.4v-3.9l.1-1.6l.1 .8v1.1l.1-3.9l.1 8l.1-3.2v-.5l.1-2.4l.1-.3v4.2l.1 .1l.1 1.3v-.4l.1-2.7l.1 2.2v2.8l.1 2.1l.1-2.9l.1 .5v.9l.1-5.1l.1-.6v0l.1 2.1l.1-3.9v8.2l.1 .5l.1 .1v-2.2l.1-.2l.1-5.7l.1 .9v1.3l.1-.4l.1 2v-.7l.1 1.7l.1 1.5v-.2l.1-.5l.1-2.5l.1 3v-1.1l.1-.4l.1 4.7v-3.4l.1-1.5l.1 .8v-1.5l.1-.7l.1 1.6v6.2l.1-1.8l.1-3.7l.1-.1v1.8l.1-.2l.1 .1v.4l.1-1.5l.1 2.8v-1.3l.1-1.2l.1 .4v-2.2l.1-.7l.1-.9l.1-.2v2.1l.1 2.9l.1 .8v-.1l.1 2.8l.1-.3v-.2l.1-4.8l.1 1.6l.1-1.3v.4l.1-2.3l.1 3.7v-3.4l.1-.5l.1 .6v.7l.1 1.4l.1-3.1v.6l.1-.6l.1 1.4l.1 .6v.5l.1 2.1l.1-3.8v1.5l.1-2.5l.1 3.3v-1.1l.1 2.1l.1-2.4v3.1l.1-2.2l.1 4.2l.1-3.5v-5.2l.1 1.5l.1-.2v-2.9l.1-.1l.1 2.5v-1.6l.1 1.9l.1-.4l.1 .2v.2l.1 3.1l.1-2.2v-1l.1 3.9l.1-1.4v-1.1l.1-.2l.1-1.1v1.1l.1 2.1l.1 3.4l.1-3.4v4.3l.1-.9l.1-3.2v4.5l.1-5.1l.1-.1v-.1l.1 2.9l.1-2.6v2.2l.1 3.6l.1-6.8l.1 .6v1.2l.1-1l.1-.6v-2.3l.1 1.8l.1-.5v-2.1l.1 .4l.1 2.5l.1-2.9v5.1l.1 .2l.1-1.9v-4.3l.1 1.9l.1 2.1v-2l.1 4.1l.1-2.1v-.3l.1-2.1l.1-3.5l.1-1.5v0l.1 3.7l.1 1v-1.3l.1 2.7l.1 1.1v-.6l.1 1.3l.1-.5v.5l.1 2.9l.1-1.3l.1-2.4v4.1l.1 4.3l.1-2.5v3.3l.1-5.8l.1-4.4v5.6l.1-4.1l.1-2.6l.1 8v-11.8l.1 2.9l.1 .4v.3l.1 1l.1 3v4.5l.1-5.9l.1-1.8v3.7l.1-.9l.1-2l.1 7.5v-5.1l.1 2.7l.1-5.5v2.6l.1 .3l.1 3.1v-7.2l.1 .2l.1 5v4.8l.1-7l.1 5.8l.1 1.6v-8l.1 4.9l.1-1.3v-6.7l.1 .4l.1 2.5v-6.3l.1 4.6l.1-2.7l.1 6.8v-7l.1-3.5l.1 6.4v1.3l.1-3.6l.1-1.3v6.7l.1-6.7l.1 1.1v10l.1-3.3l.1-8.2l.1 2.2v.8l.1 5.6l.1-.8v-.1l.1-2.1l.1-6.7v9.8l.1-7.7l.1 1.6v.4l.1 6.6l.1 3.4l.1-10.2v7.7l.1-3.2l.1 1.1v1l.1 2.4l.1-9.8v2.2l.1 2l.1 7.4l.1-10.9v10l.1-.3l.1 5.4v-11.7l.1 10.5l.1-12.9v3.6l.1-2l.1 12.4v-.2l.1-7.6l.1-5.2l.1 5.2v9.4l.1-15.4l.1 .8v2.5l.1 2l.1-1.5v2.1l.1-.8l.1-1.7v2.5l.1 .4l.1-2.9l.1-6.6v2.6l.1-5.3l.1 1.6v11.9l.1-8.3l.1 2.7v1l.1 8.2l.1-2.6l.1 3.8v-2.2l.1-1.7l.1-4.5v-.8l.1-6.3l.1 3v-1.9l.1 3.2l.1-4.1v.9l.1-3.8l.1 10.2l.1-.8v.8l.1 1.6l.1-1v3.4l.1-5.2l.1-2.5v10.4l.1-6.2l.1 1.6l.1-8.5v-2.7l.1 6.5l.1 1.2v-1.8l.1 2.7l.1 2.1v-8.3l.1 2.1l.1 .5v3l.1 1.9l.1 .4l.1-3.3v1.1l.1 2.3l.1-3.2v-.4l.1 2.3l.1 2.4v-2.3l.1-.2l.1 .5v5.5l.1-2.9l.1-1.6l.1 4v-2.3l.1-1.7l.1 1.8v3.8l.1 .1l.1 .5v-.9l.1-3.5l.1 1l.1-4.1v-.6l.1 3.6l.1-4.4v.8l.1 2.1l.1-3.3v.1l.1 3.8l.1-3.3v6.2l.1 1.9l.1-.4l.1-3.8v.2l.1-1.9l.1 2.1v-6.6l.1 2.6l.1 6.6v-3.3l.1 .6l.1 .5v-1.6l.1-1.3l.1 3.8l.1-3.7v-2.7l.1 1.4l.1 .1v1.6l.1-2.9l.1 3.3v.2l.1 4.2l.1-4.2l.1-1.5v1.4l.1-3.7l.1 4.9v.5l.1-1.5l.1-.6v-1.2l.1-3.7l.1 4.5v4.8l.1-5.2l.1 5.2l.1 .8v-.5l.1-3.3l.1 .3v-6.2l.1 4.5l.1-1.9v-1.5l.1 5l.1-2.1v1.7l.1 2l.1-3.2l.1-.5v1.5l.1-4.7l.1 1v11.6l.1-6.6l.1-5.5v5.1l.1-5.4l.1-.1l.1 4.8v-3.1l.1-1.3l.1-3.4v0l.1 8.1l.1-5v3.8l.1-2.6l.1 4.7v.7l.1-.9l.1 0l.1-.6v8.1l.1-2.8l.1-2.2v2l.1-.6l.1-1.6v-.5l.1-1l.1-6.1v5.3l.1-3.1l.1-4.3l.1 1.8v3.1l.1 3.5l.1-1.5v1.9l.1-7.7l.1 9.6v-4.9l.1 4.5l.1-9.8l.1 4.6v3l.1 1.2l.1 2.3v-2.8l.1-.1l.1-4.4v.5l.1 4.7l.1-1.4v-.5l.1 1.3l.1-3.8l.1 4.2v-.2l.1 .7l.1-2.5v-.2l.1-2l.1 2.1v-1.1l.1-4.7l.1 .7v-.6l.1 1l.1 .5l.1 3.1v-1l.1-3.8l.1 .1v1l.1 2.3l.1-1.9v1.6l.1-2.7l.1 3.5l.1-.4v-3.2l.1-2.7l.1-2.7v7.1l.1-2l.1 3.7v-4.3l.1 2.6l.1-1.7v-1.1l.1 .5l.1-.8l.1 1.8v5.4l.1-4.3l.1-2.5v2.3l.1-3.9l.1 2.5v-1.7l.1 2l.1-1.1v-1.7l.1-.9l.1 .2l.1 .5v3.4l.1-.3l.1-2.2v3.1l.1 3.3l.1 .3v-2.4l.1 .3l.1 1.4l.1-5.3v2l.1-.9l.1 4.6v-4.8l.1-3.7l.1 1.6v-2.8l.1-2.9l.1 5.7v-1.3l.1 6.4l.1-4.7l.1-1.6v1.2l.1-4.7l.1 6.5v-.9l.1 2l.1-5.2v3.2l.1-2.9l.1 3.4v-1.5l.1 .3l.1 7.3l.1-1.2v-4l.1 .6l.1-1.4v.2l.1-3l.1 2.8v.2l.1 5.4l.1-6.5l.1 .6v-2.2l.1-2l.1 6.7v1.7l.1-3.1l.1-1.2v4.3l.1-5l.1-1.6v-.7l.1 1l.1-2.7l.1 1.7v-.5l.1 2.8l.1-1.1v1.4l.1-3.7l.1-.4v3.9l.1 .8l.1-3.9v1.7l.1-3l.1 .7l.1 .9v1.4l.1 7.2l.1-4.7v-2.1l.1-3.7l.1 4v3.6l.1-1.5l.1 1l.1-5.3v-1.8l.1 6l.1 2.9v-.3l.1-2.4l.1 .1v-.3l.1-.3l.1 1.8v.6l.1-.5l.1 1.8l.1-4.6v-.4l.1 .2l.1-.5v-4.6l.1 5.7l.1 0v-1.3l.1 1.9l.1 .4v-.8l.1 1.1l.1-.3l.1 3.6v-2.2l.1 2.1l.1-.9v.5l.1 1.8l.1-1.6v2.4l.1-5.1l.1-2l.1 4.5v-5.4l.1 4.3l.1-5.7v2.3l.1 .9l.1 3.9v-3.8l.1-2.5l.1 5.7v-4.4l.1 4.4l.1 1.6l.1-3.1v-4.3l.1 6.5l.1-2.7v-.1l.1 1l.1 .5v-1.9l.1-2.7l.1-.3v5.9l.1-.6l.1 .6l.1-1v.5l.1 .3l.1-3.4v3.9l.1 1.4l.1-2v2.8l.1-4.1l.1-3.7l.1 4.2v-3.6l.1 5.4l.1-2.4v1.6l.1 4.4l.1-2.5v-1l.1 .1l.1-.3v-1.9l.1 1.1l.1-1.8l.1 0v5.3l.1-.9l.1-3.1v-1.8l.1-.7l.1 4.5v-6l.1-.9l.1-2.8v1.9l.1 5.7l.1 .4l.1-3.5v.6l.1 1.2l.1-1.3v-2.9l.1 5.2l.1-6.9v7.6l.1-3.6l.1 2.2l.1-2.8v5.8l.1-5.2l.1 5v-3.9l.1 .7l.1-3.9v4.2l.1 .4l.1-4v1.6l.1 .3l.1 1.8l.1-3.6v1.7l.1-2l.1-.4v6.3l.1-1.2l.1 .1v-1.2l.1 .9l.1 .4l.1-1.6v1.5l.1 1.8l.1-2.2v2.9l.1-1.6l.1-3.8v1l.1-1.3l.1 1.7v-.4l.1-2.3l.1 .2l.1 0v4.4l.1-1.2l.1-.1v1.8l.1 .1l.1-3.2v-.3l.1 .4l.1-3.8v2.8l.1 .7l.1-.1l.1 .2v2.5l.1-.2l.1-2.1v2.7l.1 .1l.1-4v2.2l.1-.6l.1 2.2l.1-2v-1.2l.1 .7l.1 1.1v-2.1l.1-.5l.1 1v.6l.1 .5l.1 3.3v-2.7l.1 1.4l.1 .8l.1-.4v-3.6l.1 1.2l.1 1.8v1.6l.1-.9l.1 1.8v-3.1l.1-1.6l.1-1v1.5l.1-2l.1 1.7l.1-2v2.2l.1 2.7l.1-.9v-.5l.1-1.7l.1 2.4v.8l.1-1.9l.1 1.2l.1 2.3v-.8l.1 2.5l.1-2.9v-1l.1-1.6l.1 .2v1.8l.1-3l.1 3.6v1l.1-1.6l.1-2.2l.1-2.5v6.8l.1-2.3l.1-1.1v-2.3l.1-2.3l.1 3.7v-.1l.1-3.4l.1 3.3v1.5l.1-3.9l.1 2.6l.1-5.1v4.5l.1-1.5l.1-.4v4.1l.1 .2l.1 1.6v-5.2l.1 4.1l.1-1l.1 3.4v-4.4l.1 1.6l.1-2.5v5.4l.1-2l.1 1.9v-6.4l.1 3.3l.1-1.4v-3.1l.1 2.9l.1-1.7l.1-.1v1.5l.1-2l.1 4.3v.4l.1-.4l.1-1v-.4l.1 .6l.1 1.3v-2.6l.1 .9l.1-1.2l.1-4.6v-.2l.1 5.5l.1-2v-.4l.1 2l.1-.5v1.7l.1 2.1l.1-2.1l.1-.3v.4l.1-1.9l.1-4.8v1.3l.1 4.8l.1-1.1v-1.3l.1 .2l.1-1.4v3.2l.1-1.1l.1 .3l.1 1.2v-6.3l.1 .4l.1 1.4v5.7l.1-2.3l.1 .5v-3.1l.1 4.9l.1 3.6v-4.5l.1-18.7l.1 15.7l.1-2v1.3l.1-4.8l.1 5.4v1.5l.1 3.9l.1 1.4v-1.8l.1-1.8l.1-2.7l.1 1.3v3.9l.1-4.9l.1-2.8v-.3l.1 3.6l.1 4.4v-.7l.1 1.8l.1-5.6v-1.2l.1 2.4l.1-2.3l.1 .4v2.7l.1-.1l.1 1.3v1.9l.1 3.7l.1-5.7v-1.3l.1-.5l.1 2.8v-4.8l.1-2l.1-.5l.1 3v-.6l.1-1.6l.1 .1v5l.1 3.7l.1-2.5v3l.1-1.6l.1-2.6l.1-2.2v-.2l.1-4l.1 8.6v-4.1l.1-1.1l.1 2.8v-.9l.1-3.6l.1 1.7v4.5l.1-8.9l.1 5.4l.1 5.6v-4.2l.1 .2l.1 2.1v-5.2l.1 7.2l.1-3.3v0l.1-1.5l.1 4.5v-.2l.1 2.7l.1-1.8l.1-3.8v-.2l.1 .4l.1 .3v-3.7l.1 .6l.1-.7v1.4l.1-3.7l.1-3.7l.1 7.4v-1l.1-.3l.1 5.1v-10.8l.1 4.2l.1 10.5v-3.3l.1-5.6l.1-.3v-.5l.1 6.2l.1-6.9l.1 3.6v6l.1-4.4l.1 4.2v.3l.1-3l.1-4.4v2.2l.1 .8l.1-3.6v4l.1-3.7l.1-1.3l.1 7v-4.9l.1 1.7l.1-1.5v2.6l.1-1.3l.1-1.2v-3l.1 .8l.1 3.4l.1-.3v1.2l.1 .5l.1-1.6v.4l.1-.5l.1 1v-1.2l.1-2.6l.1-3.5v1.8l.1-2.6l.1 .9l.1 4.4v-1.2l.1-.9l.1 3.1v.6l.1-4.2l.1 4.3v-1.4l.1-4l.1 4v-5.1l.1 2.4l.1 1.7l.1-.6v1.4l.1-5l.1 1.8v2.9l.1-.5l.1-.2v1.5l.1-.1l.1-.4l.1 0v-1.2l.1 3.2l.1 .7v-2.3l.1-3.5l.1 3.7v-3.4l.1 3.2l.1-.4v.3l.1-.2l.1 .6l.1 2.4v.4l.1-.3l.1-3.4v5l.1-2.9l.1-2.1v1.3l.1-.4l.1 2.2v-6.9l.1 3.5l.1-3.2l.1 3v3l.1-2.2l.1 2v-.5l.1 4.3l.1-8.6v1.4l.1 1.8l.1-1.7l.1-5.5v6.9l.1 1.8l.1 4.4v-3.3l.1 2.5l.1-1.9v-1.1l.1-2.8l.1 6.2v-.3l.1-.7l.1-2l.1-2.5v-2.1l.1 .2l.1 2.3v2.7l.1-.2l.1-.4v2.4l.1-4.3l.1 7.6v-2.8l.1 2.9l.1-.8l.1-4.3v1l.1-4.6l.1-.3v3.1l.1 2.2l.1-1.5v-2.5l.1 2.3l.1-1.7l.1 3.2v0l.1-2.2l.1 .8v-1.1l.1 3.3l.1-2v-2.2l.1 2.6l.1 1.9v-4.1l.1 5.7l.1-5.1l.1 1.8v-1l.1 2.7l.1-2.3v-.3l.1-.3l.1 1.7v2.7l.1-7.4l.1 1.6l.1 4.9v-3.7l.1 2l.1 2.3v.3l.1-3.5l.1 .8v1.5l.1-4.9l.1 2.7v.6l.1 2.6l.1 .3l.1 .8v-4.5l.1 1.1l.1-3.8v.4l.1 3.4l.1-2.1v-.2l.1-1.1l.1 .8v2.7l.1-1.7l.1-2.1l.1 2v.2l.1-.8l.1 1.2v2.1l.1-2.7l.1-.4v1.7l.1-2.2l.1 1.5l.1-3.2v-2l.1 .1l.1 1.3v1.1l.1 1.5l.1 0v1.8l.1-.2l.1-.7v-1.2l.1 2.7l.1 0l.1-1.9v0l.1-2.4l.1 2.1v-.9l.1 .5l.1-3v2.8l.1-3.9l.1 3.1v-.2l.1-3.1l.1-.1l.1 .5v-.5l.1 3.2l.1 .5v-1.4l.1-1.5l.1 1.8v-.6l.1-1.6l.1 3.1l.1-3.5v2l.1-2.6l.1-.8v5.3l.1 2.7l.1-4.6v3.2l.1 2.7l.1-4.1v2.5l.1 1l.1-1l.1-3.8v-.2l.1 3.7l.1-3.3v4.2l.1-2.9l.1-1.5v4.1l.1-3.5l.1-4v7.2l.1-3.3l.1-.4l.1 4v-2.2l.1 1.6l.1-3.3v-3.7l.1 3.2l.1 3.4v-5.4l.1-.7l.1-1.4l.1 5v-3.3l.1 1.6l.1 5.5v-3.3l.1-4.6l.1 5.2v-1l.1-2.6l.1-2.7v2.5l.1 3.4l.1-.5l.1-2.6v2.5v-5.5l.1 5.6l.1-8.2v4.6l.1-1.1l.1-.1l.1 5.1v-2.7l.1-.3l.1 1.9v.7l.1-4.3l.1-.5v1.9l.1 .2l.1-2.6v3.5l.1-.3l.1 3l.1 .8v-3.5l.1 0l.1-2.1v-.5l.1 4l.1-4.4v-.6l.1 .7l.1 1.9l.1-1.6v-.2l.1-2.8l.1 4.1v-3l.1 .8l.1 2.1v3.4l.1-2.5l.1-.5v-.1l.1 .7l.1-4.2l.1 5.2v-4.1l.1 1.9l.1-.8v.1l.1 2.6l.1-4.9v1.8l.1-1.9l.1 7.3v-4.1l.1 2.7l.1-6.5l.1 2.2v3.5l.1-2.9l.1 .8v1.3l.1-3.8l.1-.4v7l.1-1.1l.1-4.7l.1-.8v.7l.1-.9l.1-1.1v.4l.1 5.1l.1-4.4v3.2l.1 1.1l.1-.9v.7l.1-1.6l.1 1.7l.1-1.7v2.4l.1-3l.1 2.3v.1l.1 3.7l.1-5.4v-1.5l.1 3.1l.1 0v-.6l.1-2.2l.1-2l.1 7v-4.7l.1-2.1l.1 2.9v-2.3l.1 3.1l.1 .7v-4.3l.1 5.6l.1-.8l.1 .3v3l.1-2.6l.1-1.5v.5l.1-3l.1 2.4v-4l.1-2.6l.1 3.5v6.6l.1-5.1l.1 2.7l.1-4.4v5.2l.1 .9l.1 1.2v-.1l.1-1.3l.1-4.9v-2.3l.1 5.1l.1-3.2v2.6l.1-4l.1-1.6l.1 5.2v1.8l.1-1.2l.1 .5v-1.4l.1 3.2l.1-4.1v1.5l.1-3.6l.1-.6l.1 2.6v-1.8l.1 2.9l.1-5.5v4.9l.1 .2l.1 3.5v-2.6l.1 5.4l.1-3.6v-1.2l.1 .4l.1 3.8l.1-5.3v3l.1-1.1l.1-2.7v-4.6l.1 6.4l.1 4.8v-.3l.1-4.5l.1 1.7v-3.9l.1 1.1l.1-2.9l.1 5.7v-1l.1-3.2l.1 3.9v-2.7l.1 .5l.1 .1v.7l.1-3.8l.1 2l.1 1.7v5.6l.1 .4l.1-3.7v-1l.1 .8l.1 .3v-5.1l.1 3.2l.1-1.3v5.4l.1 0l.1-4l.1-1.4v4.4l.1 1.5l.1-.1v-6.1l.1-3.8l.1 1.5v2.2l.1 2l.1 3.9v-5.6l.1-1.2l.1 2.9l.1 8.5v0l.1-6.6l.1-4v5.9l.1-4.1l.1 4.3v-6.7l.1 10.4l.1-3.9l.1-3.4v-4.5l.1 4.2l.1 4.7v.1l.1-3.6l.1-3.8v5.9l.1 2.1l.1-.9v2.6l.1-6.4l.1 .4l.1 3.1v-6l.1-.5l.1 1.5v3.6l.1-2.7l.1-4v4.5l.1 .2l.1 .3v-2.3l.1 .5l.1 5.9l.1-7.8v5l.1-2.4l.1 1.9v.9l.1-4.6l.1 4.4v3.1l.1-2.6l.1-3.8l.1 .7v-5.1l.1 3l.1 4.6v-4.4l.1-.5l.1 4.8v-1.8l.1 2.3l.1-1.4v5.7l.1-.4l.1-6l.1 2.2v-2l.1 1.8l.1-1.2v4.9l.1-5.6l.1-5v3.8l.1-.9l.1 4v2.6l.1 1.1l.1-5.2l.1 2.3v-.2l.1 1.7l.1-.9v.6l.1 2.1l.1-6.6v-3l.1 2.3l.1 1.9l.1-.2v3.8l.1 1.6l.1 .1v-5l.1 4.1l.1-8.6v5.4l.1-.8l.1-1.5v2.1l.1 4.2l.1-5.9l.1 7.8v-7l.1 .1l.1-1.8v3.9l.1-3.2l.1-2.2v1.1l.1-4.2l.1 3.7v-1.1l.1 4.8l.1-2.7l.1 2.3v-2.9l.1 4l.1-.1v-1.4l.1-1.8l.1 .6v2.8l.1-2.2l.1 .2l.1 .5v-.5l.1-2l.1-.3v2.2l.1-.2l.1-2.8v4.3l.1-3.7l.1 5.8v-1.8l.1-6.2l.1 0l.1 2.5v1.8l.1-1.5l.1 2.5v3.1l.1-3.4l.1-1.1v-.3l.1-1l.1 6.4v-5.4l.1-2.1l.1 3.9l.1-2v-.6l.1-4.4l.1 5.2v-.8l.1 1.7l.1-1v-1.9l.1 .3l.1-1.9l.1 2.7v.8l.1-1.3l.1-.9v1.1l.1-2.3l.1 3.4v-.7l.1-1.9l.1-2.4v3.5l.1 1.5l.1 3.8l.1-6v-1.3l.1 2.7l.1 1.6v1.7l.1-5.2l.1 .7v3.9l.1-.9l.1-5v-3.4l.1 6.3l.1-3.7l.1 4.4v-.7l.1 4.6l.1-3.1v.6l.1-.2l.1-2.1v.2l.1-3.1l.1 1.5l.1-3.4v8l.1-2.7l.1-3.6v4.3l.1-4.6l.1 1.2v2.6l.1-.4l.1-3.4v1.7l.1 4.4l.1-.7l.1-4v4.1l.1 1.6l.1-1.6v-2.1l.1-4l.1 .8v4.1l.1 1.1l.1-4.6l.1 4.3v0l.1-5.2l.1 3v.9l.1-.5l.1-1.7v-1.9l.1-2l.1 2.6v.5l.1 2.6l.1 3.9l.1 2.3v-2l.1-5.9l.1 3v-6.8l.1 7l.1 1.5v-1.3l.1-2.5l.1-1v-1.4l.1 3.4l.1-2.7l.1 3.8v-4.1l.1-4.3l.1 7.9v-1.1l.1 2.3l.1 4.1v-1.3l.1-3.4l.1-8.1l.1 14.5v-6.8l.1-1.4l.1-6.8v10.8l.1-4.8l.1 1.6v-4.6l.1 6l.1-.7v.7l.1-3.8l.1-.7l.1-3v3.2l.1 3.8l.1 2.9v-4.1l.1 2.3l.1-1.4v-5.6l.1-1.3l.1 8.8v-1l.1 1.5l.1 .8l.1-7.4v3.6l.1 .7l.1 2v.8l.1-3l.1 3.4v-4.1l.1 1.7l.1-1.1l.1-3.9v-.3l.1 3.2l.1 5.8v-7.6l.1 5.1l.1-3.2v.5l.1 1.3l.1-.4v-2.7l.1 4.5l.1 2.2l.1-6.1v.8l.1-.1l.1-4.3v5.5l.1-1l.1-1.3v1l.1 3.3l.1-1.3v3.2l.1-5.3l.1-2l.1 3.1v2l.1-.1l.1-2v-2.6l.1 2.6l.1 .3v-2.4l.1-2l.1 0l.1 10.6v-4.1l.1-.8l.1 1.3v-2.4l.1-.8l.1 .2v-.8l.1-2.1l.1 4.2v1.4l.1-.8l.1 4l.1 1.3v-6.4l.1-2.4l.1 9.9v-3.1l.1 1.4l.1-6v-3.5l.1 3.5l.1 9.1v-6.1l.1 3.4l.1-3l.1-3.7v4.8l.1-2.7l.1 4v-5.7l.1-2.6l.1 8.5v-4.4l.1-.7l.1 5.9l.1-7.3v3.9l.1-2.5l.1-2.3v1.9l.1 .5l.1 3.7v1.9l.1-7l.1 3.7v1.8l.1-6.8l.1-.6l.1 9.5v-4.7l.1-1.4l.1 1.2v7.1l.1 0l.1-4.9v.1l.1-3.4l.1-.1v-.6l.1 1.8l.1 3.8l.1-.4v-4.9l.1 5.1l.1-4.9v2.4l.1 4.5l.1-2v-3.4l.1 .4l.1-2.3l.1 6.6v-.3l.1-4.4l.1 3v-2.6l.1 3l.1-4.8v.3l.1 6.4l.1-6.5v-.6l.1 4.6l.1-3.6l.1 .2v1.5l.1 .9l.1-2v1.9l.1-1.5l.1 2.8v-.8l.1-4.8l.1 4.2v-4.9l.1 1.6l.1-1l.1-3.3v3.1l.1 .9l.1 1v3.1l.1-.2l.1-2.9v6.1l.1-4.4l.1 0l.1-2.4v3.4l.1-4l.1 .2v-4.5l.1 3.7l.1-1.9v1.4l.1 .8l.1 .8v.9l.1-.6l.1 5.8l.1-5.3v.7l.1-2.6l.1 0v-.3l.1 2.6l.1-1.9v-.9l.1-.2l.1 0v2.7l.1-1.1l.1 .3l.1 .5v-.2l.1 1.1l.1 .9v-4l.1 1.9l.1 .9v-.5l.1 2.5l.1-3.1l.1 2.6v-.4l.1-4.7l.1 1v2.5l.1 2.7l.1-5.1v3.5l.1-4.6l.1-1.1v1.5l.1-1.1l.1 7.4l.1-3.7v-1.3l.1 1.1l.1-1.1v1.6l.1-2.1l.1-1.2v5.9l.1-4.5l.1 1.8v-6.7l.1 4.4l.1 .9l.1 1.7v-1.6l.1-1.3l.1 6.3v-6.9l.1-1.9l.1 3.8v5.2l.1-9l.1 4.1l.1 1.9v2.8l.1-4l.1-2.2v-1l.1 3.1l.1-.7v.9l.1 .4l.1-4v3l.1-1.8l.1 3l.1-.6v-4l.1-.3l.1 .4v1.4l.1 3.8l.1-3.2v-2.3l.1 2l.1-.6v1.9l.1-.6l.1-1.2l.1 1v.5l.1 .3l.1-4.4v-1l.1 7.6l.1-2.2v-3.4l.1 .4l.1 1.9l.1-.6v-4.2l.1 2.9l.1 3.6v.2l.1-1l.1 0v.5l.1-3.3l.1 1.7v-3.4l.1 2.6l.1 0l.1-2v3.1l.1 1l.1-2.6v-.7l.1 3.4l.1-4.5v.3l.1 2.4l.1 3.4v-2.4l.1-4.8l.1 2.3l.1-1.6v-.6l.1 3.3l.1-4.2v3.7l.1-2.7l.1 2.2v2.6l.1-2.4l.1 2.8l.1-2.6v1.8l.1 1.1l.1 1v-6.3l.1 3.4l.1 3.2v.7l.1-5.7l.1 2v-1.8l.1 1l.1 1.7l.1-2.2v3l.1 1.9l.1-.4v-2.1l.1 1.2l.1-6.6v2.7l.1 4.5l.1-1v1.5l.1 .5l.1 .1l.1-1.3v-4.1l.1-2.3l.1 4.7v1l.1-7.8l.1 4v-1.4l.1 2.3l.1 3.1l.1 1.9v-7.2l.1 3.3l.1 1.3v-2.2l.1-2.3l.1 4v-4.8l.1 2.6l.1-.4v6.9l.1-2.6l.1-.3l.1-.6v3.3l.1-1.5l.1-7v3.8l.1 2.8l.1-5.2v3.7l.1-.7l.1-4.4l.1 6.6v.6l.1-3.1l.1-1.4v.1l.1 3.8l.1-2.8v1.1l.1-1.3l.1 1.7v-2.9l.1 1.6l.1-2.8l.1 5v-5.3l.1 2.3l.1-3v.4l.1 2.3l.1 2v-1.9l.1-1l.1 4.9v-2.7l.1-.3l.1 0l.1-.2v6.1l.1-4.3l.1 .9v0l.1-.3l.1-.8v2.9l.1-2.1l.1 1.7l.1-1.3v-2.4l.1 1.5l.1 2.9v-5l.1 .1l.1 1.2v-.7l.1 .5l.1-1.2v4.2l.1-1.7l.1-3.8l.1 1.1v4.1l.1-3.2l.1 .8v-.8l.1-3.1l.1 1.9v3.6l.1-.9l.1 .5v-2.6l.1 2.2l.1-3l.1 .8v.6l.1 .4l.1-3.5v3l.1-1.5l.1-.2v1.3l.1-.1l.1 1.1l.1 .1v1.5l.1 2.9l.1-3.4v-2.8l.1 0l.1 1.3v.5l.1 1.4l.1-.6v.1l.1-.8l.1 2.6l.1-1.1v-.7l.1 .8l.1 1v-3l.1-1.2l.1 3.4v-6.5l.1 4.2l.1 3.1v-4.1l.1 5.8l.1-1.7l.1-2.6v-2.6l.1-.9l.1 4.2v.9l.1 2.2l.1-1.9v0l.1-1.6l.1-1.2l.1 .5v.3l.1 .6l.1 5.3v-6.7l.1-2.8l.1 3.9v.1l.1-1.2l.1-.8v-1.3l.1 2.3l.1 .4l.1-1.1v5.6l.1 1.3l.1-6.8v-.9l.1 5.3l.1 1.6v-1.7l.1 .5l.1-1.4v-.3l.1 1.8l.1-4.8l.1 3v.1l.1-3.2l.1 6.3v-7.7l.1 2.4l.1 1.7v2.1l.1-1.9l.1-.6l.1 4.8v-4.3l.1 1l.1-.7v-8.2l.1 .9l.1 9.8v-.9l.1 .4l.1 1.4v.9l.1-4.4l.1-2.3l.1 1.8v.2l.1-.6l.1 .4v2.3l.1-3l.1 8.4v-10.5l.1-1.8l.1 2.4v2.5l.1-2.8l.1-2.8l.1 3.6v.2l.1 4.9l.1 .9v-3.3l.1 5.2l.1-6.1v-5.3l.1 3.4l.1 3.7l.1-.7v.6l.1-6l.1 5v-3.1l.1-2.5l.1 .5v-1.7l.1 3.9l.1-2.3v3.6l.1 1.6l.1-4.4l.1 3.2v-.6l.1-1.2l.1 2.8v-5.2l.1 2.3l.1 .7v.1l.1 .4l.1-.6v.7l.1 .4l.1-1.6l.1 .4v-6.6l.1 1.6l.1 3.8v-2.9l.1 3.4l.1-2.5v4.3l.1-1.8l.1-5.5l.1 6.1v-.1l.1 1.1l.1-6.4v10.3l.1-6.1l.1 3.7v-5.6l.1 3.2l.1-2.6v3l.1-1.4l.1 4.7l.1-2v-4.6l.1 3l.1 0v.1l.1-3.5l.1 6.8v-2l.1-2l.1-4v3.2l.1 0l.1 1.6l.1 .9v-3.4l.1 3.1l.1 1.8v-3.2l.1-2.8l.1-.6v-2.3l.1 3.6l.1 .7l.1 3.3v-1.8l.1-.6l.1-3.3v2.1l.1 1.6l.1-1.4v6.3l.1-8.7l.1 1.5v3.9l.1-8l.1 2.3l.1 .9v2.8l.1-2.4l.1 1.5v.8l.1 2.1l.1-3.1v.8l.1 1.3l.1-3.8v4.8l.1-1.8l.1-3.4l.1 5.1v.8l.1-4.5l.1 2.2v-4.3l.1 6.7l.1-1.5v-.5l.1-3.4l.1-3.7l.1 2.9v-.4l.1 3.5l.1 .2v-2.9l.1-.2l.1 4.2v-2.5l.1 .6l.1 1.1v5.1l.1-3.8l.1 .6l.1-3.7v.9l.1 2.1l.1-5.4v2.7l.1-.1l.1-3.5v2.5l.1 .5l.1 2.6v-4.5l.1 5.6l.1 .1l.1-3.6v-.8l.1-.4l.1 1.7v-.8l.1 .6l.1 1.8v-2.7l.1 2.5l.1-4.8l.1 5.3v.1l.1-2.2l.1 .1v-1.2l.1 2.9l.1-5v4.6l.1-.1l.1-1.7v7l.1-5l.1 4.4l.1-4.9v-3.9l.1 5.1l.1-.1v.8l.1-2.5l.1-.7v4.1l.1-3.2l.1-1.3v3.9l.1-.7l.1-1.5l.1-3.1v2.4l.1-3.8l.1 4.2v.2l.1-3.8l.1 2.6v-.7l.1 1.1l.1 3.2l.1-2.6v.4l.1-.5l.1 .5v.4l.1 2.6l.1-1.4v-1.3l.1-.5l.1-1.4v6.9l.1-4.5l.1-3.1l.1 4.3v-4.2l.1 1l.1 3.5v-.7l.1 1.5l.1-1.5v-1l.1-1.8l.1 5.2v-5l.1 1.7l.1 .9l.1-.9v-1.9l.1 2.4l.1-2.1v4.1l.1-3.2l.1 3.2v-.2l.1-3.4l.1 2.7l.1 .5v-1.3l.1-2.5l.1 1.9v2.6l.1-.7l.1 .8v.9l.1-3.5l.1 .5v1.2l.1-1.8l.1-.5l.1-1.3v2.5l.1 3.9l.1-5.7v4.2l.1-2.9l.1 1.7v1l.1-3l.1-.9l.1 1.1v4.5l.1-3.1l.1-.3v2.5l.1-2.6l.1-.5v1.7l.1 .8l.1-1.9v-2.9l.1 1.4l.1 3.6l.1-1.9v-.8l.1 .6l.1-1.9v2.7l.1-.6l.1-1.8v2.4l.1 0l.1-2v-1.9l.1 1l.1-1.1l.1 5.5v-4.5l.1 1.1l.1 1.6v-1.7l.1 2.4l.1-4.1v.4l.1 .2l.1 4.6l.1 1.7v-3.8l.1-2l.1 2v-3.5l.1 2l.1 3.2v1.3l.1-.3l.1-.4v-2.6l.1 2.4l.1-1.2l.1 .1v-3l.1 3.3l.1-1v-1.6l.1 2.8l.1-2.9v2.1l.1-3.6l.1 .7v1.6l.1-.1l.1-2.4l.1 5.8v-1.6l.1-5l.1 1.2v3.4l.1-2.6l.1 2.8v-4.7l.1 5.2l.1-1l.1-4v3.7l.1 1.2l.1-1.8v.8l.1-3.1l.1 1.1v2l.1-1.4l.1 .7v3l.1-5l.1 .8l.1 0v1.9l.1 .6l.1-.3v1l.1-3.1l.1-1.3v-2.3l.1 3.9l.1 3.1v-3.6l.1 .8l.1-1.6l.1 3.3v-.5l.1-2.4l.1-.4v1l.1-1.5l.1-.5v1.4l.1 5.2l.1-.4l.1-4.2v-.8l.1-.5l.1-1.4v7.1l.1-1.9l.1-1.4v0l.1-1.1l.1-.1v-.7l.1 2.2l.1 2l.1-5.4v4.7l.1-.2l.1 .7v-3.2l.1-3l.1 3.2v-2.2l.1 4.8l.1-2.1v-1.3l.1 1.4l.1-3l.1 .6v2.4l.1 2.7l.1-1.8v-2.4l.1 1.2l.1 .1v-1.8l.1 4.2l.1-2.4l.1-1.7v.9l.1 1.5l.1-1.6v.8l.1-.8l.1-2.3v-1.5l.1 3.2l.1 2.8v-1.2l.1-3l.1 2.5l.1 .1v1.2l.1-.6l.1-2.6v.3l.1 .4l.1 1.3v-.9l.1-1.8l.1 2.6v.1l.1 1.7l.1 1.1l.1-4.6v1l.1 1.8l.1-1.2v-.2l.1 3.4l.1-5.2v1.5l.1 .7l.1 2.1l.1-3.2v-1.3l.1 1.1l.1 1.7v-3.7l.1-1.4l.1 3.9v-.9l.1-3.3l.1 5.2v-.5l.1 4.1l.1-2.7l.1-2.2v1.4l.1-3.3l.1 1.1v-1.9l.1 3.4l.1 .9v1.5l.1-1.4l.1-2.8v4.4l.1-1.7l.1-.1l.1-3.3v5.8l.1-5l.1 2.2v-2.2l.1 .3l.1-.1v.8l.1 3.3l.1-4.8l.1-.6v1.4l.1-3.3l.1 1.9v5.9l.1-2.6l.1 3.4v-1.8l.1 1.7l.1-1.7v-3.5l.1 .2l.1 2.2l.1-2.3v1.6l.1-1.4l.1 1.5v-1l.1 2.4l.1-1.6v-2.5l.1 .7l.1 3.3v-2.1l.1 .2l.1 1.8l.1 0v-3.4l.1 1.4l.1 3.4v-4.4l.1 1.1l.1-.4v5l.1-5.5l.1 6.6l.1-2.4v2l.1-2.3l.1-.9v.5l.1-5.6l.1 .9v-.8l.1 5.3l.1-3.6v2.7l.1-.8l.1 2.8l.1-2.8v-1.5l.1 2.7l.1-.6v1l.1 .7l.1-1.1v.7l.1-1.5l.1 .3v2.9l.1-5.3l.1 2.6l.1-3.3v3.8l.1-1l.1-.8v2.9l.1-2.8l.1 2.9v2l.1-1l.1-1.3l.1 2.4v.7l.1-.1l.1-2.1v.1l.1-3.3l.1 1v-1.1l.1 1.9l.1 3.1v-2.1l.1 .5l.1-1.9l.1-.9v.7l.1 3.8l.1-4.7v2.9l.1-1.6l.1 3.1v-3.8l.1 5.6l.1-4.7v-1.7l.1 2.4l.1-1.6l.1-.1v-1.2l.1 2.5l.1-1.4v-.5l.1 1.3l.1 4.9v-4.1l.1-3.1l.1 1.6l.1-.6v4.4l.1-1.4l.1-3.5v-1l.1 6.2l.1-4.3v0l.1-1.9l.1 3.1v2.9l.1-2l.1 1l.1-1.1v1l.1-.9l.1-2.1v.9l.1 1.1l.1 .2v.1l.1 .2l.1-3.2v-.2l.1 2l.1 2.3l.1 0v.4l.1 1.5l.1-4.6v-1.5l.1 3.4l.1 1.7v-1.2l.1-2.9l.1 1.7l.1-1.8v2.7l.1-.2l.1-.6v-2.1l.1 3l.1-.4v-2.7l.1-2.7l.1 .9v-1.8l.1 4.9l.1-1.4l.1 .1v1.3l.1-1.5l.1-.3v-1.4l.1 .9l.1 3.6v-3.7l.1 4.2l.1-5.8v3.8l.1 .8l.1 1.8l.1-3.2v-1.6l.1-1.5l.1 .8v3.2l.1-5.3l.1 6.3v-1.3l.1 2.2l.1 .6l.1-2.1v-1.8l.1-.4l.1-1.6v3l.1-2.3l.1 4v-.6l.1 0l.1-.9v-.2l.1 .8l.1-1.4l.1-.1v3.7l.1-4.7l.1 5.6v-1.4l.1-2.8l.1-5.3v5.5l.1-.5l.1-.1l.1 1.8v-.7l.1-4.7l.1 2.5v3.2l.1-3.1l.1 .8v-1.3l.1 5.6l.1-5v1.2l.1-1.2l.1-2.3l.1-.1v1.5l.1-.1l.1-.3v3.1l.1-1.6l.1-.3v.5l.1 1.8l.1-.4v3.8l.1-8.5l.1 1.5l.1 2.7v-.3l.1-.9l.1-1.8v.9l.1 2.3l.1 3.2v-1.2l.1-6.4l.1-.2l.1 6.2v-4.2l.1 .3l.1 4.1v-4.1l.1-.8l.1 3.6v-4.4l.1 2.2l.1-1.6v3.4l.1 .3l.1-7.2l.1 3.6v3l.1-6.9l.1 5v1.3l.1-.8l.1-1.2v0l.1 1.6l.1 1v-1.3l.1-3.1l.1 .8l.1 1.2v-.4l.1 2l.1 1.5v-6.4l.1 4.9l.1 2.5v-3.1l.1-1l.1 7.5l.1-5.1v-3.1l.1 1.8l.1 3.3v-4.3l.1 2.7l.1-.3v-.6l.1-1.3l.1 .1v.2l.1 .1l.1 2.6l.1-4.2v6.7l.1-2.9l.1-1.6v.2l.1 1.1l.1 .2v-1.2l.1-2.5l.1 0v2.8l.1-2.8l.1 1.3l.1 .1v.2l.1-.8l.1 4.1v-5.4l.1 4l.1-4.1v2.5l.1 2.4l.1-2.2l.1-.9v3.1l.1 .4l.1 1.3v-2.3l.1-4.4l.1 2.2v-2.3l.1-1.2l.1 5.5v-1.9l.1 2.2l.1-1.8l.1-1.8v2.3l.1 .4l.1 0v-.6l.1-2.2l.1 2.7v-1.8l.1 2.1l.1-1v1.3l.1-.6l.1 .4l.1-2.8v0l.1-1.1l.1 1.9v-1l.1 .6l.1 2.4v.4l.1 1.4l.1-2.2l.1-.8v.5l.1-2.2l.1-.2v2l.1-1.8l.1-1.4v1.8l.1 2.8l.1-1.3v4.1l.1-4.5l.1 .3l.1 1.5v.5l.1 .9l.1-1.2v-.7l.1-2.8l.1 4.2v-2.2l.1 .7l.1-1.5v1.2l.1 0l.1-.9l.1 1.6v.2l.1-2.4l.1 1.2v-.1l.1 5.5l.1-1.7v-3.7l.1-3.2l.1 5.7l.1-3.4v-1.2l.1 6.1l.1-.9v-4.6l.1 2.1l.1-1v2.6l.1-.3l.1-1.1v-.9l.1 1.1l.1 .9l.1-.9v2.7l.1-1.1l.1-2.6v-.2l.1-.7l.1-1v3.1l.1-3.6l.1 1.7v-2.6l.1 2.3l.1 .2l.1 3.6v2l.1 .9l.1-2.8v-.8l.1-.6l.1-.5v2.8l.1-2l.1 5.4l.1-5.8v-2.9l.1 .9l.1-.1v.5l.1 7.2l.1-7.1v1.2l.1-4.2l.1 4.6v-.7l.1 2.1l.1 .9l.1 .6v3.4l.1-7.1l.1 2.4v2l.1 .1l.1-2.1v1.1l.1 2.3l.1-2.4v-1.6l.1 .5l.1-3.7l.1 4v-.2l.1-2.2l.1 2.9v2.2l.1-1l.1-3.6v.2l.1-2.5l.1 .7l.1 3.3v-2.5l.1 .3l.1 2.3v-1.3l.1-3.4l.1 8.3v-5.2l.1 1.4l.1 .7v.7l.1-3.1l.1 2.9l.1-.9v1.5l.1-.8l.1 1.2v-6.6l.1 5.2l.1-.3v1.4l.1 1.2l.1-.6v-4.6l.1 3.1l.1-2.3l.1-.8v.8l.1-.5l.1 3.4v-.6l.1 1.6l.1-5.2v-.1l.1 1.7l.1 .4l.1-1v.2l.1 2.9l.1-2.5v1.8l.1 1.7l.1-4v.9l.1-4l.1 4.7v-1l.1-.7l.1 4.5l.1-3.1v-1.5l.1 .1l.1 1.4v.4l.1-2.4l.1 4.1v-1.2l.1-.7l.1 1.3v-2.7l.1 3.5l.1-3.2l.1-3.6v1.6l.1 1.1l.1 .8v-.4l.1 1.4l.1 1v1.8l.1-1.5l.1 1.1l.1 1.3v-4.4l.1 1.2l.1-1.4v.6l.1 2.9l.1-1.8v2.6l.1-1.1l.1-4.7v-2.6l.1 4.5l.1 .3l.1 .7v-2.9l.1 4.8l.1-2.2v-3.4l.1 4.2l.1-.1v-2.3l.1 3.5l.1-3.1v1l.1 0l.1-.1l.1 1.6v-3.2l.1-2.8l.1 3.2v.1l.1 2.9l.1-1.2v-1.9l.1-.9l.1 2.7l.1-4.5v6.7l.1-2.5l.1-2v.4l.1 1.1l.1 2.7v1.1l.1-4.3l.1 .4v3.9l.1-.3l.1-1.9l.1 .9v-2l.1-.6l.1 .8v2.5l.1-3.6l.1-1.2v1.7l.1-3.9l.1 4v-1.2l.1-1.4l.1 7.8l.1-3.5v3.5l.1-4.2l.1 4.1v-5.8l.1-.3l.1-2.7v4.5l.1-3.7l.1 2.6l.1-.7v-.7l.1 4l.1-5.1v-.6l.1 8l.1-8v1.5l.1 .4l.1 1.7v-2.7l.1 .5l.1 1.8l.1-3v2.2l.1-2.8l.1 1.4v-2.4l.1 2.6l.1-.9v-1.3l.1 4.1l.1-4.2l.1 3.5v-3.3l.1 1.4l.1 .8v2.9l.1 2l.1-3.6v-1.1l.1-.8l.1 4.8v-3.7l.1 0l.1-3.4l.1 .9v-.2l.1-.1l.1 2.8v3.2l.1-2.5l.1-1.6v-1.7l.1-2.4l.1 4.9v-1l.1 1.8l.1-2.8l.1 1.8v.7l.1 0l.1 3.7v-7.6l.1 3.4l.1 .3v-2l.1-1.7l.1 2.7l.1-2.1v1.8l.1 0l.1-1.1v4.2l.1-2.5l.1 .8v-1.3l.1 3.3l.1-4.9v.8l.1 .8l.1-4.3l.1 4.6v-.2l.1 2.9l.1-1.6v0l.1-4.5l.1 2.3v-1.5l.1 2.6l.1 1.1v-2.5l.1 .8l.1-2.1l.1 2.4v2.7l.1 2.3l.1-3.7v-5.2l.1 .2l.1 5.4v-1.9l.1-3.3l.1-2.8l.1 1.9v6.4l.1 1l.1-2.5v2.5l.1-4.7l.1 3.5v-4l.1 1.2l.1 2v-6.3l.1 6.6l.1-1.3l.1-2.4v5.1l.1-5.4l.1 3.3v.5l.1 1.1l.1-4.1v-1.6l.1 .6l.1 3.5v.3l.1-.1l.1 4.3l.1-3.6v-.5l.1 .6l.1 .2v3.7l.1-3.7l.1-3v-.4l.1 1.4l.1-1.6l.1 3.3v0l.1 1.5l.1-1.9v1.1l.1-5.2l.1 6.6v-1.7l.1 2.6l.1 .4v-4.5l.1-2.7l.1 .9l.1 5.2v-3.7l.1 1.7l.1-.7v.1l.1-2.7l.1 2.7v-1.8l.1 2l.1-.8v1.9l.1 2.6l.1-.1l.1-2.6v-4.3l.1-.4l.1 1.1v.6l.1 4.9l.1-6.3v3.1l.1 .8l.1-1.8l.1 2.4v.8l.1-3.2l.1 2.7v-2.9l.1 2.9l.1-.6v-.1l.1-2.5l.1 .9v.9l.1 .4l.1 .5l.1-4.6v4.6l.1 1.3l.1-.6v.4l.1-.6l.1 0v-.3l.1 0l.1-1.6v3.6l.1-3.1l.1 .7l.1-1.6v1.9l.1-1.7l.1-.2v2.5l.1-.6l.1-1.1v-1.4l.1 1.4l.1 .1l.1 .7v-2.9l.1-.6l.1-.9v5l.1 .9l.1-1.8v2l.1-1.4l.1 0v-2.6l.1 2.4l.1-2.2l.1 2v.7l.1 1l.1-1.2v.1l.1-3.1l.1 4v-2.2l.1 3l.1-2v-1.5l.1 1.8l.1-2.3l.1-1.1v-1.6l.1 5.6l.1-.5v2.8l.1-7.6l.1 .3v2.3l.1 3.3l.1-1.1l.1 .7v.5l.1-1.7l.1 2.3v-2.2l.1-.2l.1-.1v-1l.1 .1l.1 1.5v-1.3l.1 1.9l.1-2.1l.1 3.5v-2.3l.1 3.7l.1-4v.1l.1 2.1l.1-5.3v2.8l.1 1l.1-.2v-1.5l.1 0l.1-1.4l.1 4.2v-.4l.1-3.5l.1 2.2v.2l.1 1.5l.1 1v-6.9l.1 9.1l.1-3l.1 1.1v-5.4l.1 4.1l.1 .4v-1.6l.1 1.7l.1-2.2v.7l.1 1.2l.1-.4v2.6l.1-3l.1-1.3l.1 .3v-1.2l.1 1.2l.1-1.7v.8l.1 .3l.1 3.4v-1.8l.1 3.8l.1-4.5v.4l.1 0l.1 3.7l.1-6.1v-1l.1 .7l.1 4.2v1.3l.1-3.3l.1 2.5v1.3l.1-.4l.1-1.6l.1-.5v2.6l.1-.6l.1-3.6v.9l.1-.3l.1-.9v-.1l.1 2.5l.1 2v2l.1-7.2l.1-1.7l.1 3.1v1.8l.1 3.3l.1-1.3v.1l.1-6.9l.1 5v1.1l.1-2.1l.1-2.5v1.8l.1 1.4l.1 2.5l.1-3.5v.7l.1 .5l.1-3.4v4.8l.1-2.9l.1-.8v.2l.1 5.8l.1-3.9l.1-1.2v-.6l.1 1.6l.1-4.1v3.9l.1 1.6l.1-1.6v3.3l.1-8.8l.1 6.4v.3l.1-.1l.1-.4l.1-1.6v-1.3l.1 2.2l.1-6v9.6l.1-3.2l.1-.3v3.1l.1-2.9l.1 .2v0l.1-4.3l.1 4.1l.1-4.8v2l.1 1.4l.1-.1v-.7l.1 1.3l.1-2.9v1.2l.1 2.2l.1-3.3l.1 1.9v-2.9l.1 3.8l.1-3.7v1.9l.1-3l.1-.2v-.8l.1 2.5l.1 .2v-4.3l.1 8.4l.1-4.4l.1-1.3v-1.2l.1 3.6l.1 2.4v-.8l.1-.5l.1-2.7v2.7l.1 .9l.1-5v.7l.1 1.3l.1 6.6l.1-2.3v-4.4l.1 1.2l.1-3.9v1.4l.1 5.3l.1-2.5v-1.6l.1-2.5l.1 1.5l.1 4.8v0l.1-4.5l.1 .5v-5l.1 .9l.1 3.1v-1l.1-2.6l.1 5.1v.3l.1 .3l.1-3.8l.1 3.4v.4l.1 2.3l.1-6.3v4l.1-2l.1 2.5v-1l.1-1.4l.1-1l.1 5.2v.2l.1-2.5l.1-1.4v3l.1 .9l.1 .2v-3.9l.1 1.5l.1 4.3v-5.4l.1-.9l.1-5.3l.1 4.4v5.4l.1-2l.1 1.9v-1.4l.1-7.7l.1 12.5v-4.2l.1-4.7l.1 5.3v-9.7l.1 4.8l.1 1.7l.1 3.3v-3.3l.1 3l.1-4.6v-3.6l.1 8.4l.1 2.5v-4.2l.1 .3l.1-2.7l.1 4.7v-4.5l.1 1.9l.1 .6v1.1l.1-2.3l.1 .2v-.8l.1-1.2l.1 7.8v1.9l.1-6.5l.1-7.5l.1 5.8v.2l.1 2.9l.1 1.8v.8l.1-1.9l.1-6.6v7.3l.1-6.4l.1-3v.7l.1 4.2l.1 6.3l.1-1.8v-1.8l.1 2.1l.1-7.6v-1.7l.1 5.1l.1 4.5v1.8l.1-7.6l.1-3.8l.1 1.3v6.7l.1 .9l.1 4.2v-2.2l.1-8.1l.1 8.1v-5.5l.1 1.9l.1-4.8v5.2l.1-5.6l.1 5.5l.1-2.1v-2.9l.1 5.6l.1-.3v-4l.1 2.4l.1 2.5v-.9l.1-.2l.1-3.1v6.9l.1-4.3l.1 .1l.1-5.1v6.5l.1-4.6l.1 4.5v-.8l.1-6.4l.1 7.2v1.7l.1-4.7l.1 8.5l.1-5.7v2l.1 .6l.1-6.9v-.5l.1 3.5l.1-6.2v5.5l.1 2.4l.1-1.1v.1l.1-.3l.1-5l.1 1.5v.7l.1 2.8l.1-2.3v-1.7l.1 5.9l.1-2.3v-1.3l.1-2.8l.1 1.2v-1.3l.1 2.9l.1 4.5l.1-5.6v-.7l.1 .5l.1 3.3v1.9l.1-3.1l.1-2.8v-1.4l.1 5.2l.1 3.4l.1-4.6v.7l.1 1.9l.1-4.4v2.1l.1 1.1l.1-3.1v4.9l.1-5.9l.1 3.7v-.9l.1 1l.1 2.6l.1-.6v2.1l.1-3.4l.1-.8v-2.5l.1-1.4l.1 .9v2.6l.1 2.2l.1-4.4v4.4l.1-1.2l.1-.8l.1-.9v1.7l.1 .9l.1 .6v.3l.1-7.9l.1 5.4v1.5l.1 2.6l.1-4.9l.1-4.9v5l.1 .5l.1-1.1v3l.1-.1l.1-3.7v-.6l.1 .9l.1 .1v-2.7l.1 5.3l.1-4.3l.1 2.4v-1.9l.1 .5l.1 3.8v-4.9l.1 3.6l.1-2.8v2.9l.1-.1l.1 .1v4.5l.1-1.1l.1 1.1l.1-4.5v2l.1-3.9l.1 2.9v.1l.1 .2l.1-1.8v-1.4l.1 2.6l.1-2.7l.1-1.9v4.4l.1 .9l.1 0v1.7l.1-3.2l.1-2.1v2.3l.1 1.4l.1-1.2v1.6l.1-3.4l.1 4.5l.1 1.7v-4.4l.1 1.8l.1-3.4v2.7l.1-2.6l.1-.9v5.2l.1-2.6l.1 1.1v-3.1l.1 1l.1 .9l.1-1.1v2.9l.1-.8l.1 4v-5.2l.1-1.3l.1-1.1v5.6l.1-1.8l.1-2.8l.1 3.8v-3.5l.1 .6l.1-3.1v5.9l.1-3.1l.1-1.5v3.2l.1-1.9l.1-1.5v-2.8l.1 7.3l.1-1.8l.1 5.1v-4.2l.1-.9l.1-1.2v5.3l.1-5l.1 3.5v-4.2l.1 3.7l.1-4.9v4.3l.1-4.7l.1 .4l.1 4.3v-1.5l.1-1l.1-1.9v3.1l.1 3l.1-3.3v-3.9l.1 3l.1-5.3l.1 6.3v1.9l.1-6.1l.1-.3v5.3l.1 2.8l.1-.5v-2.4l.1-.8l.1-3.5v5.9l.1-2.6l.1-1.4l.1 1.4v1.2l.1 .2l.1-1.7v-2.3l.1-1l.1 .8v4.1l.1-1.9l.1-3.5v4.9l.1 2.6l.1-6.2l.1 7.4v-3.8l.1-3.2l.1-.2v.5l.1-5.1l.1 5.8v.3l.1 1.6l.1-3.7l.1-.7v1l.1 4.3l.1-3.3v2.4l.1-4.3l.1-2v1.8l.1 4.8l.1-3.1v-1.8l.1 5.1l.1-3.4l.1 2.3v-1.2l.1-1.6l.1 4.1v-1.3l.1 2.9l.1-4.7v-2l.1 3.3l.1 4v-5.2l.1-3.6l.1 4.5l.1-4.2v3.5l.1 2.3l.1-2.2v-2l.1 1.2l.1-3.4v6.3l.1-3.1l.1-1.4l.1 .2v3.6l.1-.5l.1 .5v.1l.1-6l.1 7.8v-9.8l.1 4.1l.1 .9v3.9l.1-.5l.1 .1l.1-4.4v1.4l.1 2l.1-5.3v3.4l.1-.4l.1-4v2.3l.1 1.2l.1-2.6v3.2l.1-2.3l.1-2.4l.1-1.8v10.3l.1-4l.1-2.6v-1.8l.1 6.2l.1-.6v-3.2l.1 2l.1 1.6l.1 1.5v-2.9l.1-1.4l.1-2.5v-1.2l.1-1.8l.1 6.4v1.4l.1-3.9l.1 4.6v-4.6l.1-.1l.1 4.4l.1-.9v1.9l.1-1l.1-4.5v4.4l.1 .3l.1 1.7v-5.5l.1 2.9l.1 0l.1 4.7v-3.9l.1-1.2l.1-1.1v-3.2l.1 4.3l.1-1.4v6.1l.1-6.5l.1 3v2.5l.1-3.7l.1-3.3l.1-1.7v1.2l.1 5.3l.1-3.7v-.4l.1 1.3l.1 .4v-3.8l.1 4l.1-5.7v6.1l.1-1l.1 2.5l.1-2.1v4.4l.1-6.3l.1 1.4v-.5l.1 3.9l.1 2.1v1l.1-3.8l.1-5.3l.1 7.5v-2.2l.1-4.3l.1 6.9v-.1l.1-4.5l.1-3.4v3.3l.1-1.8l.1 1.8v-.9l.1 4l.1-5.5l.1 4.9v.3l.1 3.8l.1-1.6v.2l.1-2.1l.1-2.8v1.9l.1-3.6l.1 2.7v-3l.1 6.2l.1-4.9l.1 4.7v-4.4l.1 4.5l.1 1.7v-7.4l.1 2l.1-.4v5.1l.1-4.3l.1-.2l.1 2.8v.3l.1-6.1l.1 3.9v-.2l.1-4.3l.1 3.3v1.4l.1 1.9l.1 .3v-1.2l.1-2.9l.1 3.4l.1-1.3v3.7l.1-1.4l.1-5.6v2.1l.1 3.5l.1-2.2v-.7l.1-.5l.1 4.9v-4.1l.1 .4l.1-.4l.1-1.1v-1.4l.1 1.3l.1 3.1v-1.3l.1 3.9l.1-4.7v-1.4l.1 2.8l.1-3.1l.1 2v-.9l.1 1l.1 2.6v-6.1l.1 2.7l.1 5.2v-3.7l.1-2.4l.1 1.6v1.1l.1-.8l.1-1.1l.1 5.2v-.2l.1-2.6l.1-2.9v-2.5l.1 .2l.1 4.7v6l.1-6.3l.1-5.1v4.3l.1 2.9l.1-2.2l.1-2.3v-1.5l.1-.8l.1 8.9v-.7l.1-3.2l.1 .8v-5.8l.1 .2l.1 2.4l.1-1.3v5.6l.1-3l.1-4.2v9.4l.1 0l.1-6.2v3.2l.1 .3l.1-4.6v1.2l.1-1.6l.1-2.3l.1 2.1v6.5l.1-3.1l.1 5.3v.8l.1-7l.1 .1v1.1l.1-3.7l.1-1v2.5l.1 2.2l.1-.5l.1-3.7v5.7l.1 1.5l.1 .6v-4.8l.1 2.9l.1 2.1v-7.6l.1 9.1l.1-7.2l.1-1.6v5.3l.1 4.9l.1-2.2v-.5l.1-2.4l.1-1v-2.4l.1 3.3l.1-5.8v6.6l.1-5.4l.1 3.7l.1 1.9v-3.5l.1-5.6l.1 2.8v.7l.1 1.4l.1 2.4v1.6l.1-1.7l.1-3v1.1l.1-2.9l.1-.4l.1 4v7.8l.1-13.3l.1-1.5v12.5l.1-.6l.1 4.1v-10.2l.1 .4l.1-.3l.1-.9v4l.1 .1l.1-5.6v3.3l.1 2.4l.1-6.1v11.2l.1-8.6l.1 .6v-.3l.1 5.3l.1-9.9l.1 5.9v.9l.1-.6l.1 3.2v-7l.1-.4l.1-3.9v-.1l.1 4.4l.1 5.4v1.7l.1-8.9l.1 2.5l.1 1.8v-2.4l.1-1.3l.1-.8v.1l.1 4l.1 1.3v-1.8l.1 1.4l.1-5.2l.1 .9v2.7l.1-.1l.1-1.1v1.6l.1 8.7l.1-2.9v-6.9l.1 9.7l.1-9.1v-6.8l.1 2.9l.1 6.9l.1 0v3.3l.1-2.2l.1-5.2v.5l.1-.9l.1 2.9v-2.7l.1 3.3l.1 2.9v-.1l.1-4.4l.1 2.9l.1 3.9v-6.1l.1 5.9l.1-5.6v3.8l.1-4.5l.1 .3v-3.1l.1 4.7l.1 0l.1 .9v-5.6l.1 8.2l.1-8.1v2.8l.1 .4l.1 3.7v1l.1-2.7l.1 2.6v-8.6l.1 .8l.1 3.5l.1 .1v1.1l.1-.8l.1 1.6v-1.5l.1 2l.1-4.5v2.2l.1-3.6l.1 1.5v1.8l.1 5.2l.1-2.6l.1-4v-1.9l.1 2.1l.1 2.9v-2.9l.1-1.9l.1 2.5v-2.9l.1-1.6l.1 2l.1 1.7v-.7l.1 3.3l.1-1.3v-3.6l.1-1.2l.1 1.7v0l.1-1.1l.1-.2v-.4l.1 2.1l.1-.4l.1 .4v4.8l.1-5.1l.1 2.9v-2.8l.1-.3l.1 5.5v-9.4l.1 3l.1 5v-4.6l.1 5.4l.1-4.5l.1 .4v1.3l.1 2.2l.1-5.1v2.1l.1-4.9l.1 1.3v6.5l.1-2.7l.1 3.3l.1-5.7v.5l.1-.4l.1 1.1v1.2l.1-3l.1-2.2v2.8l.1-.1l.1-4.9v8.8l.1-4.2l.1 1l.1 .8v1.7l.1 1.4l.1-4.7v-1.8l.1 7.1l.1-5v-4.8l.1 5l.1 .7v-1.6l.1-.2l.1 1.4l.1-4.9v5l.1 .6l.1-2.5v-.7l.1 5.5l.1-1.7v-3.8l.1 3.4l.1-.5l.1-3.4v5.6l.1-2.4l.1-.5v2.1l.1-4l.1 .9v-2.8l.1 3.1l.1-.7v3.4l.1-1.8l.1-2.6l.1 3.6v2.1l.1-5.2l.1-.3v2.4l.1 2.9l.1-4.1v.9l.1 1.6l.1-.5l.1 .6v1.4l.1-3.5l.1-1.2v-4.3l.1 2.7l.1 3.8v-3.4l.1 3.3l.1 1.5v-2.6l.1 2.8l.1-6.6l.1 5v-.5l.1-3.2l.1 3.2v3.6l.1-1.5l.1 2.5v-1.5l.1-1.5l.1-1.1v-2.2l.1 2.4l.1 .4l.1 .9v-1.5l.1-1.1l.1 2.6v-4l.1-1.4l.1 2.6v2.6l.1 1.3l.1-3.5l.1 2.7v-4.5l.1-.1l.1 1.9v-.8l.1 1.7l.1-3.8v3.5l.1-3.2l.1 3.1v-.1l.1 1.4l.1-.2l.1 .6v2.9l.1-7.1l.1 5.6v-1l.1-2.9l.1-.6v0l.1-3.1l.1 6v-3l.1 5.5l.1-6.7l.1 5.2v1.3l.1-6.4l.1 4.3v-.3l.1 4.5l.1-4.2v-1.9l.1 6.4l.1-2.9l.1 2.6v-4.1l.1 3.6l.1-3.7v-.6l.1 4.6l.1-8.9v5.3l.1 2.6l.1 .7v-4.8l.1 3.2l.1-3.8l.1 6.4v-5.2l.1 .5l.1 1.6v1.7l.1 .1l.1-2.4v.2l.1 1.5l.1-2.1v1.7l.1-3.3l.1 6l.1-1.1v.4l.1-2.2l.1-.1v.4l.1-1.1l.1-.6v1.1l.1-.2l.1 1.9l.1-.8v-3.5l.1 4.8l.1-.4v-.3l.1 1l.1-2.8v4.1l.1-1l.1-2.4v-1.1l.1 1.4l.1 3.2l.1-.8v2.5l.1-2.2l.1-1.6v3.2l.1-4.3l.1-.9v-2.8l.1 5.3l.1 .6v-3.8l.1-.6l.1 5l.1-2v.6l.1-.9l.1-2.5v.3l.1 2.1l.1 4v-5l.1-1.1l.1 1.1l.1 3.8v-.4l.1-1.5l.1-3v3.6l.1 .5l.1-4.3v.7l.1-.5l.1 2.6v-2l.1-1l.1 1.7l.1-4.2v3.3l.1-1.1l.1 .1v-.5l.1 2.6l.1 1.4v-1.4l.1-3l.1 1.7v2.5l.1-2.2l.1 1.3l.1 0v-2.2l.1 2l.1 .8v2.6l.1-3.5l.1-1.3v-2.1l.1 4l.1-2.8l.1-.3v3.5l.1-4.8l.1-.7v1.3l.1 5.5l.1-3.2v-.1l.1 .5l.1 2.4v-1.2l.1 1.1l.1-.1l.1-4.7v4.6l.1-3.1l.1 4.7v-4.5l.1 5.4l.1-3.5v.3l.1 .6l.1-2.5v3.3l.1-4.1l.1 .1l.1-2.9v.6l.1 7l.1-5.2v.4l.1 4.2l.1-4.3v-2l.1 2.5l.1-.4l.1 6.4v-3l.1-3.9l.1-.4v-1l.1 1.2l.1 .4v5.6l.1-1.9l.1-5.6v3.2l.1 .1l.1-.1l.1 .7v.9l.1-6.6l.1 3.9v-.5l.1-1.7l.1-1.3v6.4l.1 .2l.1-5.7v2.2l.1-5.4l.1 3.2l.1 2.7v-1.2l.1-3.3l.1 3.1v1l.1-4.5l.1 1v1l.1 .6l.1 1.3l.1-.8v-3.6l.1 5.9l.1 1.7v-4.2l.1-.4l.1-1.4v5.2l.1-4.4l.1-2.7v-.6l.1 2l.1 1.8l.1-.7v-.9l.1 3.4l.1-1.6v4.5l.1-3.4l.1 4.2v-3.7l.1 .8l.1-.7v1.3l.1-4.7l.1 7l.1-8.5v7.7l.1-5.4l.1 5.4v-5.5l.1-.3l.1-.9v6.4l.1-4.3l.1-3.2l.1 2.3v4l.1-5.1l.1 5.1v-2.9l.1 1.4l.1-3.4v1.8l.1-.4l.1-2v3.2l.1-1.6l.1 2.8l.1 1.9v-8.3l.1 2.6l.1 5.4v-.2l.1-.4l.1-2.4v3.2l.1 .4l.1-4.5v5.5l.1-5.2l.1-1.6l.1-.7v9l.1-7.4l.1 1.6v-1.3l.1 2.9l.1-.6v-1.6l.1 1.9l.1 2.5l.1-3.5v-3.4l.1 1.5l.1-.2v1.8l.1 1.7l.1-4.2v4.1l.1 .2l.1-1.6v3.9l.1-3.9l.1-.4l.1 3.4v-4.9l.1 0l.1 3.7v-2.2l.1 2.3l.1-3.8v-1.2l.1-1.6l.1 1.3v-3l.1 5.1l.1-3.4l.1-2.4v5.4l.1-2.3l.1 1.4v3.3l.1-.3l.1-.8v1.9l.1-4.4l.1 0l.1 5v1.9l.1-8.6l.1 4.3v-.7l.1 .5l.1-1.1v-.3l.1 3.4l.1 0v-1.1l.1-6.6l.1 6.8l.1 2.2v-4.1l.1 4.1l.1-1.4v-3.9l.1 .5l.1-2.9v7.4l.1-3.4l.1 3v.2l.1-3.4l.1-3.5l.1 2.1v3l.1-3.6l.1 1v-2.1l.1 2.6l.1 1.8v-2.5l.1 2.4l.1 .2l.1-1v.6l.1-2l.1-.4v-3.4l.1 3.7l.1 .6v2.2l.1-4.8l.1-2.9v8l.1-2.7l.1 .3l.1-1.8v1.6l.1 6.1l.1-5.8v0l.1-2.5l.1 4.5v-1.4l.1 .3l.1-2.4l.1 5.6v-1.8l.1 2.8l.1-5.3v0l.1 4.7l.1-2.5v5.5l.1-8.1l.1 2.2v-1.4l.1-1.1l.1 .5l.1 1.9v.2l.1 1.8l.1-.9v-1.5l.1-5.4l.1 6.8v.2l.1-3.5l.1 2.6v1.5l.1-2.3l.1 .3l.1-2v-1.4l.1 2.3l.1 4.2v-2.1l.1 .3l.1-1.4v-2.8l.1 .4l.1 1.6l.1 3.4v-1.6l.1 .8l.1 .1v-6.3l.1 6.3l.1-4.4v5.7l.1-6.6l.1 3.8v-3.9l.1 7.4l.1-4.5l.1 2.9v-.5l.1-5.9l.1 2.9v-3.1l.1 2.8l.1 6.9v-5.6l.1 1.6l.1-.8v3.5l.1-6l.1 4.4l.1 2.9v-2.7l.1-2.2l.1-4.6v-2.3l.1 5.1l.1 .5v-.3l.1-.4l.1 6.9l.1-7.6v-2.3l.1 1.2l.1 .8v-2l.1 6l.1 2.4v-3.9l.1 2.4l.1-1.9v4.6l.1 3.5l.1-12.1l.1 2.6v3l.1-3.6l.1-.3v2.1l.1-4.7l.1-.4v6.7l.1 7.3l.1-13.4v5.4l.1 3.6l.1 1.2l.1-7.2v4.6l.1-.1l.1 .5v4.1l.1-8.6l.1 .5v3.3l.1 1.3l.1-1.9l.1-3.2v1.4l.1-2.1l.1 .7v-2.9l.1 6.7l.1 .3v-.5l.1 2.8l.1-3v-1.6l.1 3.2l.1-3.2l.1 5.3v-.4l.1 1.8l.1-8.5v4.6l.1-4.3l.1 7.6v-5.4l.1 .4l.1 8v-7.6l.1-2.5l.1 8.2l.1-5.8v-.2l.1 .5l.1 2.2v-8.4l.1 4.4l.1 2.1v-4.3l.1 2.3l.1 .2l.1-1.1v2.2l.1-4.6l.1 12.7v-8l.1 1.5l.1-6v12.8l.1-5l.1-.6v3.9l.1-7.1l.1 2l.1-3.4v-2.7l.1 2.5l.1 3v2l.1-.9l.1-1.2v2.5l.1 1.4l.1-9.7v4.4l.1 5.1l.1-4.4l.1 4v-6.7l.1 4.6l.1-.7v.8l.1-3.6l.1 8.2v-2.3l.1-1l.1-6.5l.1-2.6v4l.1 7l.1-9.1v5.9l.1-3.7l.1 .3v.4l.1 5l.1-2.5v-2.7l.1-1.9l.1 6.2l.1-4.4v6.3l.1-6.7l.1-2.5v3.4l.1 .2l.1-3.1v3l.1-.7l.1-3.5v4.1l.1 1l.1-2l.1 2.8v-.7l.1 .7l.1-6.5v5.8l.1-3.7l.1 2.1v1.4l.1-1.5l.1 .3l.1 1.2v1.5l.1 3.6l.1-7.2v-3.3l.1 6.6l.1-3.1v6.4l.1-5.2l.1-.5v3.6l.1-1.7l.1-1.5l.1 2.9v1.1l.1-10.8l.1 3.5v4.3l.1-2.1l.1 3.3v-5l.1-.2l.1 7.6v-4.4l.1-7.1l.1 11.7l.1-5.5v-.5l.1 2.3l.1-4.3v2.2l.1 2.4l.1-3v-3.4l.1 7.1l.1-3.4l.1 .5v-2.9l.1-4.3l.1 4.5v4.9l.1-5.1l.1 .9v2l.1 3.1l.1-3.3v-1.2l.1 1l.1-.9l.1-.4v1.3l.1 1.8l.1-3.5v.6l.1-.6l.1-1.6v.4l.1 1.5l.1-1.1v-.4l.1 3l.1 1.3l.1-1.4v-4l.1 1.1l.1 2.1v.8l.1-.2l.1-1.4v1l.1 1.5l.1-1.4l.1-3.6v.7l.1 2.8l.1-1.3v.3l.1 2.9l.1-1.4v-4.2l.1-.8l.1 5.7v0l.1-3.3l.1 1.4l.1-2.1v.7l.1 2l.1-1.8v-2.8l.1 5.3l.1-3.3v-.4l.1 4.7l.1-2.6v-.2l.1 5l.1 .1l.1-9.2v5.4l.1-3.7l.1 .4v-2.4l.1 2l.1-1.3v3.7l.1-.1l.1 3.4l.1-3v-.3l.1-.8l.1-2.7v1.9l.1-.8l.1 5.3v-1.3l.1-2l.1 3.2v-2.1l.1-.3l.1 .5l.1 1.8v4.8l.1-4.8l.1 1.2v-1.5l.1-.1l.1 2v-2.4l.1-5.7l.1 2.3v6.8l.1 0l.1-2.5l.1 .3v-2.4l.1-1l.1-3.1v2.2l.1 1.7l.1 1.8v-3l.1 1.3l.1 1.2l.1 1v1.9l.1-.1l.1-2.2v4.1l.1-1.4l.1-1.5v4l.1-4.2l.1-.3v-2l.1 3.1l.1 .8l.1-1.6v-3.1l.1 1.7l.1 1.8v1l.1-2.3l.1-5.2v8.8l.1-3l.1 3.7v-3.2l.1-3.5l.1 3l.1 4.4v-2.5l.1 .8l.1-1.9v-1.3l.1-2.6l.1 4v-3.3l.1 1.4l.1 1.3l.1 2v-.2l.1-2.8l.1-1.8v6.5l.1-3l.1 3.3v-8l.1 6l.1-5.1v6l.1 .5l.1-.9l.1-1.7v3.3l.1-2.7l.1-1.6v-1.2l.1 2.5l.1-2.4v3.9l.1-5.2l.1 1.8l.1 .1v4.4l.1-1.4l.1-2.9v1.2l.1 1.3l.1-3v1.4l.1 3.8l.1-5.2v1.3l.1 .2l.1 4.6l.1-6.7v5.8l.1-2.7l.1 .1v-.5l.1-4.1l.1 2.1v.6l.1 2.2l.1-1.7v-1.1l.1-1.2l.1 2.8l.1 1.6v-1l.1 1.3l.1-1.9v-3.4l.1 1.9l.1 3.8v.6l.1-2.2l.1-.2l.1 1.4v-2.7l.1 .3l.1-.2v-2.4l.1 3.1l.1-1.9v-.1l.1 1.1l.1 1.3v1.4l.1 0l.1-2.3l.1-.9v2.2l.1-.9l.1-2.8v.7l.1 2l.1 1.7v-2.5l.1 2.1l.1-1.6v.6l.1 1.2l.1-2l.1 .2v-.5l.1 1l.1 2.2v.4l.1-2.7l.1-.9v.7l.1 1.5l.1-3.5l.1 2.3v-2.5l.1 1.8l.1-.6v-1.7l.1 5l.1-2.8v-2.1l.1 2.1l.1 .4v1l.1-.4l.1 18.5l.1-18.6v-2.7l.1 .5l.1 1.7v-2l.1 2.6l.1-3v-.9l.1 3.2l.1 2.4v-1.2l.1-3.5l.1 2l.1-1.2v2l.1 1.5l.1-.3v-3.2l.1-.2l.1-.6v3.4l.1-5.2l.1 2.8l.1-1.4v.1l.1-1.7l.1 .8v2.9l.1-2.6l.1 2.5v-2l.1 3.7l.1-3.5v1.1l.1-1.4l.1 1l.1 2.9v-1.2l.1-1.8l.1-1.4v.2l.1 3.4l.1-4.4v6.2l.1-1.8l.1 1.8v-2.1l.1-.8l.1 .3l.1-2.6v-.4l.1 1.3l.1 2v-2.9l.1 6.2l.1-4.7v-3.3l.1 4.1l.1-1.3l.1-.3v1.7l.1-2.8l.1 4.4v-1.7l.1 2.2l.1-1.5v-2.8l.1 2.2l.1 2.5v-.9l.1-4.3l.1 2.1l.1-1.6v3.7l.1-1.9l.1 2.2v.6l.1-1.7l.1-2.1v1.7l.1 0l.1-2.9v1.9l.1-.1l.1-1.1l.1 2.1v-1.4l.1-1.1l.1 0v1.8l.1-.5l.1-1v2.7l.1-1.9l.1-.2l.1 2v-13.3l.1 13.3l.1-2.5v-1.1l.1 3.6l.1-.9v.3l.1-.9l.1-.4v0l.1 .7l.1-4.3l.1 1.4v-.1" fill="none" stroke="#00c000" stroke-width="1" stroke-linejoin="round" marker-start="url(#m1)" marker-mid="url(#m1)" marker-end="url(#m1)"/>
<rect x="64.60" y="223.00" width="808.40" height="159.00" fill="none" stroke="#000" stroke-width="2"/>
<text x="55" y="387.3" text-anchor="end">−30</text>
<text x="55" y="360.8" text-anchor="end">−20</text>
<text x="55" y="334.3" text-anchor="end">−10</text>
<text x="55" y="307.8" text-anchor="end">0</text>
<text x="55" y="281.3" text-anchor="end">10</text>
<text x="55" y="254.8" text-anchor="end">20</text>
<text x="55" y="228.3" text-anchor="end">30</text>
<text transform="translate(19,302.5) rotate(-90)" text-anchor="middle">East [mm]</text>
<text x="145" y="243.8" word-spacing=".6" style="fill:#00c000">std ± 1.26 mm</text>
<text x="802" y="243.5" text-anchor="end">East</text>
<path d="M810.8,238.3H855.4M810.8,234.3v8M855.4,234.3v8" stroke="#00c000" stroke-width="1" fill="none"/>
<circle cx="833" cy="238.3" r="2.9" fill="#00c000"/>
</g>
<g>
<path d="M73.0,489.5H873.0" stroke="#000" stroke-opacity=".7" stroke-width="1" stroke-dasharray="1 2.78" stroke-dashoffset="-2.5" fill="none"/>
<path d="M65.0,547.62h8M873.0,547.62h-8M65.0,528.25h8M873.0,528.25h-8M65.0,508.88h8M873.0,508.88h-8M65.0,489.50h8M873.0,489.50h-8M65.0,470.12h8M873.0,470.12h-8M65.0,450.75h8M873.0,450.75h-8M65.0,431.38h8M873.0,431.38h-8M89.5,567.0v-8M89.5,412.0v8M216.3,567.0v-8M216.3,412.0v8M343.2,567.0v-8M343.2,412.0v8M470.0,567.0v-8M470.0,412.0v8M596.8,567.0v-8M596.8,412.0v8M723.7,567.0v-8M723.7,412.0v8M850.5,567.0v-8M850.5,412.0v8" stroke="#000" stroke-width="1" fill="none"/>
<path d="M253,488.1l.1-3.5v3.6l.1-1.2l.1-2.3v1.5l.1-4.1l.1 3.3v6.1l.1-2.1l.1-1.3l.1-1.9v-.3l.1 2.2l.1-3.7v-2.5l.1 0l.1-1.5v3.1l.1-8.7l.1 11v-12.7l.1 10l.1-12.5l.1 5.6v1.7l.1-4.2l.1 3.1v.8l.1 2l.1 6.4v-3.6l.1 2.8l.1-4.7l.1-1.7v1.7l.1 20.8l.1-10.5v-1l.1-.8l.1 1v.8l.1-14.9l.1-.8v4.9l.1 3.2l.1 2.9l.1-1.9v.4l.1-10.8l.1 12v-9.1l.1 23.2l.1-15.1v-3.5l.1 2.1l.1-3.1v15.9l.1 1.2l.1-11.1l.1 9.4v-6.7l.1 6.6l.1-15.2v7l.1-6.7l.1-1.1v13l.1-8.7l.1 1.9l.1-7.9v1.9l.1 15.2l.1-9.7v1l.1 2.7l.1-7.9v-3.8l.1 8l.1 7.8v-23.8l.1 8.3l.1 8.8l.1 6v-10.3l.1 .8l.1 6.4v-3.1l.1-6.3l.1 12.3v1.8l.1-3.4l.1-10.4v-8.4l.1 2.6l.1 11.6l.1-8.4v10.1l.1 2.7l.1 8.3v-16l.1 1.8l.1-2v-7.6l.1 6.1l.1-3.2l.1-1.5v3.5l.1 9l.1 1.3v-5.1l.1-8.1l.1-2.7v-3.9l.1 5.5l.1 1.6v4.3l.1-5.5l.1 5.2l.1 1.4v3.2l.1-6.9l.1 .5v-6.5l.1 3l.1-11.2v-4.2l.1 .1l.1 5.1v-4l.1-.8l.1 .1l.1 14v.7l.1-2.3l.1-11.5v15.1l.1 4.8l.1 7.8v-1.2l.1 6.4l.1 0l.1 13.7v-19.5l.1 5.7l.1-14.1v5.7l.1-5.9l.1-2v5.2l.1 .4l.1-14.3v3.3l.1-.8l.1 6.9l.1-8v12.2l.1-13.5l.1 18.7v-11.9l.1 8.3l.1 11v-20.6l.1-12.9l.1 5.7v7.1l.1-12.7l.1 .1l.1 6.8v5.9l.1-7.8l.1 3v7.2l.1-9.5l.1 23.2v-7.1l.1 23l.1-3l.1-2.4v-3.4l.1 2.5l.1-13.1v21.5l.1 2l.1 1.1v-3.6l.1-9.6l.1 4.8v-9.4l.1 .8l.1-9.9l.1-5.6v11.6l.1-2.1l.1 9.2v-2.8l.1 17.7l.1 .1v-.1l.1-3.7l.1-2.2v-5.7l.1 3.8l.1 3.5l.1-.8v-2.1l.1-5l.1 8.4v-3.4l.1 3.1l.1-26.5v22.1l.1-7.6l.1 14.4l.1-18.9v-10.4l.1 17.8l.1-10.1v-8.9l.1 8.9l.1-17.5v1.6l.1 15.6l.1 10.5v.1l.1 4.6l.1 1.9l.1-8.1v-8.3l.1-11.4l.1 .5v6l.1-.3l.1-5.5v6.5l.1-7.1l.1-3.6l.1 2.5v3.5l.1-1.5l.1 7.7v-3.3l.1 3.3l.1 1v1.6l.1-3.3l.1-1.8v4.5l.1-17.2l.1 2.2l.1 5.3v-5.1l.1 6.1l.1-13.8v10.4l.1-11l.1 17.7v-19.3l.1 22.7l.1-12.1v15.3l.1-16.3l.1-4.1l.1-2.2v10.7l.1-7l.1 4.8v6.4l.1-8.6l.1 15.5v-7.7l.1 3.4l.1-.4l.1-4.6v7l.1 4.3l.1-10.8v10.1l.1 5.6l.1 2.1v6.5l.1-1.9l.1-11.6v4.3l.1-12.5l.1-3.9l.1 10.2v-8l.1 6.5l.1-14.8v-4.6l.1-3.6l.1 8.1v1.4l.1 4.1l.1 4.4v5.7l.1-18l.1 24.1l.1-15.1v7.9l.1-7.7l.1-.9v7.7l.1 5.9l.1-4.7v6.3l.1 8.4l.1-2.2l.1 6.1v-.1l.1-15l.1 4.7v-2.4l.1-4.8l.1 17.7v-2.1l.1-18.2l.1-2.5v6.5l.1-3.1l.1 3.1l.1-9.9v8.1l.1 2.2l.1 1.8v-.1l.1 1.8l.1-.8v-16.4l.1-.1l.1 13.4v-4.7l.1-1l.1 5.8l.1-4.9v4.9l.1-11.7l.1-7.6v5.3l.1 10.5l.1-7.3v8.7l.1-3l.1 8.8l.1-2.3v-.4l.1 8.9l.1-4.4v2.9l.1 5.4l.1-5.5v-4.8l.1 13l.1 .1v-10.2l.1-6.4l.1 9.4l.1-10.9v-9.9l.1-2.5l.1 4.1v-2l.1 3.9l.1 8.2v-14.5l.1 24.9l.1-14v10.3l.1-5l.1 15.6l.1-5.1v-12.9l.1 16.8l.1-8.3v-.7l.1 3.8l.1 6.3v-10.5l.1 4.3l.1 6.2l.1 .4v-5.1l.1 5.2l.1-10.6v9.8l.1-11.7l.1-1.9v8.7l.1 3.8l.1 .1v-7.8l.1-3l.1 4.5l.1 3v-14.5l.1 2.5l.1 2.3v8l.1-10.9l.1-18.9v-8.9l.1 1.2l.1 5.6v4.1l.1-13.1l.1 2l.1-2.1v5l.1 5.1l.1 11.1v-11.4l.1 1.4l.1 4.9v-2.1l.1 8l.1-11.2l.1 3.1v-3.2l.1 .5l.1 5.6v-27.3l.1 8.7l.1 14v1.3l.1-.3l.1 2.7v-5.2l.1 14.1l.1-9.5l.1-8.1v-.5l.1 7.9l.1 1.4v1.6l.1 .7l.1-3v7.1l.1 19.6l.1-3.5v-3.7l.1 4.7l.1 4.6l.1-1v.8l.1-7.9l.1-9.4v8.1l.1 1.9l.1 3.3v-11.9l.1 3.5l.1 6.9l.1-3.4v5.5l.1-13.1l.1 8.3v-4.4l.1 4.2l.1-18.4v-4.1l.1 6.2l.1-17.3v23.2l.1-8.7l.1 3.6l.1 3.7v.3l.1 4l.1 .4v-6.1l.1 3l.1 3.3v-1.8l.1-2.9l.1 1v-6l.1 5.4l.1-3.6l.1 1.6v14.6l.1 1.1l.1-.5v1.2l.1-11.3l.1 5.7v-.8l.1 7.8l.1-1.7l.1 2.3v4.2l.1-12.6l.1-4.7v-2.2l.1-7.1l.1-7.8v-1l.1 11.2l.1-.9v2.9l.1 7.7l.1 6.9l.1 12.4v-4.8l.1 5.3l.1 .2v.2l.1-10.1l.1 2.1v8.7l.1-13.7l.1 8.9v3.1l.1 2.6l.1-6.9l.1-13.4v-1.7l.1 4.1l.1-5.8v4.2l.1-9.8l.1-1.4v20.5l.1-13.5l.1-5.6l.1 7.4v-6.9l.1-3.6l.1 6.5v7.1l.1 11.7l.1-13.4v1.7l.1-4.2l.1 6.7v-5.8l.1 1.2l.1-.4l.1-2.8v-5.4l.1 2.7l.1 6.6v1.5l.1 5.5l.1-16.1v5.5l.1-10.9l.1-2.9v-2.4l.1-.1l.1 7.4l.1 4.9v-7.2l.1-.4l.1-12.9v7l.1-6.8l.1 9.4v12.4l.1 18l.1-6.7l.1 1.1v-6.2l.1-.2l.1-23.3v22.2l.1 .9l.1 7.8v-16.7l.1 6.6l.1 4.5v-3.6l.1-1.4l.1 1.8l.1-10v4.3l.1 4.5l.1 14.8v.7l.1-23.1l.1 4.4v-12.6l.1 15.4l.1-1.9v-10.4l.1 7.1l.1 14.6l.1-.6v-8.3l.1 14.5l.1 7.7v-15.7l.1 7.9l.1-12.1v-8.5l.1 3.8l.1-34.3l.1 16.8v3.6l.1 .3l.1-6.5v15.6l.1-15.6l.1 17.5v-8l.1 .1l.1-9.5v17.1l.1-8.5l.1 15.6l.1-3.3v-13.8l.1-6.9l.1 0v15.2l.1-9.4l.1 9v11.6l.1-4.1l.1 4.2v-3.1l.1 11.2l.1-1.1l.1 1.8v-5.7l.1-3.9l.1 21.4v4.4l.1-11.8l.1-6.6v-14.8l.1 14.9l.1-8.5l.1 5.7v.7l.1 12.9l.1-11.1v-4.1l.1-10.6l.1 17v-19.9l.1-.4l.1-11v13l.1-3.5l.1-.6l.1 7.1v-19.2l.1 9.2l.1 7v-5.9l.1 19l.1-13.6v-1.8l.1-.1l.1 3.4l.1-13.3v9.7l.1-2.5l.1-6.4v3.7l.1-8.1l.1 2.4v-2.6l.1 8.3l.1 4.4v5.4l.1-7.9l.1 8.2l.1 10v7.3l.1 2.4l.1-3.8v6.2l.1-6.7l.1-5.9v-2.7l.1-1.6l.1 5v3.4l.1-8.7l.1-.8l.1-13.2v-.4l.1-5.6l.1-4.9v0l.1-.1l.1-.1v0l.1 2.7l.1-2.9l.1-.1v0l.1-.1l.1-.1v0l.1-.1l.1-.1v-.1l.1 0l.1-.1v-.1l.1-.1l.1 0l.1-.1v3.9l.1-4l.1 5.9v-6.1l.1-.1l.1 0v8.8l.1 1l.1-.8v19.9l.1 8.3l.1 .4l.1-20.3v1.4l.1 20.9l.1-14v3.5l.1-4.1l.1-2.3v.4l.1-9.1l.1 8.3l.1-18.5v1.3l.1 14.9l.1 5.4v-2.3l.1 3.8l.1-4.3v-4.9l.1 5.1l.1-7.6v2.3l.1 1.9l.1-4.9l.1-9.1v12.9l.1 4.3l.1-1.1v-4.3l.1-2.7l.1 9.3v-5.1l.1 11.5l.1-.4v-3.6l.1-3l.1 4.8l.1 1.8v6.1l.1-16.5l.1 8.6v.3l.1-8l.1-9.2v9.7l.1-6l.1 4.2l.1-2.9v-3.3l.1-5.6l.1 8.8v14.5l.1-16l.1 .1v-7.4l.1 0l.1 3v-4.5l.1 4.1l.1-.2l.1 8.7v1.2l.1-8.8l.1-1.2v6.1l.1-8.9l.1-.8v-7.2l.1 15.7l.1-12.3v1.3l.1-6.2l.1 10.8l.1 7.3v5.4l.1 13.9l.1-2.2v-14.1l.1-1.2l.1 3.8v1.7l.1 .3l.1-3.1l.1-.5v4.7l.1 3.6l.1 1.7v-4.8l.1 9l.1-15.5v10.6l.1-2.8l.1-3.2v-1.9l.1-2.9l.1-3.1l.1 13.5v-5.9l.1-2.1l.1-1.1v9.8l.1-22.3l.1 33.7v-6.6l.1 5.6l.1-13.4v3.7l.1-1.2l.1 8.4l.1 2.8v1.6l.1-5.6l.1 5.8v0l.1 .1l.1 .1v0l.1 .1l.1-6.7l.1-10.9v3l.1-13.9l.1 12.2v5.4l.1-7.3l.1-3.4v5.2l.1-9.6l.1 8.2v-7.9l.1 20.5l.1-1.5l.1-2v-6.1l.1-3.4l.1 15.1v2.1l.1-12.3l.1-4.2v4.7l.1-14.4l.1 8.2v.3l.1-3.8l.1-15.1l.1 13.8v1.2l.1-.1l.1 14.6v4.4l.1-22.6l.1 6v-4.5l.1 20.8l.1-9.9l.1-9.8v-7.2l.1 2.7l.1 2.3v-6.2l.1-5.7l.1 6.4v-9.4l.1 6.9l.1-9.1v6.9l.1 6l.1 5.5l.1 1.6v-5.5l.1-4.7l.1 2.4v2.8l.1 7.4l.1-8.4v6l.1 11.7l.1-9.2v-6.2l.1 6.4l.1-.3l.1-6.3v-1.2l.1 31.5l.1-9.9v-.6l.1-3.9l.1 5.6v1.3l.1-7.2l.1-3.2l.1 10.8v-17.4l.1 .5l.1 8.5v-3.9l.1 3.5l.1-2.7v9.8l.1-9.2l.1-6v1.5l.1 6l.1-12.9l.1 10.7v2.7l.1-7.9l.1 .8v1.5l.1-11l.1-9.3v23.3l.1-5.3l.1-6.5v9.4l.1-5.5l.1 1.3l.1 2.6v-7.9l.1 17.7l.1 2.8v-1.3l.1-3.6l.1-12.9v4.7l.1 12.4l.1-24.7l.1 1.2v18.7l.1 6.2l.1-13.8v4.4l.1 5.6l.1-4.8v2l.1 8.1l.1 2.9v-12.5l.1 10.2l.1 2.2l.1 8.9v.9l.1-.6l.1-5.3v5.8l.1 0l.1-.1v0l.1-57.3l.1 54.4v2.8l.1-12.3l.1 4.3l.1-5v-2l.1-16.5l.1 4.4v11.1l.1-23.3l.1-.3v-8.2l.1 .4l.1-.3l.1 0v13l.1-4.4l.1 17.3v-1.6l.1-1.7l.1-3.7v-8.1l.1 8.2l.1-5.2v-2.3l.1 2l.1 6.1l.1 2v-.3l.1 13.7l.1-8.1v-5.1l.1 6.4l.1 12.1v-4.4l.1 9.1l.1-9.7v-17.8l.1 8.3l.1-5.6l.1 15.1v-15.4l.1 1.4l.1 2.5v-7l.1 16.1l.1 2.8v-7.3l.1 6.2l.1-7.2l.1-5.9v-.4l.1-4.5l.1-9v.2l.1 8.1l.1 11.8v5.9l.1-2.2l.1-8.9v-.2l.1 1.8l.1-6.6l.1 8.2v-9.2l.1 11.3l.1-7.1v14l.1-13.2l.1 11.5v-1l.1-14.4l.1 5.3v-11.4l.1 .2l.1 12.5l.1-4.7v3.3l.1 4.4l.1-4.6v9.3l.1-13.6l.1 13.8v-6.5l.1-9.2l.1 2.7l.1 3.5v10.6l.1-3.9l.1-8.3v-4.5l.1-5.2l.1 16.1v-9l.1-6.2l.1 7.1v-4.8l.1-14.6l.1 5.8l.1 .1v-.6l.1-1.3l.1 5.7v2.8l.1-5l.1 9.7v-11.8l.1 8.8l.1-4.2l.1-.5v13l.1-.2l.1 6.1v9.4l.1 2.7l.1-5.7v-.1l.1 5.2l.1-2.5v-15.5l.1 6.9l.1-1.3l.1-1.3v8.2l.1 4.2l.1 .7v-.1l.1-.1l.1-2.8v-5.7l.1-12.7l.1-3.8v-1.1l.1 11.2l.1-10.1l.1-3.6v1.4l.1 11l.1 8.7v-11.5l.1 10.8l.1-.6v-.5l.1 1.7l.1-9.7l.1 6.1v6.8l.1-7.7l.1 2.2v-.2l.1-1.4l.1-2.8v-1.8l.1 8.9l.1-8.5v5.2l.1 4.8l.1-10.3l.1-10.4v1.4l.1-11.5l.1 5.7v-8l.1 19.6l.1 2v10.2l.1-12.1l.1-1.6v4.9l.1 4.6l.1-5.9l.1 5.6v-8.8l.1 4.5l.1-23.3v15l.1-11.1l.1-4.7v17.3l.1 4.6l.1-4.4l.1 1.6v4.4l.1-8.4l.1 2.6v5.9l.1-10.5l.1-2.4v2.8l.1 2.8l.1 14.5v-2.1l.1-5.4l.1-8.9l.1 3.9v10.5l.1 2.8l.1-9.9v14.3l.1 4.3l.1-2.9v3.1l.1 .1l.1-6.6v3.2l.1-9.2l.1 5.6l.1 6.4v-11.1l.1 6.7l.1 5.1v-16.6l.1-14.7l.1 18.1v9.8l.1-11l.1-9.3l.1 17.9v-1.5l.1-17.7l.1 3.9v14.4l.1-3.7l.1-6.4v3.5l.1 1.1l.1 1.2v6l.1-1.1l.1 2.6l.1-13v10l.1-12.6l.1-16.9v2.3l.1 16l.1-15.1v4.1l.1-1l.1-4.2v-3l.1 16l.1-6.8l.1 7.7v-7.6l.1-10.7l.1-7v.8l.1 1.4l.1 7.9v10.3l.1-6.6l.1 8.2l.1 3.9v-5.3l.1 2.1l.1 2.9v-5.6l.1-11.5l.1 3v4.1l.1 12.1l.1-25.4v22.8l.1 10.6l.1-.7l.1-3.9v-12.4l.1 21.9l.1-13.1v13.5l.1-15l.1 7.2v-2l.1 14.3l.1 3.1v-20.9l.1-14.2l.1 21.4l.1-10.5v21.5l.1-15.8l.1-15.7v3.2l.1-8.5l.1 4.9v-16.5l.1 15.8l.1 6.9l.1-3.6v.9l.1 .8l.1-2.3v7.6l.1-15l.1 4.6v-7.5l.1 4.6l.1 24.1v-7.1l.1-5.1l.1-.6l.1 6.8v-1.6l.1 1.3l.1-8.2v19.3l.1-14.7l.1-7.4v1.1l.1 13.9l.1-21.6v7.9l.1 13.3l.1-17l.1-3.6v-16.4l.1 18.2l.1-.2v-6.3l.1-15.5l.1 10.1v10.7l.1 2.6l.1-6l.1-1.5v19.5l.1-23.1l.1 30.3v-8.7l.1 8.1l.1-8.3v-11.1l.1-3.4l.1 33.6v-11.3l.1 12.7l.1-9.9l.1-6.6v4.8l.1-2.8l.1-2.6v-10.1l.1 7.6l.1-2.1v31.9l.1-14l.1 4.7v2.4l.1-8.4l.1 7.8l.1 .7v-10.6l.1 14.4l.1-23.8v-4.2l.1-13.9l.1 25.4v-16.3l.1-8.9l.1 4.2l.1-3v-5l.1 10.9l.1 .3v-5.3l.1 19.7l.1-17.9v2.9l.1 8.3l.1-10.6v11.4l.1-15.8l.1-3.4l.1 6.5v9.1l.1-14.1l.1-7.4v-11l.1 8.5l.1 15.7v-10.9l.1 21.4l.1-11.9v29.3l.1 6l.1-20.2l.1-12.8v.8l.1 8.7l.1-9.6v10.1l.1-5.3l.1-7.3v-21.8l.1 17.7l.1-12.7l.1 32v-5.8l.1-.1l.1-18.1v9.3l.1-18.3l.1 7.7v8l.1-2.5l.1 16.5v-10.9l.1 18l.1-2l.1-9.7v-18.8l.1-4.4l.1 15v12.8l.1-5.1l.1 4.5v-6.2l.1 3.5l.1 3.4v5.4l.1-9.8l.1-12.3l.1 .7v20.4l.1-3.9l.1 31.7v-9.9l.1-14.1l.1-15.8v12l.1-11.2l.1 15.6l.1 10.8v-4.8l.1-.1l.1 7.4v-10.8l.1-6.6l.1 5.6v-6.4l.1-2l.1 10.4v6.9l.1-28.7l.1 16.2l.1 .1v-18.9l.1 3.2l.1 14.6v6.2l.1-2.9l.1 0v-14.7l.1 22.3l.1-4v-.4l.1 .3l.1 2.3l.1-14.8v16.9l.1-8.5l.1-6.5v9.3l.1-9.5l.1 .9v-13.9l.1 7.1l.1 3.6l.1 .1v8.1l.1-10.4l.1 11.2v-3.3l.1-2.9l.1 4.4v-12.4l.1 5.6l.1 3.5v-7.9l.1-1.7l.1-4.2l.1 5.5v-.1l.1 12.6l.1-7.6v4.1l.1-2.1l.1-11.6v-1.1l.1-6.6l.1 10.2v-3.3l.1 1.5l.1-6.5l.1-3v-.2l.1 12.2l.1 5.8v.1l.1 8.5l.1-11.6v11.6l.1-8.1l.1-12l.1 4.2v-12.8l.1 4.3l.1-4.7v9.5l.1-8.9l.1 .4v8.7l.1 3.6l.1-6.1v10.9l.1 1.4l.1-4.2l.1-.3v5.1l.1 1.2l.1 1.6v-5.6l.1 11.2l.1-9.2v2l.1-5l.1-.7l.1-4.5v-4.8l.1 4.5l.1 10.9v-3l.1-1.8l.1-.9v-2l.1-9.1l.1 12.2v3.5l.1 2.9l.1-15.5l.1 14.2v-12l.1 .8l.1-18.3v9.5l.1 7.8l.1 3.6v8.2l.1 9.9l.1-10v5.2l.1 2.6l.1 9.3l.1-15.2v1.9l.1 13.1l.1-.1v-6.4l.1 3.5l.1-9v6.2l.1 5.3l.1-9.8l.1-9.1v-2.6l.1-.2l.1-1.4v-15.8l.1 6.3l.1 .3v.1l.1 8.5l.1 .6v-9.6l.1 2.1l.1 2.6l.1 5v-5l.1 7.8l.1 .5v1.8l.1-.7l.1-2.6v5.9l.1 1.9l.1 2v2.9l.1-14l.1 .7l.1-7.6v-2l.1 6.6l.1 7.8v2.3l.1 4.9l.1 8.4v-13.7l.1 17.3l.1-17.5l.1 3.9v3.1l.1-.3l.1-7.3v10.9l.1-7.3l.1-6.3v9.5l.1-11.7l.1 16.8v-4.4l.1-1.8l.1 7.5l.1 4.9v-.1l.1-2.7l.1-1.8v9.9l.1-6l.1-8.3v-3.3l.1 1.5l.1 1.3v12.5l.1 5.3l.1-2.8l.1 .3v-4l.1-7.5l.1-6.1v7.1l.1-7.1l.1 7.7v2.9l.1-12.6l.1 12.1l.1-15.6v5.3l.1-1.9l.1 .6v6.5l.1-13.4l.1-1.6v-9.7l.1 20.2l.1-21v10.1l.1 14.1l.1 5.3l.1-19.6v10.7l.1 6.4l.1 6.6v12.5l.1-14.1l.1-4.8v-2.6l.1-12.5l.1-5v4.9l.1 5.6l.1 0l.1 14.8v-19.4l.1-8.1l.1 1v5.7l.1-4.8l.1-4v-1.8l.1-3.5l.1 0l.1 0v1.6l.1 2l.1-2v14.4l.1 1.7l.1-9.3v-5.8l.1 20.6l.1 2.3v-6.9l.1 10.6l.1-1.4l.1-9.5v-8.2l.1-21l.1 25.4v-10.5l.1 6.4l.1-.7v-6.1l.1 5.1l.1-1.5v1.4l.1-5.5l.1 9l.1 .8v-1.1l.1 6.9l.1-4.4v7.6l.1-20.8l.1 14v-10.2l.1 10.1l.1 1.1l.1-5.6v10l.1-7.4l.1 10.6v-6.8l.1 4l.1 2.8v-9.6l.1-1.1l.1 3.6v-2.8l.1-2.4l.1 3.3l.1 13.6v-1.2l.1-18.9l.1 12v-7.1l.1-.7l.1 6v2.9l.1-3.4l.1 5.6v-7.8l.1 1.4l.1 5l.1-10.3v11.1l.1 .6l.1 .9v4l.1-.3l.1-9.1v6.9l.1-6.3l.1 2.6l.1 .3v-.1l.1-16.3l.1 18.3v.5l.1-3.3l.1 16v-.9l.1 3l.1 2.1v-6.1l.1 3.5l.1-5l.1 5.2v-3.1l.1 7.3l.1-12v1.8l.1 .4l.1-12v6.2l.1 .9l.1 1v-3.2l.1-2.6l.1 9.6l.1-.3v8.8l.1-6.2l.1 6v-4.9l.1-.2l.1 4.2v-6.3l.1-4.7l.1 11.2l.1-.1v-.1l.1-.1l.1-1.7v-13.3l.1-3l.1 1.8v1.2l.1 3.4l.1-9.7v-2.3l.1 2.9l.1-4.7l.1-3.3v10.2l.1 .8l.1 7.8v1.2l.1 .4l.1 6.5v-.7l.1-7.5l.1-4.7v-4.7l.1 1.6l.1 0l.1 6.8v-5.8l.1 9l.1-20.8v14.1l.1-10.3l.1-5.4v-5.8l.1-1.3l.1-.9l.1-1.4v16.4l.1-12.7l.1 17.6v-12.3l.1 7.3l.1-1.9v-.4l.1 5.3l.1-3.2v4.5l.1 4.7l.1-1.7l.1-5.7v.7l.1-.5l.1-.3v0l.1-7.3l.1-1.6v-4.8l.1-3.1l.1 .3v-2.9l.1 6.6l.1 1.4l.1 3v-3.7l.1-4.9l.1 11.4v2.1l.1 8.5l.1-.1v2l.1-1.8l.1-16.7l.1 8.2v3.1l.1-4.2l.1-5.3v-4.4l.1-3l.1 1.2v.3l.1 4.6l.1-5.8v15.7l.1-10.8l.1 4.5l.1 3.2v2.7l.1-13.1l.1 9v3.9l.1-9.3l.1-1.5v-10.9l.1 9.3l.1-9.5v9.2l.1-9.4l.1 9.7l.1-10v1.5l.1 1.7l.1-.6v2.8l.1 6.7l.1-4.4v5.2l.1 8.9l.1 11.9l.1-5.3v-8.3l.1 7l.1-4.7v7.3l.1-18.7l.1 17.1v-6.6l.1 1.7l.1-3.7v-11l.1 10.5l.1 4.1l.1 4.4v-4.3l.1-10l.1 1.4v.8l.1 5.5l.1-9.6v6.2l.1 4.6l.1 10.7v-1.5l.1-2.3l.1-5.5l.1 .5v4.7l.1-1.1l.1-4.3v7.3l.1 5.5l.1 .1v.1l.1 .1l.1-5.4l.1-4.7v2.5l.1-10.3l.1 3.3v-6.4l.1-14.2l.1-6.7v9.3l.1 6.8l.1 1.4v-6.9l.1 17.3l.1 1.4l.1-4.2v-.6l.1 5.9l.1-10.8v13.4l.1-5.5l.1 5.7v-13.3l.1 3l.1-.2l.1-6.9v-1l.1 5l.1 5.8v-15.6l.1 14.7l.1-18.7v6.4l.1 9.2l.1 22.8v-9l.1-7.6l.1 .4l.1 3.2v4.6l.1-7.4l.1-5.7v-.9l.1 0l.1-.4v-5.6l.1 12l.1 10.1v2.1l.1-15.3l.1 9l.1-2.8v6.2l.1-18.8l.1 1.3v-8.6l.1-10.7l.1 3.9v12.2l.1-5.9l.1 .9l.1 9.6v12.1l.1-14.9l.1-4v3.7l.1-4.5l.1-.6v5l.1 4.6l.1-8.2v-11.5l.1 7.3l.1-2.9l.1-5.3v19.8l.1-14l.1-4.3v18.7l.1 .1l.1-1v9.2l.1 14.4l.1-1.4v-14l.1-4.9l.1 7l.1-.1v-7.7l.1 2.7l.1-2.1v.9l.1 12.7l.1-9.4v4.3l.1-15l.1-3.9l.1 2.6v12.8l.1-1.2l.1 9v5.5l.1-5.6l.1 12.2v.1l.1-1.2l.1 1.5v.1l.1 .1l.1 .2l.1 .1v-13.5l.1 6.4l.1 2.4v-19.4l.1 3.6l.1 2.3v-4l.1-6.7l.1 3.7v-9.5l.1 10.9l.1 7.3l.1-3.2v3l.1 18.6l.1-18.3v9.4l.1-8.9l.1 6.7v7.5l.1-13.4l.1 14.7l.1 3.3v.1l.1-31.7l.1 16.5v-8.5l.1-11.5l.1 2.7v-10.4l.1 21.3l.1 8.5v-5.9l.1 5.1l.1-6.7l.1-7.1v-.6l.1-7.3l.1-2.4v-45.9l.1 63.8l.1-1.4v-4.4l.1 .7l.1-7.2v3.9l.1 2.5l.1 15.7l.1-30.3v15.8l.1 8.6l.1-.4v-3.6l.1-7.9l.1-2v-10.8l.1 10l.1-2.5l.1-11.2v2.8l.1 .7l.1 8.1v-1.7l.1 11.1l.1-3.9v10.9l.1-.9l.1 2.4v-14l.1-1l.1-16.5l.1-4.3v17.4l.1 10.6l.1-7.7v1.5l.1-7.9l.1 6.1v4.7l.1 7.3l.1 6.8v-14.4l.1 1.8l.1 9.9l.1-.7v-1.4l.1 9l.1-.7v6.1l.1 4.9l.1-17.3v5.7l.1 5l.1 5.8l.1-20.8v.9l.1 3.8l.1-4.5v7.2l.1 3.8l.1-18.7v-2.6l.1 11.7l.1-8.1v3.8l.1 8.7l.1-16.4l.1 8.5v3.3l.1 10.4l.1-2.1v-9.6l.1 4.5l.1 10.9v-11.7l.1 15.4l.1-7.8v1.8l.1 10.8l.1-.3l.1-5.9v5.4l.1-.3l.1-.3v-.3l.1-.3l.1-.3v-.3l.1-.2l.1-.3l.1-.3v-6l.1 5.4l.1-.3v-3.6l.1-5.4l.1 8.2v-.3l.1-9.2l.1 1.4v-1.1l.1-4.6l.1 1.7l.1-5.4v5.3l.1-5.7l.1 10.4v-8.9l.1-4.9l.1 12.9v-22.3l.1 2.7l.1-4.9v7.8l.1 1l.1-.7l.1-7v8.9l.1-7.8l.1-2.1v11.1l.1-6l.1 15.4v.4l.1-4.2l.1-10.1l.1 2.4v-1.1l.1-.4l.1-4.3v8.4l.1-2.9l.1-6.7v14l.1-8.9l.1 7.3v2.8l.1-4.1l.1 .9l.1 6.4v-7.4l.1 .6l.1 4.8v-.9l.1-2.8l.1-6.9v2.5l.1 2.8l.1 8.6v0l.1-6.9l.1-1.3l.1-1.9v-9.9l.1 10.6l.1-11.9v2.9l.1-7.4l.1 3.2v-5.7l.1-11.4l.1 0l.1 4.5v-.9l.1 6.5l.1 .7v-1.3l.1 4.2l.1 10.6v-20.3l.1 14.1l.1 9.8v-5.4l.1-12.3l.1-6.1l.1 3.1v-3.6l.1 15l.1-3.4v.4l.1 2.8l.1 12.6v-3.7l.1-1.1l.1-13.5v.9l.1 11l.1 10.4l.1-18.9v7.8l.1 9.7l.1-12.5v-.1l.1-7.2l.1 12.5v-16.1l.1-3.7l.1-.2l.1 .6v15.2l.1 13.8l.1-6.3v-13.4l.1 7.9l.1 10.7v-5.1l.1 6.7l.1 1.6v-2.5l.1-1.3l.1 4.3l.1-1v-18.1l.1 5.4l.1-2.2v13.1l.1 1.5l.1 2.3v-2.2l.1 2.5l.1 .2v.1l.1-3.9l.1 4.2l.1 0v.3l.1 .1l.1 .1v.2l.1 .1l.1 .1v.2l.1-7.3l.1-7.2l.1 5.1v-5.3l.1-2l.1-4.8v-14.4l.1 18.9l.1-2.2v12.1l.1-1.6l.1-5.1v-6.1l.1-21.7l.1 22.2l.1-13.9v9.5l.1 3.2l.1 7.9v5.9l.1 4.6l.1-7.2v12.4l.1-2.2l.1 2.4v.2l.1 .1l.1 .1l.1 .2v.1l.1 .1l.1 .1v-11.6l.1 7.5l.1 4.5v.2l.1-16.8l.1 6.4l.1-3.5v.6l.1-3.3l.1-8.7v10.7l.1-16.7l.1-1.4v4.8l.1 6.3l.1-1.4v8.3l.1-8.3l.1-10.1l.1 10.2v-1l.1-8.2l.1-5.1v-.1l.1 10.1l.1 8.8v-7l.1-6.8l.1 3.1l.1-1.1v-1.7l.1 13l.1-15.1v-4l.1 3.4l.1 20.5v1.4l.1-2.9l.1-1.4v-4.3l.1 7.8l.1 6.1l.1-16.1v-5.8l.1 4.8l.1-16.6v13.6l.1 1l.1-5.6v-3.6l.1 21.3l.1-6v3.6l.1 10.1l.1 12.5l.1-16.9v12.3l.1-21.4l.1 16.3v10.2l.1 0l.1 .1v-7.5l.1 .4l.1-12.7l.1 .6v3.2l.1-11.2l.1 2.8v11.4l.1 6.5l.1-9v-2.7l.1-4.3l.1-1v4.4l.1-15.5l.1-5.5l.1 7.7v15.3l.1 4.4l.1-5.1v5.2l.1-5.5l.1 10.2v3.7l.1-2.1l.1-1.2v-10.6l.1 1l.1 .7l.1-3.7v10.7l.1-.4l.1 4.1v-4.3l.1 10.7l.1 2.4v.1l.1-8.2l.1 1.3l.1-1.8v6.6l.1-7.2l.1 8.8v-2.4l.1-9.1l.1 7.8v-1.5l.1-12.8l.1 10.1v-3.5l.1 3.1l.1 3.5l.1-11.5v-1.4l.1-3.3l.1 2.5v-12.2l.1 2.8l.1-18.9v23.9l.1-14.9l.1 8.9v-.9l.1 2.5l.1 2.2l.1 7.3v-10l.1 2.9l.1-6.1v-.1l.1 1.9l.1 7v2.6l.1 5.2l.1-.8l.1-13.4v9.9l.1-1.6l.1 5.6v6.4l.1-20.3l.1 8.5v2.1l.1 10.8l.1-15.9v-2.5l.1-3l.1 6.4l.1-5.7v9.1l.1-9.8l.1 .3v8.1l.1-4.6l.1-2.9v-7.8l.1-6l.1 8.8v3.7l.1-11.8l.1-5.2l.1-1.6v6.1l.1-10.1l.1 12.6v2.3l.1-11.5l.1 .1v8.2l.1-10.4l.1 21.6l.1-1.3v-3.7l.1 4.2l.1 9.5v3.4l.1-9.8l.1 5.2v5l.1-1.1l.1 3.8v-7.1l.1-1.5l.1-2.3l.1 .6v3.2l.1-9.3l.1 9.4v5.6l.1-9l.1-8.4v5.2l.1-7l.1-2.6v-1.6l.1 1.5l.1-6.1l.1-2.3v4.7l.1-.3l.1 9v-7.3l.1-2.1l.1 6.1v2.4l.1-1.3l.1-1.3l.1 7.1v-8.4l.1 .1l.1 1.8v-9.2l.1 5.6l.1 4.9v-15.1l.1-.1l.1 4.1v8.7l.1-8.1l.1 8.6l.1 1.7v-1.2l.1 3.7l.1-6.1v-1.3l.1 9.2l.1 4.3v-4.5l.1-6.6l.1-7.5v4.9l.1 12.6l.1-19.5l.1 7.2v11.7l.1-11.2l.1 2.8v-7.7l.1 1l.1-5.4v2.3l.1-.8l.1 .3l.1 4.3v3.8l.1-7.3l.1 5.6v-4.6l.1 4l.1 12.1v-5.4l.1-6l.1 2.4v.1l.1 7.2l.1-8.5l.1-3.9v1.8l.1 6.5l.1-6.8v-5.6l.1 3l.1 .5v-.4l.1-2.3l.1 3v-5.5l.1 3.3l.1 1.6l.1 .6v2.9l.1 .1l.1 5.4v-.7l.1 2.3l.1-6.4v6.2l.1-7.2l.1 4.6l.1-5.2v3.7l.1-2.3l.1 2.8v-7.2l.1-5.3l.1-4.4v-1.5l.1-.7l.1-1.2v9.3l.1-4.5l.1 12.3l.1-5.8v10.2l.1-.6l.1-1v-13.2l.1 5.6l.1 7.5v-6.7l.1 10.6l.1-1.2v-6.4l.1 10.7l.1-2.7l.1-6.7v3.4l.1-32.7l.1 7.1v28.3l.1 5.9l.1-11.6v-2l.1-3.2l.1 6.7l.1-4.8v-2.4l.1 5.3l.1-5.4v-.3l.1-5.7l.1 8.9v2.6l.1-9.4l.1-1.9v6.6l.1-14.8l.1 3.9l.1 3.4v-1.5l.1-5.8l.1 0v13.8l.1-4.1l.1-.4v2.1l.1-.5l.1-2.5v2l.1-1.7l.1-5.7l.1 8.4v2.1l.1 6.5l.1-4.2v5.7l.1-3.5l.1-11.6v-.3l.1 15.8l.1-7.9l.1-6v18.6l.1-8.9l.1-2.4v5.1l.1-12.7l.1 5.2v-1.2l.1 22l.1-3.4v2.4l.1 6.1l.1-22.5l.1 6.9v2.1l.1-3l.1 2.5v2.8l.1 1.7l.1 .2v-7.9l.1-4.8l.1 .3v8.3l.1-7l.1 2.6l.1-1.5v3.7l.1-5.2l.1-1v-3.4l.1 10.9l.1-3.2v-.8l.1-1.6l.1 3.4l.1-11.5v16.7l.1-11.4l.1-11.9v1l.1 10.3l.1 2.3v-7.4l.1-8.2l.1 17.3v-13.7l.1 9.4l.1 12.7l.1-5.7v7.6l.1-27.1l.1 11.7v.1l.1 .4l.1 2.8v-2.8l.1 12.8l.1-6.2v-5.8l.1 14.4l.1-1.7l.1-1.1v-8.5l.1 13.1l.1-13.5v-8.4l.1 3.3l.1-19.8v19.8l.1 14.9l.1-6l.1 4.7v.4l.1 8.7l.1-23.5v8.3l.1 12.7l.1-10.2v-3.1l.1-10.9l.1-7.6v-2.4l.1 2.9l.1 13.8l.1-17.5v-.7l.1 15.3l.1 5.3v-.4l.1 7l.1 13v-.4l.1 7.7l.1-5.5l.1-2.2v.2l.1-4.2l.1 1.3v2.1l.1-16.2l.1 2.1v13.1l.1-8.7l.1 6.9v-15l.1-.8l.1 4.4l.1 2.4v-12.6l.1 .8l.1 1.7v3.5l.1-3.7l.1-1.9v1.8l.1-8.3l.1 1.3v6.1l.1 4.8l.1-2l.1 6.1v-13.4l.1 27.9l.1-25.7v-7.4l.1-7.2l.1 6v-2.4l.1-3.6l.1 20.3l.1-9.9v-4l.1-19.9l.1 21v-3.4l.1-2.4l.1 2.5v6.1l.1-2l.1 11.9v-3.1l.1 1.6l.1-3.8l.1 .4v-.2l.1 .4l.1 6v4.3l.1-9.3l.1-8.3v15.9l.1-19.1l.1-4.7v4.7l.1 12.7l.1-1.5l.1 11.4v-6.4l.1 3.9l.1 .5v1.3l.1 9.8l.1-14.5v13.2l.1-14.2l.1 2.4l.1 .7v-13l.1 13.9l.1-.8v-5.2l.1-2.3l.1-8.6v14.4l.1 2.2l.1-11.7v1.8l.1 12l.1 1.9l.1-12.5v-4.5l.1 10.3l.1-3.4v7.2l.1-9l.1-1.3v-10.7l.1 2.1l.1 5.9v-12l.1 6.4l.1 9.9l.1-3.4v7l.1-4.8l.1-.5v-25.8l.1 11.4l.1 2.6v25.9l.1-4.4l.1 2.4l.1-21.2v-4.9l.1 0l.1 11.6v-11.5l.1 .1l.1 16.1v4.1l.1 3.9l.1 1.1v-3.3l.1-8.6l.1-4.3l.1-5.1v5.6l.1-.7l.1-1v13.1l.1-6.3l.1 14.7v-18.1l.1 7.8l.1-6.5v10.9l.1-6.5l.1 6.8l.1-3.7v2.2l.1 18.5l.1-8.6v-5.7l.1-8.3l.1 4.4v-1.5l.1 3.3l.1 4l.1 3.4v-1.6l.1 10l.1-.7v2.6l.1 .9l.1-2.5v-15.6l.1-7.2l.1 .6v-1.8l.1-6.1l.1 7.4l.1-3.8v-8.4l.1 8.5l.1-4.3v-.4l.1 1.1l.1 7.5v-8.6l.1 6.6l.1-7.5v9.8l.1 1.6l.1-2.8l.1 4.1v1.2l.1 5.1l.1-7.9v11.8l.1-6.7l.1 2.8v-8.1l.1-8.9l.1 9l.1 1.7v-7.8l.1-5.3l.1 12.9v-1.4l.1 3.3l.1-2.2v6.7l.1 2.3l.1-8v2.9l.1-2.5l.1 5.4l.1-1.9v-.9l.1 1.3l.1-2.8v5.6l.1-4.6l.1-5.3v-2.4l.1 6.3l.1-6.3v-4.4l.1-3.4l.1 2.6l.1-.8v11.4l.1 .8l.1 6.9v7.8l.1-3.4l.1-10.2v-10.6l.1 7.5l.1 .6l.1-.6v9.5l.1 1.9l.1-5.4v-13l.1 5.7l.1 1.3v.2l.1-4.7l.1-1.7v-3l.1 7.5l.1 3.7l.1-5.8v-5.5l.1 8.1l.1-1.7v-1.7l.1 8.2l.1 1.8v3.6l.1 4.1l.1 .5v-2.4l.1-6.2l.1-4l.1-2.3v.1l.1 3.7l.1-7.1v7.8l.1-10.1l.1 4.3v1.2l.1-3.4l.1 5l.1-2.6v-2.7l.1 3.2l.1 2.5v8l.1-7.8l.1-1.9v5.4l.1-9.1l.1-3.7v6.8l.1-4.8l.1 .7l.1 .6v-1l.1-5.4l.1 1.9v11.6l.1-11.4l.1-2.5v7.5l.1-7.7l.1 6.4v-4.2l.1 10.1l.1-12.2l.1 1.3v6.1l.1 3.5l.1 1.3v-8.5l.1 3.1l.1 6.6v-1.2l.1 2.4l.1-2.8l.1-3v3.7l.1 1.5l.1 .6v-3.5l.1-3.8l.1 7.2v-7.9l.1-2.6l.1-1.3v6.7l.1 8.8l.1-1.8l.1 2.1v-11.8l.1 .9l.1-1.5v2.9l.1 .3l.1 2v5.3l.1-.3l.1-9.4v9.8l.1-1.1l.1-.2l.1-4.9v-2.2l.1-1.4l.1-10.3v11.6l.1-2.9l.1-9v3.8l.1 7.5l.1 .6l.1 1.6v-3.4l.1 7.6l.1-.6v-17.5l.1 .1l.1 7.4v-10.9l.1 11.2l.1 3.1v-12.9l.1 2.6l.1 2.3l.1 6.7v-3.3l.1-8.5l.1 5.3v-9.1l.1-12.6l.1 12.4v-.1l.1 0l.1 0v-.1l.1 0l.1-.1l.1 2v-2.1l.1 13l.1-13.1v3l.1 3.1l.1-4.5v1.6l.1-3.4l.1 0l.1 12.5v-1.7l.1-2.2l.1 32.7v-12.8l.1 8l.1 5v-26.7l.1 10l.1-1.7v1.2l.1 15l.1 2.8l.1-17.4v3.7l.1 20.5l.1-6.5v18.9l.1 .4l.1-1v-3.7l.1 5.9l.1 .5v.4l.1-16.8l.1 10.5l.1-6.5v-3l.1 17.9l.1-78.7v79.3l.1-.1l.1-.2v-.2l.1-3.7l.1-2.6l.1 2.7v-6.6l.1 9.4l.1-1.3v-18.1l.1 7l.1-8.7v-5.1l.1 14l.1-14.8v-2.6l.1 12.5l.1-26.6l.1 3.6v7.1l.1-3.9l.1-11.4v3l.1 11.9l.1-21.7v32.7l.1-14.7l.1-8.3l.1-.3v8.4l.1-4.5l.1-.1v7.3l.1-11l.1 1.7v7.3l.1-2.6l.1-23.6v29.7l.1-13.1l.1 23.5l.1-3.3v3.4l.1-2.5l.1 18.4v-7.6l.1 7.9l.1-.2v-12.1l.1-11.8l.1 5.4v3.2l.1 .9l.1-4l.1 4.7v-14.5l.1-6.8l.1-11.9v19.1l.1-5.5l.1 .2v4.1l.1 12.7l.1 4.9l.1 3.2v-5.5l.1-2.5l.1 .8v11.9l.1-.1l.1-7.1v0l.1 .1l.1 6.3v-.2l.1-8.3l.1 3.4l.1 2.5v-13.7l.1-.5l.1-2.4v-13.4l.1 17.2l.1 2.3v-12.1l.1-6l.1 5.6v3.3l.1 1l.1-3.1l.1 6.3v-8l.1 4.5l.1-2v1.4l.1-5.7l.1 5.6v-6.6l.1 2.3l.1-1.9l.1 2.1v-9.4l.1 6.2l.1-7.4v4.3l.1 2.9l.1 3v6.4l.1 2.2l.1 1.7v-5.4l.1-1.7l.1-1.7l.1 2.4v-17l.1 7.9l.1-3.8v14.5l.1-9.9l.1 6.2v-8.7l.1 9.6l.1-4.8v9.9l.1-9.7l.1 11.5l.1 10.3v-7.8l.1 .7l.1 4.2v-12.9l.1 6l.1 4.4v3.5l.1 1.1l.1-2.9l.1-2.1v-5.6l.1 1.7l.1-1.3v5.5l.1-8.4l.1-5.3v7.1l.1-2.4l.1-1.2v2.3l.1-.8l.1 3.3l.1-.2v-.7l.1 4.6l.1 1.4v-10.6l.1 6.8l.1 1v-2.7l.1 2.3l.1-11.2v1l.1-1.5l.1 7.7l.1 5.1v-9.4l.1-6l.1 4.6v3.3l.1-9l.1-8.7v6.9l.1-2.3l.1-2.9l.1 8.3v4l.1-4.2l.1-2.8v-9.7l.1 8.9l.1-5v-.3l.1-3.1l.1 4.3v-1.1l.1 .2l.1 10.2l.1-6.5v.2l.1 4.8l.1-6v11.5l.1-5.9l.1 2.6v2.3l.1 13.3l.1 3.1v-4.4l.1 4.4l.1-.3l.1-7.4v-.7l.1-1l.1-1.2v-4.7l.1 3.1l.1-12.2v3.8l.1-.3l.1 2.1l.1 5.6v-10.9l.1 8.9l.1 7v8.7l.1-3.4l.1-10.4v.8l.1-8l.1 1.4v13.5l.1-12.2l.1 5.8l.1-5.5v3.8l.1-6.9l.1-11.8v15.8l.1-17.8l.1-9.3v11.4l.1 8.3l.1 3.1v-8.9l.1 13.7l.1-12.9l.1-5.2v12.6l.1-8.3l.1 6.4v-12.8l.1-7.9l.1 13.1v-9.3l.1-3.1l.1 5.5l.1 10.5v4.6l.1-6.6l.1 6.5v3.4l.1 1.5l.1-22.4v-.5l.1 .9l.1-4.5v8.1l.1-3.9l.1-4.4l.1 0v9.3l.1 3.8l.1 1.5v7.9l.1-1.7l.1 14.1v-5.5l.1 7l.1-8.5v10.5l.1 9.8l.1-12.8l.1 9.5v-12.5l.1-19.2l.1-4.4v25.3l.1-13.2l.1 3.4v6.2l.1-1.2l.1-11.9l.1 24.4v-19.7l.1 1.1l.1 2.2v-10.1l.1 5.2l.1-7.5v5.9l.1-18.9l.1-1.2v4.1l.1-3.5l.1 4.7l.1-5.4v1.6l.1-1.7l.1 5.4v-5.5l.1 4l.1 12.2v-16.3l.1 0l.1 5.1v-5.2l.1 0l.1-.1l.1 0v6.8l.1-6.9l.1 0v20.5l.1-7.5l.1 16.5v-8.4l.1 2.9l.1 3.7l.1 4.5v11l.1-6l.1-3.8v11.4l.1-.1l.1-6.3v1l.1 1.4l.1-6.1v12.8l.1-6.5l.1-2l.1-1.4v-10.7l.1-.4l.1-19.5v13.1l.1-20.2l.1 .1v0l.1 0l.1 4.7v-4.7l.1 .1l.1 8.5l.1-2.4v-.8l.1 18.9l.1-9.9v15.4l.1-2.6l.1-12.2v17.8l.1-6.5l.1 3.4l.1 6.4v-12.7l.1 11.4l.1-4v-1.7l.1 4.2l.1 1.6v6.8l.1 2.6l.1-6.1v-29.5l.1 5.2l.1-5.8l.1 2.5v4.7l.1 2.6l.1 13.8v2.8l.1 1.3l.1 3.5v-8.6l.1 12.3l.1-2.1v5.1l.1-14.6l.1 6.1l.1 12.4v1l.1-12l.1-18.2v-11.9l.1 17l.1-1.5v8l.1 7.5l.1-6.4l.1 1.5v5.9l.1-8.3l.1 3.5v5l.1-4.8l.1 12.3v4.4l.1 7.1l.1 6.8v.1l.1-4.3l.1-6l.1-9.1v15.2l.1 1.7l.1-13.1v-1.5l.1 .6l.1 3.1v-17.4l.1 9.1l.1 1.8v-4.9l.1 8.2l.1-21.2l.1 5v9.6l.1 11.8l.1-10.9v6.9l.1-2.3l.1 1v-.5l.1 6.7l.1-3.4l.1-1v-17.5l.1 11.9l.1 3.9v-18.6l.1-21.7l.1 11v3.5l.1-16.9l.1 14.7v-13.1l.1-6.7l.1 .1l.1 0v0l.1 .9l.1-.8v3.1l.1 .9l.1-3.9v.1l.1 0l.1 0l.1 .1v9.4l.1 22.4l.1-8.9v5.7l.1 1.6l.1-7.8v-3.5l.1 8.4l.1-7.2v-1.5l.1-3.5l.1 7.7l.1-1.8v-2.8l.1-5.2l.1-2v13.5l.1-5.1l.1-8.6v15l.1-20.5l.1 4v7.9l.1-3.9l.1-6.3l.1 16.1v16l.1-9.5l.1-3.4v1.6l.1 3.4l.1 .5v-9.8l.1 5.5l.1 4.7l.1 2.5v1.7l.1 7.8l.1-4.8v-.1l.1-7.3l.1 8.1v-11.9l.1-5.2l.1-2.2v11.3l.1 4.7l.1-21.1l.1-5.5v-5l.1 6.7l.1-6.4v7.7l.1 3.7l.1 4.9v-2.7l.1-6.9l.1 22.4v-1.7l.1-21.8l.1 1.6l.1 .6v3.9l.1-4.5l.1 0v-2.6l.1-8.8l.1 0v0l.1 0l.1 .1l.1 0v0l.1 0l.1 0v.1l.1 7.1l.1-7.1v2.1l.1-2.1l.1 8.1v5.2l.1-13.2l.1 0l.1 6.8v-5.2l.1-1.6l.1 .1v8.9l.1 3.8l.1 13.1v-8.2l.1-5.6l.1 3.4v7.6l.1-16.1l.1 6.8l.1-2v4.4l.1 11l.1 2.6v-5.4l.1-5.9l.1 16.3v6.9l.1-11l.1 1.8l.1 .3v-2.3l.1-2.8l.1 2v4.7l.1 2.2l.1 .8v-13.1l.1 11.1l.1-.9v-5l.1 2.8l.1-2.7l.1-.7v-5.5l.1 7.5l.1-1.5v-1.2l.1-.7l.1-9.7v4.7l.1 5.1l.1 1.8v-7l.1-7.2l.1 .6l.1 7.9v4.4l.1 5.4l.1-3v9.2l.1-17.1l.1 8.7v-.1l.1-7.1l.1-2.9l.1 6.7v3.6l.1-4.7l.1 5.4v-2.1l.1-4.7l.1 2v-.6l.1-2.3l.1 6.6v-2.6l.1 5l.1-2.6l.1 5.2v.1l.1-1.2l.1 7.3v-10.4l.1-6.4l.1 9.1v3.4l.1-2.4l.1-.3v3.6l.1 2.4l.1 2l.1 .1v-6.4l.1 6.6l.1 .1v-.9l.1-13.4l.1 9.4v-10.7l.1 13.9l.1-9.7l.1 12.2v-16.5l.1-1.3l.1-5.3v-.8l.1-.2l.1-6.9v.4l.1 4.9l.1-4.1v1.6l.1-5.1l.1 11.5l.1-9.8v5.9l.1-2.4l.1-8.4v6.2l.1-3.9l.1-3.2v.1l.1-1.2l.1-.1v4.7l.1 14.5l.1-11.1l.1 .7v7.5l.1-3l.1-5v-.1l.1 3.8l.1-10.6v-2.3l.1 .6l.1-1.2l.1 11.6v6l.1-8l.1 9.2v-.6l.1-3.6l.1 9.5v-7.4l.1-17.7l.1 25.8v-9.9l.1-3.4l.1 1.6l.1 2.7v-2.8l.1 7.7l.1-15v20.4l.1 7.8l.1-2v13.5l.1 2l.1-17v-2.8l.1-9.7l.1 9l.1 1.3v-12.8l.1 1.1l.1 11.7v6.3l.1-4.7l.1-8.3v19.3l.1-10.8l.1 9.9l.1-1.4v-1.9l.1 .4l.1-2.9v20.9l.1-19.2l.1-4.9v-8.4l.1 10l.1 9.6v6.5l.1-27.8l.1-2.5l.1 11.6v-18.7l.1 11.6l.1 15.3v-.3l.1-3.7l.1 9.6v2.4l.1-16.1l.1-10.9v20.6l.1-17l.1-1.9l.1 9.2v10.9l.1-6l.1-2.9v-8.5l.1-3.9l.1 .5v-10.8l.1 2.7l.1 5.3l.1 26.7v-23.3l.1 9.2l.1 4.2v-19.8l.1-1.9l.1 41.9v-9.8l.1 6.9l.1-12.3v14.1l.1 2.5l.1 6.7l.1-2.6v4.7l.1-4.8l.1 5.1v-4.9l.1-18.5l.1 20.4v-28.5l.1 6.8l.1 4.5v18.5l.1-2.2l.1-13.2l.1-8.7v1.9l.1 2.8l.1-10.2v-7.3l.1 12.9l.1 5.5v-5.6l.1-.4l.1 6.1l.1 6.4v-2.4l.1-6.8l.1 6.8v-9.4l.1-5.3l.1-16.2v17l.1-4.1l.1-7.3v13.3l.1-7.7l.1 4l.1-12.7v13.9l.1-19.3l.1 6.3v-3.3l.1 11.8l.1-.1v-7.3l.1 16.7l.1 13.2v-12.2l.1-8.4l.1-1.3l.1-3.6v-4.3l.1 4.3l.1-4.5v-9l.1 21l.1-10.3v12.9l.1-3.3l.1-7.4l.1 10.4v-7l.1-4.6l.1 11.1v1l.1-8.2l.1 5.4v-7.6l.1-5.5l.1 8.6v5.6l.1 2.5l.1-3.5l.1-.5v-11.6l.1-7.6l.1 14.6v-2.3l.1-18.3l.1 2.4v-11.1l.1 4.2l.1-.7v18l.1-6.6l.1 .1l.1-2.5v17.5l.1-6l.1 .9v19.8l.1 .9l.1-.7v.6l.1-3.7l.1-5l.1 .7v2.2l.1-.8l.1-16.8v.3l.1 3l.1 2.5v-1.9l.1-11.3l.1-2.5v-1.4l.1 15.3l.1-.1l.1 5v5.1l.1-1l.1-21.1v3.3l.1 1.2l.1-7.8v15.2l.1-.8l.1 .9l.1-7.9v6.5l.1 1.6l.1-9.6v-3.8l.1 9.4l.1 1v8.8l.1-20.5l.1 13.8v-.7l.1 2.8l.1-3.3l.1 .4v-4.6l.1-4.2l.1-2.4v13.4l.1 .9l.1-12.4v-4.7l.1-7.8l.1 14.8v10.1l.1 1l.1-18.6l.1 4.8v.3l.1-5.5l.1 14.9v-2.3l.1 16.4l.1-13.8v11.6l.1-10.5l.1-6.5l.1 15.3v1.3l.1-2.3l.1-6.5v0l.1-11.4l.1 8.6v-4.4l.1 8.7l.1 11.7v-4.6l.1-22.3l.1-1.8l.1-1.7v4.8l.1-9l.1-9v17.2l.1-2.7l.1 0v-2.9l.1 1l.1 5.4v8.9l.1-8.5l.1 22.4l.1-11.1v8.9l.1-10.1l.1 .7v-4.6l.1 2.4l.1 .3v8.5l.1-11.7l.1 12.6l.1 5.6v-6.9l.1 6.8l.1-26.1v6.7l.1 4.3l.1-26.6v24.2l.1-15.2l.1 5.4v7.7l.1-8.1l.1 5.7l.1-3v-2.9l.1-13.2l.1-.3v4.1l.1 13l.1-4.3v10.4l.1-16.3l.1 10.1v-.9l.1 4.1l.1-7.4l.1 9.2v10.2l.1-10.3l.1-3.6v-6.7l.1-2.5l.1 7.4v2.3l.1-3.5l.1-8.7l.1 2.5v-1l.1 1.3l.1 13.2v-8.7l.1 9.7l.1-.6v.3l.1 5l.1 4.9v-3.6l.1 6.1l.1-4.2l.1-5.3v5.1l.1 7.3l.1-1.6v-2.5l.1-3.5l.1-.2v1.7l.1 6.3l.1-2v-7.4l.1 1.4l.1 15.9l.1-2v-.9l.1 3.8l.1 .3v.3l.1 .3l.1 .3v.3l.1 .3l.1 .3l.1 .3v-6.4l.1-2l.1 9.3v.1l.1-4.3l.1 2.5v-7.7l.1 7l.1-9.4v-5l.1 9.8l.1-12l.1 9v5.3l.1-10.3l.1-7.6v-.1l.1 2.6l.1-7.6v6.8l.1-3.1l.1 8.2v-.2l.1 7.7l.1 9.2l.1-25v5.2l.1 8.8l.1-14v2.4l.1 7.7l.1-15.6v5.3l.1-5.4l.1 2.8l.1 9.8v7.1l.1 7.3l.1-18.2v-1.8l.1-7.7l.1-5.7v-15.3l.1-.1l.1 2.5v-1.2l.1 17.9l.1 17.9l.1 3.5v.8l.1 8.2l.1-32.2v30l.1 3.4l.1-.9v-12.4l.1-30.9l.1 8v7.1l.1-3.4l.1 34.5l.1-20.1v.6l.1-3.7l.1 3.6v-8.5l.1-6.5l.1-4.1v12.5l.1-15.4l.1-.7l.1-11.4v13.5l.1-15.5l.1 43.1v-26.7l.1 14.6l.1 20v9.7l.1-8.6l.1-3.3v1.2l.1-6.4l.1-12.2l.1 17.3v-7.9l.1 10.2l.1 5.3v-33.2l.1 10.7l.1 2.8v-13.1l.1 26.1l.1 16.3v-6.4l.1-7.5l.1-19.4l.1 1.4v30.7l.1-66.9l.1-42.5v99.9l.1-69.9l.1 6v60.7l.1 5.8l.1-15.6l.1 4.6v8.1l.1-15.6l.1-21.5v5.8l.1-6.9l.1 9.4v.7l.1 1.7l.1-11v-2l.1-3.8l.1 30l.1-8.3v11.9l.1-23.5l.1 17.3v-23.9l.1 24.6l.1 .6v1.5l.1 12l.1-6.2v-13.7l.1 11.7l.1-16.8l.1-8.3v11.2l.1-8.2l.1 13v-12.1l.1 11.5l.1-2.3v3l.1-14.4l.1 12.5l.1-7v13.2l.1 15.6l.1-15.9v15.7l.1-13.3l.1-12.6v21.1l.1 4.4l.1-2.9v.5l.1-3.6l.1-9.3l.1 1.9v11.5l.1-8l.1 1.3v3l.1-4.8l.1-8v8.2l.1-25.9l.1-11.2v17.7l.1 4l.1-1.6l.1 15.9v-20l.1 2.3l.1-8.6v8.8l.1 5l.1-3v7.5l.1-16.3l.1 15.7l.1-12.9v1.6l.1 9.3l.1 1.7v1.8l.1-13.5l.1 6.5v-21.5l.1 22l.1-2.3v2.9l.1-17.1l.1-6.9l.1 12.4v16l.1 3l.1 1.9v.1l.1-.1l.1-23v7.8l.1-12l.1 9.5v-6.9l.1 6.3l.1 15.8l.1-8.1v6l.1 .2l.1 6.9v-25.9l.1 11.9l.1 .7v-2.8l.1-6.6l.1 2.3l.1 5.9v1.9l.1-1.2l.1 8.1v-1.4l.1-10l.1 1.5v15l.1 .5l.1-20.4v3.1l.1-8.8l.1-3.5l.1 12.1v-14.2l.1 17.1l.1 15v-7.7l.1 3.8l.1-5.2v-3.5l.1-10.1l.1 2.9v2.5l.1-10.1l.1-7.5l.1 .8v-3.6l.1-6.5l.1 3.4v6l.1-11.4l.1 5.6v-5.6l.1 3.3l.1 14.1l.1-8.1v.1l.1-6.8l.1 6.4v-3.5l.1 4.5l.1 6.3v2.3l.1-7.8l.1 10.5v6.6l.1-6.1l.1-8l.1 9.9v-8.7l.1 .1l.1 4v12.8l.1-6l.1 13.5v1.4l.1 2.3l.1-17.4l.1 17.7v-12l.1 11.4l.1 .6v-6.5l.1 5.1l.1-14.8v8.8l.1 7.5l.1-8.6v-6.6l.1 15.3l.1 0l.1-4.4v3.2l.1 .5l.1 .8v-.4l.1-1.5l.1-16.3v17.5l.1-2l.1-12.4v.3l.1 0l.1 4.1l.1 9.8v-10.6l.1 1.5l.1-1.2v-4.9l.1-2.7l.1-5.3v-.6l.1 3.1l.1-2.5l.1-1.1v3.9l.1 17.7l.1-2.3v-10.1l.1 6.3l.1 .4v-9l.1 9.9l.1-9.3v-1.2l.1 18l.1-6.7l.1-4.1v-4.5l.1-5.2l.1 8.3v-2.5l.1-3.5l.1 3.1v-2.3l.1-9.3l.1 11.1v-5.6l.1 .7l.1 1.1l.1-4.1v-4.1l.1 5.3l.1-14.2v4.1l.1 10.2l.1 1v-5.8l.1 12.2l.1-8.8l.1 12.6v-2.5l.1 2.3l.1 .1v7.3l.1 .9l.1 2v-8.6l.1-.7l.1-2.3v4.5l.1-6.1l.1 5.4l.1-7.3v6l.1-10l.1 5.5v6.1l.1-13.3l.1 5.7v-2.4l.1 3.7l.1 4.9v-3.5l.1 4l.1-5l.1 4.3v8.4l.1-3.5l.1 10.3v3l.1-8.8l.1-7.4v4.5l.1-6.9l.1-1.8l.1 2.8v-3.6l.1 3l.1-20.1v.8l.1 11.8l.1 4.7v-6l.1 4.9l.1-4.7v-9.8l.1 3.8l.1 6.1l.1-8.7v10.9v13.7l.1-6.4l.1 3.8v.3l.1 3.6l.1-3.8l.1 4.7v-2.3l.1-6.4l.1 14.6v-3.1l.1-15.9l.1 3.5v11.6l.1-15.6l.1 2.2v-9.4l.1 8.2l.1-11.3l.1 12.5v11.2l.1-1.8l.1-4.3v15.3l.1 12.3l.1-3v-5.8l.1-23l.1 17.5l.1 11.7v-41.7l.1 10.5l.1-4.8v34.8l.1-16.8l.1 11.4v8.7l.1-13.2l.1-16.4v-1.8l.1 13.8l.1 21.3l.1-33.1v12.9l.1 13.2l.1-30v-7.2l.1 23.7l.1 14.1v1.1l.1-19l.1-1.9v13.8l.1 11.3l.1 .5l.1-9.6v-18.4l.1 5.2l.1-2.7v-13.1l.1 24.5l.1 22.2v-4.6l.1-14.1l.1 2.8l.1 9.5v-8.7l.1 15.7l.1-8.3v-38.5l.1 18.3l.1 .4v-9.3l.1-8.4l.1 25.9v-2.7l.1 2.9l.1 11.4l.1-7.6v-11.5l.1-.1l.1 0v-2.3l.1 24.7l.1-43.1v11.8l.1 11.7l.1 3.5v1.6l.1-7.5l.1 7.9l.1 6.3v-30.8l.1 10.8l.1 1v2.9l.1-2.5l.1-.9v.6l.1-3.9l.1 12l.1-16.9v7l.1-8.7l.1 1.3v19.2l.1-18.3l.1 3.6v-7.1l.1 7.2l.1 3.9v-13.7l.1-8.2l.1 11.2l.1-5.7v7.4l.1-6.8l.1 5.1v4l.1 .2l.1 1.6v-.1l.1 3.2l.1-1.4v3.3l.1 2.8l.1-11.9l.1 10.9v-21.2l.1-3.8l.1 14.2v-2.8l.1 1.1l.1-8.3v6l.1-10.1l.1 29l.1-16.9v-7.1l.1 18.3l.1-7.5v1.9l.1-12.7l.1 14.7v-6.3l.1-16.1l.1-1.1v15.2l.1-3.7l.1-3.5l.1 12.8v-11.9l.1 2.8l.1-1.9v-4.2l.1 15.1l.1-16.3v8.4l.1 5.8l.1-8.2v6.2l.1-.7l.1 0l.1-4.4v1.5l.1-1l.1-9.5v10.2l.1-4.4l.1 5.4v-2.5l.1 2.6l.1 3l.1-6v5l.1 7.7l.1-23.5v-2.2l.1 1.5l.1 8.6v5.6l.1-3.3l.1 1.9v.7l.1-10l.1 3.7l.1 2.2v2.8l.1-1.5l.1 13.6v-23.6l.1 16.7l.1-15.1v4.7l.1-3l.1 4.7v4.8l.1-2.8l.1-5.9l.1 10.1v-11.9l.1 12.5l.1-5.7v2.3l.1 4.9l.1-5.7v8l.1-18.6l.1-2.6l.1 6.6v9.9l.1-7.4l.1-6.6v6.1l.1 11.3l.1-10.4v6.5l.1-10.7l.1 14.9v-2.3l.1-11l.1 13.7l.1-10v-.9l.1 .6l.1 0v-7.8l.1 4.6l.1-2.5v2l.1-4l.1 6.5v-1l.1 3.7l.1 4.4l.1-14v5.1l.1-.8l.1-1.9v7.3l.1-9.6l.1 17.6v-17.3l.1-1.8l.1 2.7l.1 7.9v-10l.1 5.4l.1-8.3v-2.9l.1 5.7l.1 9.5v-7.5l.1 1.6l.1-10v7.1l.1 3.8l.1 11.4l.1-9.1v.5l.1-12.4l.1 6.5v8.5l.1-1.1l.1-7v.2l.1 3.9l.1-10.1v3.9l.1 11.5l.1-19.5l.1 17.1v4.2l.1-10l.1 10.6v-19.9l.1 5.2l.1-2.5v-1.6l.1 3.2l.1-4.4l.1 2.7v.8l.1-7.1l.1 18.2v3.9l.1-2.3l.1-.9v-.4l.1 8l.1-3.9v-3.9l.1-.8l.1-11.3l.1 18.8v-.1l.1-2.3l.1-8.5v6.8l.1 1.4l.1-8v1.5l.1 7.4l.1-4v-7.7l.1 18.6l.1-18.4l.1-.5v.7l.1 10.8l.1-4.6v-3l.1 8.3l.1-6.8v-.8l.1 2.6l.1-8.2l.1-2v8.8l.1 .2l.1-1.9v-2.2l.1 4.6l.1-1.4v6.1l.1-10.7l.1 5.2v-8.6l.1 14.7l.1-8.7l.1 7.5v3.2l.1-5.2l.1-4.8v11.9l.1 2.8l.1 .9v-19.4l.1 11.1l.1-2.5v17.2l.1-2.9l.1-20.3l.1 6.7v-6.3l.1 7.4l.1-2.9v16.3l.1-3.8l.1-8.6v-3.8l.1 8l.1-3.1l.1 15.7v-21.8l.1-10.6l.1 13.1v-11.4l.1 12.6l.1 7.3v-19.2l.1 3.8l.1 .5v4.3l.1 19.2l.1-3.9l.1-20.5v15.8l.1-.5l.1-12.6v8l.1-17.1l.1 2.8v5.3l.1 8.2l.1-11.4v7.7l.1-5.8l.1 16.9l.1 3.8v-11.7l.1-18.4l.1 39.3v-36.3l.1 21.4l.1 12.5v-18.9l.1-5.4l.1 3.5l.1-4v9.6l.1-1l.1 3.2v-4l.1-6.4l.1-5.9v11.6l.1 8.2l.1-11.2v20.3l.1 4.9l.1-11.3l.1-5.2v16l.1-.1l.1-10.6v1.9l.1 .5l.1 5.9v-30.4l.1-.3l.1 .2l.1 5.4v14.9l.1 14.1l.1-15.6v-7.7l.1 9.1l.1 .8v3.5l.1-1.9l.1-8.4v-4l.1 6.3l.1-.4l.1 5.9v1.1l.1 .8l.1-8.8v-3.4l.1 13.9l.1-2.9v-1.1l.1 10.6l.1-11.9v2.2l.1-6.2l.1 10.1l.1 9.4v-21.7l.1 5.7l.1 4.7v1.5l.1-15.1l.1 1.3v15.1l.1-.4l.1-.3l.1-4.4v2.5l.1-12.7l.1-4.9v8.8l.1 6.3l.1-8.4v12.4l.1-12.5l.1 14.2v-20.3l.1 8.2l.1-1.9l.1 10.6v-18.3l.1 .7l.1 9v5.6l.1-5l.1 13v-5.9l.1-9.2l.1 16.9v10.6l.1-5.9l.1-14.4l.1-.9v13.7l.1 8.5l.1-12.3v-3.5l.1-21l.1 7.5v6.7l.1 8.4l.1-7.5l.1-6.1v3.9l.1 2l.1 2.1v-16.4l.1 25.7l.1-16.1v9.8l.1-5.6l.1 19.8v-21.7l.1-4.1l.1 .5l.1 5v-11l.1 17.6l.1 4.3v-2.8l.1-6.7l.1 6.1v-3.8l.1-11.8l.1 22.6v1l.1-17l.1-17.7l.1 7.5v8.7l.1 3.9l.1 .5v-7.8l.1 8.6l.1 11.4v-19.5l.1 13.5l.1-8.6l.1 4.6v-7.4l.1 4.7l.1 .4v1.1l.1-11l.1 12.6v-16.2l.1 3.4l.1 4.5v-3.3l.1 12.5l.1-8.5l.1 3.1v-23.1l.1 4.9l.1 11.7v4.1l.1 12.2l.1-4.1v-14.3l.1-9.9l.1 3.2v8.5l.1-6l.1 10.8l.1-1.4v-15.1l.1 22.8l.1-14.4v7.3l.1-3.9l.1 3.8v-14.3l.1 4.5l.1-5.3l.1 9.6v13.4l.1-7.9l.1-2.3v-.5l.1-16.2l.1-2.1v14.2l.1-11.3l.1 17.7v-12.9l.1 4.8l.1 .3l.1 5v-3.4l.1-3.1l.1 .2v2.8l.1 2.8l.1 3.9v-5.7l.1-17.2l.1 19.4v4.1l.1-5l.1-21.1l.1 18.9v8l.1-8l.1-.6v-9.2l.1 5.4l.1 3.9v12.2l.1-12.6l.1 9.1l.1-6.3v-5.2l.1-17.2l.1 19.2v3l.1-.1l.1 5.6v-5.8l.1 13.9l.1-7.4v-10.2l.1-2.8l.1-9.7l.1 22.7v7l.1-16.7l.1 8.8v-28.9l.1 10.2l.1 13.6v6.1l.1-9.8l.1-1.9v-6l.1 10.8l.1-13.2l.1 1.1v4.2l.1 4.4l.1 2.8v-17.4l.1-.2l.1 13.8v-8.4l.1 4.8l.1 9.6l.1-13.6v7.7l.1 3.5l.1 2v-9.2l.1 11.7l.1-13.2v5.9l.1 2.6l.1-.4v-10.2l.1 6.4l.1 3.7l.1-8.4v2.3l.1-4.4l.1 2.6v-5.2l.1 .3l.1 10.5v2.2l.1-6.2l.1 5.4v14.6l.1-21.2l.1-5.6l.1 11.3v-19.9l.1 23.9l.1 13.3v-14.7l.1 4.2l.1 10.7v-24.1l.1 12.3l.1-9.1l.1 4.6v-4.8l.1 12.9l.1-19.4v20.8l.1 6.4l.1-33.9v5l.1 29.2l.1-6.5v-6.9l.1 5.6l.1-19.3l.1 7.1v-18.9l.1 24.7l.1 10.4v3.5l.1-10.5l.1-3v-7.1l.1-16.8l.1 9.7v-5l.1 24.3l.1-18.5l.1 7.4v-7.6l.1 18.4l.1 11.8v-34.7l.1 18l.1-11.6v14.2l.1-7.6l.1-.2l.1 18.3v-13.1l.1-8.7l.1 5.5v-4.7l.1-6.5l.1 14v1.9l.1 9.5l.1-3.7v-9.1l.1 7.1l.1-3.3l.1-9.8v.9l.1 6l.1-3.1v7.3l.1-16.9l.1 4.4v16.9l.1 0l.1-4.7v3.9l.1 3.7l.1-2.3l.1-2.2v-7l.1-20l.1 19.9v5.1l.1 7.6l.1-7.9v12l.1-11l.1 10.1l.1-17.8v6.9l.1-9l.1 7.3v10.6l.1-.2l.1-14.5v-4l.1 12.8l.1-8.2v8.6l.1 9l.1 2.9l.1-4.7v-9.7l.1-1.9l.1 11.7v-8.7l.1-3.7l.1-6.1v18.9l.1-22.2l.1 8.3v.6l.1 9.8l.1 15.3l.1-1.7v-27.6l.1 15.6l.1-.4v-8.3l.1 17l.1 11.5v-2.8l.1-24.3l.1-2l.1-2v28.1l.1-8.2l.1-5.7v6.9l.1 4.6l.1 4.4v-23.3l.1 14.3l.1-13.5v8l.1-8.7l.1 7.2l.1-11.5v12.6l.1-26.1l.1 6.2v39.7l.1-24.8l.1-3.3v6.5l.1-17.7l.1 20.2v-8.4l.1 7.5l.1 20.8l.1-27.9v-2l.1 25.6l.1-22.9v12.1l.1-6.6l.1 12.3v-5.2l.1-23.9l.1 3.3l.1-.5v-4.3l.1 2.4l.1 7.7v3.8l.1-3.7l.1 11.9v-5.7l.1-3.1l.1 14.2v-10.9l.1 8.5l.1-2.3l.1-9.4v3.5l.1 9.1l.1 2v-15.3l.1 16.3l.1-12v-5.3l.1 7.1l.1-14.6l.1 5.1v2.2l.1 12.6l.1 .8v-4.5l.1-1.3l.1-16.3v15.4l.1-10.3l.1 11v-3.9l.1 2.7l.1-.6l.1-15.6v1.5l.1 5.2l.1-.7v25.6l.1-22.7l.1-3.2v2.7l.1-7.6l.1 14.4v-.8l.1 8.9l.1 3.6l.1-10.3v-23.1l.1 3.3l.1 17.6v-.6l.1-2.9l.1 11.9v-12.5l.1-10.2l.1 17l.1-10.8v13.9l.1 9.7l.1 .1v-21.4l.1-5.5l.1 3.7v8.4l.1-4.9l.1-2.7v.9l.1-3.9l.1 8.8l.1-4.1v-1.8l.1-12.5l.1 23v-13.2l.1 18.3l.1-6v-2l.1-4.5l.1 6.8v4.7l.1-31.2l.1 30.9l.1-4.6v-12.6l.1 13.7l.1-15.9v4.5l.1-.5l.1-1.9v-.1l.1 1.9l.1-4.5l.1-9.6v28.7l.1-1.9l.1-15.3v-2.7l.1 16.5l.1 3.9v-8.6l.1-8.9l.1 6.9v.2l.1-2.1l.1-6.1l.1 3.4v-11.5l.1 15.4l.1 5.9v-2.1l.1-6.9l.1-15.7v9.9l.1 9.1l.1-7.4v13.9l.1-14.2l.1-4.4l.1 15v-9l.1-11.8l.1 13.9v1.3l.1 0l.1 .7v-4.8l.1 4.3l.1-8.2l.1 10.1v4.2l.1-8.8l.1-21.3v13l.1 7.7l.1 5.6v-18l.1 12.7l.1 9.2v-27.9l.1 8l.1 14l.1 .7v-4.6l.1 7.5l.1-21.2v.7l.1 6.9l.1 7.6v-1.2l.1-13l.1 7.7v4.9l.1-16.1l.1 17.1l.1-1.1v-1.8l.1-9.7l.1 8.9v-.1l.1-8.7l.1-2.8v9l.1-5.8l.1 4l.1 2.4v-10.4l.1 3l.1 5.8v14.9l.1 3.5l.1-13.7v14.3l.1-25.9l.1 2.5v5.6l.1-5.3l.1-2.6l.1 23.4v5.9l.1-10.5l.1-10.8v-12.8l.1 14.2l.1-1.2v-12l.1 12l.1-1.1v-2.3l.1-11.9l.1 19.2l.1-.5v-12.6l.1 23.7l.1-26.7v6.3l.1 8.7l.1 3.9v1.3l.1-13l.1 .5l.1 5.9v-11.6l.1-6.5l.1 12.5v-4.8l.1 12.5l.1-1.6v-.9l.1 1.2l.1 7.8v4l.1-12.5l.1-.9l.1 5v16l.1-11.6l.1-7v-3.8l.1 22.4l.1-9.8v-7.1l.1 18.8l.1-25.7v-12.7l.1 29.5l.1-5.3l.1 7.1v-8.2l.1-9l.1-11.7v6.6l.1 9.8l.1 8.3v.3l.1 6.9l.1-8.9l.1-10v-3.5l.1-8.8l.1 16.6v2.6l.1-9l.1 17.8v-28.3l.1 4.8l.1 6v2.3l.1 19.3l.1-1.3l.1-4.7v-11.3l.1-.2l.1 8.9v3.1l.1 .9l.1 2.5v-8.4l.1 7.2l.1-5.3v16.8l.1-11.7l.1-9.2l.1 2.2v-1.6l.1-3.9l.1 3.1v13.3l.1-6.7l.1-5.1v-7l.1-3.7l.1-3.8l.1 6v17.7l.1-5.5l.1 5.1v-25.1l.1 8.7l.1 12.4v.9l.1-4.7l.1 17.2v-12.2l.1 6.5l.1 10.6l.1-29.4v-7.9l.1 22.7l.1-11.1v3.9l.1 8.7l.1-8.1v6l.1-.8l.1 15v-6.2l.1-7.5l.1-3.3l.1 2.4v2.8l.1-12.9l.1 30.7v-23.2l.1 3.8l.1 1.2v-3.4l.1-10.4l.1 13l.1-3v-7.4l.1 27.4l.1-28.2v15.4l.1-8.6l.1 2.2v-.1l.1-5.8l.1 21.4v-21.1l.1 23.7l.1-8.4l.1-15.4v-8.5l.1 24.8l.1-11v8.7l.1 11.8l.1-22.5v6.2l.1 .3l.1-16.1v10.3l.1-5.7l.1 3.8l.1-2.6v4.3l.1 2.1l.1 9.6v-3.1l.1-21.1l.1 20v-2.1l.1-5.1l.1 19.3l.1-18.9v-10.2l.1 13.2l.1 16.4v-10.5l.1 8.6l.1-10.6v1.4l.1-15.9l.1 13.2v-4.5l.1 4.7l.1 13l.1 2.2v-10.5l.1 7.8l.1-10.6v16.9l.1-2.3l.1-3.7v-14.7l.1 17.5l.1-18.9v7.6l.1-15.6l.1-1.6l.1 9.3v26.7l.1-14.2l.1-24.9v11.2l.1 5.5l.1 .3v20l.1-1.3l.1-2.5l.1-16.3v-15.6l.1 25.2l.1-1.5v-.3l.1-11.7l.1 7.5v-.9l.1-15.3l.1 16.8v4.1l.1-23l.1 34.1l.1-9.3v-17.2l.1-6.5l.1 16.9v-3.4l.1-4.7l.1-18.8v24.2l.1-11.6l.1 4.8v15.3l.1-8.1l.1-2.1l.1-1.9v.6l.1 .9l.1 5.8v7.3l.1-13.8l.1 1.9v6.6l.1-5.9l.1-6.6l.1 6.6v-15.6l.1 17.1l.1-11.3v-4.4l.1 20.1l.1-18.2v7.2l.1-9.8l.1-9.5v24.9l.1-20l.1 16.5l.1-9.7v.8l.1 7.8l.1 1.9v-1.8l.1-9.3l.1 11.2v3.3l.1 5.6l.1-21.1l.1 .6v1l.1-6l.1 20.5v4.6l.1-23.9l.1 15.3v-22l.1 16.1l.1-8.9v-4.5l.1 23.2l.1-3.5l.1-4.4v7.2l.1-14.9l.1 2.7v5.7l.1 6.3l.1-2.3v-14.5l.1 7.5l.1-16.8v25.7l.1 1.6l.1-10.9l.1-4.9v6.5l.1 1.8l.1 4.4v-22.5l.1 18.3l.1 6.3v-17.8l.1-2.2l.1 .4l.1 13.4v-10.5l.1 8.4l.1-6v5l.1 4l.1-1.9v0l.1-18.7l.1 8v-11.9l.1 19.5l.1-9.5l.1-6.4v2.4l.1-3.6l.1 19.1v-14.1l.1-.1l.1-3.7v7.1l.1 9.4l.1-3.5v-1.3l.1-3.8l.1-2.9l.1 21.2v-11.2l.1-2.4l.1-12.8v4.5l.1 6.8l.1-4.1v11l.1-12.5l.1-7.9l.1 14.2v-16.4l.1 13.9l.1 3.8v-.7l.1 .3l.1-8.5v2.8l.1 3.5l.1 7.7v-15.5l.1 3.9l.1 7.6l.1-13.6v5.9l.1-9.1l.1 11.9v-14.6l.1 15.8l.1-.6v2.5l.1 3.3l.1-16.1v2.6l.1 9.5l.1-7.2l.1-7.8v9.1l.1 7.9l.1-7.3v-10.6l.1-7.9l.1 27.4v-24.7l.1 6.1l.1 25.4l.1-13.7v1.6l.1-1.9l.1 9.2v-5.6l.1-9.7l.1 2.6v6.8l.1-2.4l.1-5.1v2.3l.1 8.5l.1-9.6l.1-2.2v-2.7l.1 1.2l.1 11.4v-1.9l.1-6.9l.1-5.9v15.2l.1 2.7l.1-7.1v6.3l.1-.7l.1-16.9l.1 7.9v8.9l.1 4.5l.1-8.5v-.3l.1-13.4l.1 .4v9.6l.1-3.5l.1 3l.1 10.6v-5.6l.1 .8l.1-6.5v4.5l.1-2.7l.1 1.2v15l.1-19.3l.1-3.4v1.5l.1-7.3l.1 15l.1 14.6v-19.4l.1 5.8l.1-13.1v15.2l.1-7.9l.1 17.1v-9.6l.1 8.8l.1-12.9v8l.1-4l.1-17.4l.1 6.4v6.3l.1-2.8l.1-1.1v1.5l.1 8.3l.1-20.9v33.6l.1-18.6l.1 5.3l.1-4.7v-1l.1-1.9l.1 5.3v-2.2l.1 8.2l.1-9.6v14l.1-23.3l.1 19.3v16.7l.1-24.5l.1-7.5l.1 4.2v2.6l.1-1.3l.1 16.4v-12.7l.1 4.9l.1 3.7v16.3l.1-30.7l.1 12v8.2l.1-10.5l.1 22l.1-32.5v12.9l.1-13.1l.1 4.2v17.9l.1 10.3l.1-28.2v20l.1-9.8l.1 4.1l.1-3.3v-11.3l.1 17.5l.1-10.5v-7.3l.1 11.9l.1-4.8v11.5l.1-7l.1 7.2v-23.9l.1 17.3l.1-23.7l.1 9.1v12.9l.1-8.8l.1 18.7v-15l.1 7.1l.1 9.7v-11.5l.1-7.6l.1 12v5.7l.1 1.2l.1-7l.1 .7v5.5l.1-25.9l.1 28.2v-5.5l.1-7.5l.1 21.8v-25.5l.1 9.9l.1-5.2l.1-17.7v10.4l.1-4.3l.1-5.4v24.7l.1 18.2l.1-21.4v10l.1-7.6l.1-6v3.2l.1 9.5l.1 14.9l.1-21.2v20.1l.1-8.1l.1-13.6v10.1l.1-4l.1-2.2v-.3l.1 1.9l.1-7.5v-3l.1-3.2l.1 11.7l.1-7.7v-2.4l.1 15.9l.1-4.8v.5l.1-19.8l.1 5.7v12.2l.1-3.6l.1-5.4l.1 26.9v-25.8l.1 10.8l.1-20.6v6l.1 14l.1 10v-7.4l.1-8.8l.1-4.9v9.1l.1 4.9l.1-4.9l.1 17.6v-23.6l.1 10.9l.1-15.4v6.5l.1 12.2l.1-10.6v12.1l.1-9l.1 18.1v-19.2l.1-10l.1 .9l.1 8.9v-8l.1-11.3l.1 3.2v9.8l.1 1.9l.1-6.7v22.5l.1-16.7l.1 13.9l.1-12.5v-11.4l.1 12l.1-.7v-10.2l.1-13l.1 14.1v14.8l.1 10.5l.1-14.5v-4.5l.1-1.1l.1 3.1l.1-20.5v5.7l.1 12.7l.1 6.6v2.9l.1-6.8l.1-4v-6.1l.1-14l.1 19.2v3.4l.1-2.9l.1-.4l.1 1.7v8.6l.1 .2l.1 9.1v-18.8l.1-7l.1 6.1v2.4l.1 4.3l.1 2.2l.1 4.4v-9.9l.1-14.6l.1 27.1v-19.9l.1-9.7l.1 8.4v18.9l.1-10.8l.1-16.7v19.3l.1-16.8l.1 5.2l.1-6.4v5.9l.1-.6l.1-6.1v10l.1-12.2l.1 7.3v7.4l.1-11.6l.1 2.8v4.9l.1-2.1l.1 5.1l.1-5.6v-10.9l.1-5.4l.1 6.1v8.8l.1-2.6l.1-12.1v4l.1 10.4l.1-6l.1 7.8v4.2l.1-4.1l.1-1.9v.6l.1-.2l.1-13.6v0l.1 6.9l.1 4v19.7l.1-19.1l.1-12.8l.1 6.6v11.2l.1-28.6l.1 13.5v-10.5l.1 16.1l.1-.8v23.1l.1-16.5l.1-2.9l.1-5.8v2.1l.1-6.7l.1 14.1v-4.8l.1-2.3l.1 8.8v4.7l.1-5.2l.1-7.3v-7.5l.1-.3l.1-4.1l.1 10.2v-3.8l.1 2.6l.1 1.3v12l.1-9.8l.1-12.2v24.3l.1-15.2l.1 20.2v-19.9l.1 10.3l.1-17.7l.1 2.4v8.5l.1 4.4l.1-15.4v.7l.1-34.1l.1 28.6v14.5l.1-.6l.1-2.5l.1 5.3v-9.9l.1 16.1l.1-7.9v-7.2l.1 9.2l.1-4.4v13.6l.1-8.5l.1 .2v4.6l.1-6.3l.1 1.7l.1 5v-21.2l.1-2.6l.1 30.7v-11.5l.1-3.9l.1 .5v-22.1l.1 10.8l.1 .3v-.2l.1-2.1l.1-5.1l.1 6.6v17.4l.1-10.3l.1-4.2v17l.1-5.8l.1-9v12.3l.1 .2l.1-.2l.1-7.7v1l.1-6.8l.1 2.1v-2.4l.1 5.2l.1-2.6v2.7l.1 10.7l.1-23.5v15.9l.1-8l.1-8.2l.1 17.1v-15.9l.1 7.2l.1 5.7v-1.3l.1-20.1l.1 33.7v-6.4l.1-20.6l.1-.2v23.6l.1-.2l.1 1.7l.1-14v8.8l.1 4l.1-8.3v-9.4l.1 4.8l.1 8.6v2.1l.1 11.1l.1-9l.1-20.2v1.4l.1 7.8l.1 13.4v-17.3l.1 .9l.1 3.7v11.4l.1-32.3l.1 42.6v-14.5l.1 12.7l.1-16.5l.1 8v6.5l.1-16.4l.1 8.6v-7.9l.1-8.8l.1 21.5v-6.2l.1 8.6l.1-5.9v-18.1l.1 22.5l.1-.1l.1 13.6v-6.7l.1-17.4l.1-.2v24.9l.1-20.4l.1 11.5v-21l.1 17.7l.1-27.4l.1 20.7v-4.7l.1 15.6l.1-.1v-11.7l.1-6.9l.1 13.9v-20.7l.1 11.6l.1 8.5v-25.6l.1 28.9l.1-1.2l.1-5.4v-4l.1 10.6l.1-6.4v-6.1l.1-7.4l.1 15.6v.9l.1-13.6l.1 8.8v15.5l.1-24l.1-16.9l.1 18.6v-7.6l.1 12.1l.1-4.9v-1.6l.1 19.1l.1-6.3v-9.4l.1 19.9l.1-2.5l.1-3.6v-3.1l.1-10l.1-8.1v18.9l.1-2.6l.1-9.7v-5.3l.1 15.5l.1-7.6v-11.2l.1 12.1l.1 18.2l.1-15.7v-6.1l.1 18l.1 8.8v-27.4l.1 4.5l.1 12.4v4.3l.1 3.9l.1-18.7v-10l.1 15.3l.1 3.5l.1-12.8v11.3l.1-2.5l.1-3.1v4.9l.1 11.5l.1-15.1v14.1l.1-21.9l.1 4.2l.1 4.2v4.1l.1 4.3l.1-2.1v9.1l.1-5l.1-20.7v14.4l.1-6.8l.1 5.4v-25.8l.1 18.8l.1-6.1l.1 8.4v-4.6l.1-5.2l.1 18.2v-2.5l.1-4.4l.1-4v-.9l.1 15.2l.1-1.9v-2.7l.1-5l.1 5.2l.1-15.9v20.3l.1-32.6l.1 17.9v-8l.1 .4l.1 4.4v30.1l.1-1.3l.1-8l.1-17.6v18.3l.1-23.6l.1 15.4v-8l.1 7.7l.1-7.9v-8.7l.1-.5l.1-10.3v30.1l.1-5.3l.1-1.7l.1 8.9v-30l.1 21.6l.1 4v-.6l.1-15.4l.1 3.8v-1.9l.1 9.1l.1 6.7v-7.7l.1 5.6l.1-1.6l.1 5.4v8.5l.1-18.2l.1-1.1v-14.4l.1 9l.1 7.7v6.4l.1-4l.1 15.5l.1-.1v-21.2l.1-2.9l.1-8.1v16.7l.1 6.7l.1-18.5v-2.7l.1 18.1l.1-13.8v12.1l.1-12.6l.1-10.5l.1-1.4v25.8l.1-21.6l.1 6.2v18l.1-10.2l.1-2.2v-11.2l.1 5.2l.1 10.1v6.1l.1-13.2l.1-4.4l.1 16.9v-23.9l.1 16.4l.1 4.6v.3l.1-13.2l.1 7.7v-.1l.1 1.1l.1-1.9l.1-5.9v2.1l.1-7.2l.1 3v-13.3l.1 16.3l.1 1.5v7.6l.1-8.4l.1-.6v-6.2l.1 1.7l.1-.8l.1 6.7v10.5l.1 8.7l.1-20.7v10.3l.1 5.5l.1-4.9v-8.1l.1-9l.1 12.2v-6.6l.1 6.6l.1 3l.1 5.7v-27.2l.1 11l.1 8.5v-5.4l.1 5.5l.1-7.5v-2.7l.1-16.8l.1 17.8l.1-2.6v-11.1l.1 9l.1-3.1v10.6l.1-5.6l.1 7.3v.5l.1-3.7l.1-4.3v11.3l.1-1l.1-16.1l.1 13.3v-4l.1-17.2l.1 12.2v13.1l.1 7.5l.1-10.2v3.1l.1-14.3l.1-3.4v-12.1l.1 13.7l.1 12.2l.1 1v-20.2l.1 9.2l.1 5.3v-9.6l.1-4.2l.1 11.6v7.6l.1-7l.1 1.7l.1-20v25.9l.1-12.1l.1-3.9v5.7l.1-7.7l.1 3.4v2l.1 11.9l.1-22.2v7.8l.1 2.2l.1 6.4l.1-23.5v.4l.1 11.4l.1 8.5v3.5l.1-2.1l.1 1v-6.1l.1-.2l.1-3.8l.1 4.6v15.5l.1-10.2l.1-8.5v8.2l.1 4.6l.1-5.2v2.6l.1-1.9l.1-17.5v-4.4l.1 19.2l.1 4.8l.1-.9v-9.4l.1-7.3l.1 18.3v-15.5l.1 15.9l.1-10.1v-1.5l.1 4.2l.1 .7v-1.7l.1 7.3l.1-9.4l.1 9.3v7.9l.1-7.7l.1-8.7v2.7l.1 3.5l.1 11.9v-20.9l.1 6.6l.1-11.8l.1 13.3v-4.5l.1 8.4l.1-15.3v2.3l.1 21.9l.1-25.7v3.8l.1 11.3l.1-1.3v4.6l.1-8.6l.1 6.7l.1 17.9v-26.2l.1 12.7l.1 10.4v-9.9l.1 2.8l.1-29.2v3.9l.1 7.9l.1 8.3v2.3l.1-9.3l.1 12l.1-7.8v8.6l.1 11.5l.1-16v5.3l.1 15l.1-14.7v-12.1l.1-14.1l.1 1.8l.1 15.9v2.1l.1 18.4l.1-12.4v9.7l.1-11.4l.1-20.2v20.6l.1-6l.1-4.8v26.3l.1-19.6l.1-5.6l.1-3.3v1l.1 9.5l.1-7.5v8.1l.1-1.4l.1-.9v-1.5l.1-4.4l.1 12.1v-3.8l.1-10l.1-5.5l.1-.1v10.5l.1-8.1l.1 18.6v-4.4l.1-5.4l.1 3.9v-8.3l.1 19.5l.1-12.3l.1 .2v-3.6l.1 6.3l.1 5.1v.1l.1-1.2l.1 9.6v-11.1l.1-.3l.1 .2v-4.5l.1-5l.1 4.8l.1 8.7v-2.3l.1-24.7l.1 21.9v-16.7l.1 2.5l.1 11.5v6.7l.1 7.9l.1-11.8v-8.2l.1 27.5l.1-29.8l.1-1.9v7.8l.1 13.1l.1-3.6v-18l.1 18.3l.1-7v-12.7l.1 29.9l.1-32.6l.1 26.7v-12.7l.1 8.6l.1-5.3v-10.6l.1 6.4l.1-4.4v.5l.1 12.4l.1-10.7v-5.7l.1 15.5l.1-7.9l.1-5.6v0l.1 18.8l.1-9.5v9.1l.1 5.7l.1-2.8v-1l.1-16.6l.1 14.8v-.3l.1-6.9l.1 5.8l.1-1.5v-5.4l.1-2.7l.1-6.5v-7.4l.1 22.9l.1-.2v-3.5l.1 3.3l.1 6.9l.1-6.8v-15.1l.1 10.8l.1-3.6v-.9l.1 7.3l.1-18.1v17.9l.1-2.1l.1-12.2v-2.7l.1 15.4l.1 9.5l.1-2v9.9l.1-13.2l.1 2.6v1.7l.1 4.7l.1-13.2v-6.8l.1-.9l.1-2.2v15.3l.1-7.6l.1-16l.1 7.7v-10.8l.1 22.3l.1 .3v-7.2l.1 3l.1-5.8v7.8l.1-7.4l.1 18l.1-34.9v.8l.1 21l.1-4.9v-1.3l.1 20.7l.1-12.6v-1.4l.1 7.9l.1-20.5v17l.1-.9l.1-19.6l.1 16.9v-15.9l.1 19.7l.1-28.5v26.1l.1 3.4l.1 5.9v-19.8l.1 8.7l.1 6.2v-14.4l.1 3.9l.1-1.3l.1 15.1v-6.5l.1-5.3l.1-.1v5.5l.1-1.5l.1-.5v-7.7l.1-15.7l.1-1.3l.1 26.1v5l.1-20.3l.1 10.3v12l.1-23.8l.1 16.5v-18.9l.1-1.3l.1 5.7v11.1l.1-5l.1-4.1l.1-8.7v26.2l.1-15.9l.1 23.9v-22.3l.1 2.1l.1 1.3v-5.9l.1 14.8l.1-16.8v5.6l.1-11.9l.1 9.7l.1 12.4v-20.1l.1 13.1l.1 18v-26.9l.1 9.4l.1 .8v8.8l.1 2.2l.1 2.2l.1-10.5v-15.9l.1 25.9l.1-25.2v-4.5l.1 21.1l.1-31.1v19.4l.1 14.2l.1-7.4v-11l.1-11.8l.1 2l.1 12v-3.8l.1 10.8l.1 11.7v-2.6l.1-1.6l.1 5.1v-11.9l.1-16.1l.1 5.5v7.8l.1-2.9l.1 11.4l.1 11.3v-1.7l.1-28.3l.1 3.4v8.6l.1-7.2l.1 8.7v-19l.1 14.8l.1 11.9l.1-.4v-28.6l.1 15l.1 3.8v-11.2l.1-4.3l.1 27.7v-9.4l.1-1.7l.1-14.5v8.9l.1-13.5l.1 14.9l.1-10v12.8l.1-3.7l.1 3.2v-6.7l.1 0l.1 2v7.1l.1 .8l.1-4.2v-15.2l.1 11l.1 19.6l.1-31.1v19l.1-18.8l.1 9.2v4.5l.1-3.4l.1-13.3v2.3l.1 19.1l.1-20.2l.1 12.3v-.1l.1 15l.1-16.8v-3.6l.1 6.6l.1 9v6l.1-18.8l.1 8.3v11.9l.1-8.9l.1 5.9l.1-5.4v-11.1l.1 4.8l.1 0v-5.6l.1 15.5l.1-17.1v13.9l.1-5.2l.1 1.7v-16.5l.1 1.7l.1-4.9l.1-.5v8.8l.1 3.2l.1 4.1v5.6l.1 .1l.1 .1v1.9l.1-9.2l.1-4.1l.1 5.3v4.4l.1-3.8l.1 6.8v-12.1l.1-.6l.1-9.4v16.2l.1-11.5l.1 1.9v6.3l.1 5.3l.1-3.7l.1 8.2v-18.4l.1 12.7l.1-3.7v.5l.1 8.1l.1-9v4.5l.1-4.2l.1 1.9l.1 3.8v2l.1-1.3l.1-.4v-2.3l.1 5.8l.1 9.9v-9l.1-.9l.1-13.2v10.8l.1-14.4l.1 12.1l.1-5.6v5.2l.1 5.5l.1 10.5v-17.8l.1 .7l.1-.7v-6.8l.1 7.3l.1 20.1v-20.2l.1 2.6l.1 9.6l.1 .6v-7.3l.1 11.8l.1-6.8v-1.8l.1 2.5l.1-2.3v-15.4l.1-5.1l.1 1.3l.1 9.8v12.4l.1-5.3l.1-.8v6.5l.1-6.8l.1 15.6v-7l.1-2.3l.1 2.9v-19.1l.1 1.8l.1 11.8l.1-.9v-7.4l.1-2.6l.1 4v5.3l.1 18.5l.1-10.1v7.7l.1-19.7l.1 2.1v9.5l.1 2.2l.1-5.1l.1-10.1v2.2l.1 5.3l.1 0v-3.3l.1 22.5l.1-.7v-5.1l.1 2.5l.1-7l.1-14.7v-1.2l.1 3.9l.1-2.1v11.5l.1-6.3l.1 4.3v7.7l.1-14.9l.1 4.4v20l.1-17.7l.1-7.9l.1 10v-.1l.1 8.2l.1-14.9v-2.8l.1 4.8l.1-17.5v12.2l.1 12.7l.1-3v-2.4l.1 8.5l.1-13.8l.1-3.4v10.6l.1-7.2l.1 17.4v-22.8l.1 16.1l.1 .3v-4.2l.1 11.9l.1-13l.1-4v-7.7l.1 11.9l.1-4.7v-2.1l.1 21.2l.1-13.6v-5l.1 16.5l.1 .8v-16.2l.1-5l.1 14.8l.1-11.5v-5.5l.1 11.8l.1-1.5v-.1l.1-9l.1 12.7v-4.8l.1 13.6l.1 4.2v-22.8l.1 .7l.1 9l.1-.4v4l.1 .2l.1 1v0l.1-2.2l.1-7.2v2.8l.1 6.9l.1 7.8l.1-9.7v2.8l.1-.3l.1 4.6v5.6l.1-5.5l.1-4.9v3l.1-18.3l.1 33.6v-5l.1-10.5l.1 1.6l.1-17.9v.6l.1 7.3l.1 10.4v-18.5l.1 23.1l.1-2.7v-11.6l.1-2.7l.1 .9v2.5l.1 .1l.1 13.7l.1-3.8v-13.8l.1 15.3l.1-22.9v-8.1l.1 0l.1 13.1v6.5l.1 8.1l.1-6.2l.1 2.9v-21.1l.1 8.3l.1 11.9v-7l.1-2.1l.1 21.8v-12.6l.1 1.4l.1 3.2v-14.2l.1-3.2l.1 18.9l.1-14.2v-17.2l.1 13.7l.1 5.5v8.2l.1 3.6l.1-22.2v2.6l.1 2.7l.1-5.1v8.5l.1 3.3l.1-5.4l.1 .4v2.4l.1-4.2l.1-11.2v.5l.1 22l.1-7.1v9l.1-21.6l.1 14.9l.1 4v-21.9l.1 15.7l.1-4.3v8l.1-2.1l.1-10.6v3.1l.1 4.2l.1 17.8v-2.4l.1-10.5l.1-13.4l.1-12v9.1l.1 8.2l.1-6.3v9l.1 .6l.1-2.7v-5.3l.1-17.4l.1 21.9v4l.1-11.4l.1-4l.1 8v10l.1-9.7l.1 4v3.8l.1-4.1l.1-14.7v14.4l.1-3l.1 .4l.1-3.4v.5l.1 .8l.1 2.6v2.3l.1 .8l.1-14v9.9l.1-13.8l.1 11.5v-13.8l.1 22.6l.1-1.7l.1 .9v2.2l.1-6.8l.1-3.3v0l.1 5l.1-8.5v-1.4l.1 17.9l.1-14.1v-8.5l.1 3.9l.1 1l.1-3.7v11.4l.1-8.6l.1 18.9v-4.9l.1 10.1l.1-13.3v-12.9l.1 5.9l.1 4.7l.1 6.4v6.4l.1-4.6l.1-6.1v-11.2l.1 9l.1 4.3v10.5l.1 2l.1-25.9v14l.1 7.4l.1-19.7l.1 4.9v-17.8l.1 26.2l.1-10v6.9l.1 3.6l.1-1.9v-1.6l.1-17.1l.1 .3v10.3l.1 10.6l.1-11l.1 6.2v7.4l.1 2l.1-16.1v2.2l.1 15.3l.1-16.6v4.2l.1-15.3l.1 8.3l.1 .4v7.7l.1 1.8l.1-13.8v19.8l.1-12.5l.1-23.3v42.6l.1-16.7l.1 16.6v-17.2l.1-16.4l.1-4.1l.1 9.4v6.4l.1-14.3l.1 12.6v-1.3l.1 23.6l.1-26.4v7.5l.1-8.1l.1 8.5v5l.1-2.7l.1-12.9l.1-14.4v8.2l.1 27l.1-4v-7l.1-13.3l.1 18v-5.6l.1 28.9l.1-9.6l.1-13.3v-.6l.1-3.6l.1 2.2v-20.7l.1 15.7l.1-5.2v27.7l.1-31.6l.1 11v1.6l.1 8.9l.1 15.1l.1-21.4v24.1l.1-33.7l.1 31.3v-10.9l.1-.7l.1-20v13.4l.1 13.7l.1-16.7v5.8l.1-8.9l.1 .7l.1 14v-31.2l.1 16.5l.1 5.4v17.3l.1-22.8l.1-4.1v21.6l.1-6.6l.1-11.1l.1 10.5v4.1l.1-20.6l.1 12.8v-28.8l.1 15.5l.1 7.6v3.6l.1-15.1l.1 10.7v-4.6l.1 1.7l.1 5.7l.1-22.8v12.4l.1 1.1l.1 5.8v-9.9l.1-17l.1 10.9v22.4l.1 3.5l.1 17.8l.1-26.6v-3.9l.1-1.2l.1 10.9v.2l.1 7l.1-22.6v3.4l.1-6.9l.1 8.2v2.7l.1-10.3l.1 5.3l.1 6.8v-12.6l.1 7l.1 29.2v-23.8l.1 6.9l.1 4.3v-13.8l.1-3.6l.1 7.7v-31.9l.1 36.7l.1 7.9l.1-.1v-3.1l.1-29.3l.1 18.3v15.3l.1-20.1l.1 12.7v-13.4l.1-1.7l.1-7.5l.1 9.1v8.3l.1 1.1l.1 3.3v-34l.1 9.2l.1 35.6v-24.9l.1-12.6l.1 15.8v12.4l.1-22.2l.1-9.7l.1 25.3v-19.7l.1 7.1l.1-7.8v13.3l.1 12.4l.1 .9v-.6l.1-16.3l.1-13.6v9.5l.1 15.1l.1 3l.1-4v-9.1l.1 17.7l.1-10.2v-8.5l.1 6.6l.1 8.6v-2.9l.1-11.8l.1-2.6l.1 24.6v3.6l.1-19.3l.1 26.1v-30l.1-10.9l.1 18.8v11.1l.1-24.6l.1-4.9v23.4l.1-12.5l.1 22.9l.1-12.8v-.8l.1-3.1l.1 15.9v-27.9l.1 24.8l.1-10.6v14.4l.1-3.2l.1-23.3v9.8l.1 17.6l.1-7.9l.1-18.2v19.9l.1-33.9l.1 28.1v0l.1 13.6l.1-22.9v1.6l.1 12.9l.1 16.9l.1-37.2v16.4l.1-3l.1-.2v-18.4l.1 28.8l.1 4.8v-31.4l.1 24.5l.1 7.5v-7.8l.1-4.6l.1-1.2l.1 16.8v-17.8l.1-13.8l.1 17.1v-26.5l.1 27.9l.1-24.5v26.8l.1 5.7l.1-25.2v24.1l.1-13.8l.1-23.9l.1 34v-12.1l.1 11.1l.1-13.7v-7.7l.1 5.3l.1 18v-18.9l.1 6.9l.1 4.4l.1 6.7v-25.9l.1 9.2l.1-10v10l.1-7.3l.1-4.8v24l.1-18.2l.1-6.9v14l.1 3.1l.1 2l.1-21.4v-6.7l.1 13.7l.1-14.4v21.5l.1-14.3l.1 17v-15.9l.1 7l.1 18.3v1.6l.1-17.6l.1-3l.1-6.3v15.5l.1 3l.1-7.5v4.1l.1-14.3l.1 21.9v-13.1l.1 13.8l.1-25.5l.1 21.4v-5.3l.1 1.1l.1 .6v-3.5l.1-12.9l.1 6v-9.5l.1-6.9l.1 20.3v10.2l.1-8.3l.1-2.8l.1 1.9v-17l.1 18.5l.1 4.1v-2.7l.1-13.7l.1 11.9v-1.1l.1 1l.1-18.4v13.5l.1 4.4l.1 2l.1-13.6v7.9l.1-5.9l.1 13.6v-27.5l.1 16.1l.1-8.1v4.4l.1 2.6l.1 3.1l.1 11.3v-7.6l.1 8.5l.1-3.8v-6.8l.1-1.7l.1 .4v-3.3l.1 17.3l.1-5.2v3.4l.1-5.6l.1-10.4l.1-3.4v.8l.1 1.1l.1 7v15.5l.1-27.6l.1 11.6v18.2l.1-11.5l.1 9.9v-14.5l.1 .8l.1 3.5l.1-12.3v-10.4l.1 27.7l.1-5.2v7.7l.1-8.9l.1 .4v-8.1l.1 9.9l.1-7.3l.1-6.6v5.4l.1 6.7l.1 10.2v7.4l.1-15.6l.1-7.1v-19.1l.1 18.9l.1-17.8v6l.1 21.5l.1-17.2l.1 22.8v-15.5l.1-4.8l.1 8.5v20.9l.1 .1l.1-15.4v-16l.1-4.9l.1 3.7v8l.1 9.2l.1-19.7l.1 9.9v-8l.1-5.8l.1 4.8v13l.1 3.2l.1-3.1v17.2l.1-18.4l.1-20.9l.1 32.2v-23.7l.1 23.4l.1-12.4v21.3l.1 1l.1-13.1v11.4l.1-5.1l.1 .4v-25.2l.1 18.6l.1-3l.1 6.6v6.5l.1-6.9l.1-9.8v9.7l.1 10.4l.1-9.4v4l.1-7.6l.1-8.1v7l.1 1.3l.1-13l.1 9.8v11.1l.1-26.4l.1 11.9v16l.1-9.8l.1-7.7v-6.6l.1 10.5l.1-16.9l.1 19.6v1.7l.1-7.7l.1-1.3v20.7l.1-1.4l.1-15.2v-2.6l.1 6.3l.1-10v1.1l.1 9.8l.1-20.5l.1 25.1v2.3l.1-8.1l.1-5.1v.1l.1-7.9l.1-2.8v11.2l.1 6l.1 7.2v-24.1l.1 22.5l.1-7.3l.1-7.7v13.7l.1-7.3l.1-10v4.1l.1 9.7l.1-3v-17.9l.1 16.7l.1 6.3l.1 12.6v-2.6l.1-9.4l.1 3.9v-11l.1 22.1l.1-20.5v4.8l.1-8.7l.1-6.7v13.9l.1 12.2l.1-4.6l.1-5.2v19.3l.1-13.3l.1-10.1v-8.4l.1 1l.1 3.6v11.8l.1 .4l.1-.4v-7.8l.1 13.8l.1 3.6l.1-27.2v16.5l.1 2.5l.1-16.7v5l.1 19.7l.1-20.9v12.5l.1-12.3l.1 19.3l.1-6.2v-27.1l.1 17.2l.1 13.7v-9.6l.1 2.4l.1 14.7v-18.5l.1 10.1l.1-1.6v-5l.1-21.1l.1 21.1l.1-21.5v39.6l.1-25.7l.1-15.2v5.9l.1 14.5l.1 7.1v-15.4l.1 13.2l.1 27.4l.1-7v-7.4l.1-4.4l.1-13.7v-3.6l.1 4l.1-3.3v9.6l.1-6.4l.1-1v6.4l.1-1.7l.1 15.8l.1-11.1v-.2l.1 9.2l.1-8.3v-8.1l.1 9.2l.1-6.9v-12.2l.1 32.1l.1-23.3v0l.1 .2l.1-2.7l.1 9.3v-13.4l.1 14.9l.1-.2v-9.2l.1 8.5l.1-5.6v7.9l.1-14.6l.1 10.3l.1-1.2v4.3l.1 3.3l.1-1v-2l.1-12.5l.1 15.7v1.5l.1-24.3l.1 14.1v14.2l.1 7.8l.1-6.5l.1-12.6v-2.4l.1 9.1l.1-28.1v22.1l.1-.3l.1 3.4v1.7l.1-2.8l.1-23.1v10.9l.1 .8l.1 1.7l.1 13v7.3l.1-25.4l.1-3.7v4.7l.1 22.4l.1-17.5v-7.3l.1 6.3l.1 8.4l.1-13.1v30.6l.1 3.2l.1-12.3v-4.3l.1-3.6l.1-.7v-16.5l.1 8.8l.1 1v-19.3l.1 9.5l.1-.8l.1 20.3v10.6l.1-14.5l.1-5.5v4.4l.1-1.7l.1 2.8v1.3l.1-6.3l.1-6.4v3.5l.1 5.5l.1 .9l.1-2.1v-4.1l.1-7.3l.1 4.3v-4.5l.1-4.5l.1 2.8v13l.1-11.3l.1 14.8l.1-4.5v-2.6l.1 10.5l.1-10.5v4.2l.1-8l.1 11.6v-21.7l.1 .3l.1 5.4v3.8l.1 5.9l.1 7.8l.1 1.7v-.2l.1-7.1l.1 12.4v-2.3l.1-9.8l.1-21v6.1l.1-7.5l.1-1.9v6.7l.1-2l.1-5.1l.1 10.1v15.8l.1-23.7l.1 38.1v-19.2l.1 3.8l.1-16.5v19.2l.1-12.7l.1 11.4l.1-4.8v4l.1 13.3l.1-26.5v6.4l.1-8l.1-11v12l.1-6.7l.1 23.9v2l.1-23.3l.1 15.5l.1 2.6v3.1l.1-9.2l.1 5.1v-.1l.1-18.7l.1 15.2v6.5l.1-13.2l.1-8.8v-5.9l.1 21.3l.1 3.3l.1-12.8v7.3l.1-3.2l.1 .7v-8.4l.1 7.9l.1 14.6v-14.9l.1-1l.1-4.8l.1 13.9v3.7l.1-9l.1-.8v-1l.1 10.2l.1-20.9v-7.7l.1 9.2l.1 1.1v-1.4l.1 6l.1-.4l.1-9.9v19.7l.1-1.3l.1-8.6v-.3l.1 7l.1-8.6v-3.6l.1-.7l.1-.4v8.2l.1-3l.1 16l.1-10.8v-3.1l.1-13.5l.1 12.9v-.5l.1 15.3l.1-10.3v-17.9l.1 15.2l.1-3.5l.1 7.9v-4.3l.1 11.8l.1-9.6v.2l.1 7.1l.1-25.1v15.5l.1-1.9l.1-3.4v10.1l.1-16.3l.1 3.6l.1 2.1v11.5l.1-2.5l.1-18.6v22.4l.1-2.7l.1-10.4v-2.2l.1-1.4l.1 5.5v1.2l.1 4.2l.1-8.7l.1-12.2v20.1l.1 8.7l.1-2.1v-11.8l.1-3.4l.1 13.6v-14.1l.1 1.5l.1 7.3l.1-4.2v27.5l.1 1.4l.1-24.8v10.9l.1-5.3l.1-15.6v1.5l.1 6.2l.1-.9v15.7l.1 6.2l.1-13.3l.1-5.6v-7.4l.1 1.4l.1-5.8v13.6l.1 12.9l.1-11.1v6.1l.1 6.6l.1-16.7v-5.5l.1 9.2l.1 1.9l.1-.8v2.8l.1 4.5l.1-5.2v14.4l.1-15.9l.1-7.8v15.7l.1 15.2l.1-13.4l.1-2v-12l.1 12l.1-21.5v16.1l.1 3.5l.1-4.5v-3.4l.1 13.9l.1-10.4v12.2l.1 .6l.1-9.7l.1-25.2v21.7l.1-15.2l.1 19.7v19.7l.1-30.7l.1 2.6v-16.4l.1 19.9l.1 22.2v-32.2l.1 11.1l.1 9.6l.1-7.6v4.9l.1-14.4l.1 7v0l.1 7.7l.1 17.1v-19.8l.1 6.8l.1-10.7l.1-4.6v10.7l.1 8l.1-17.6v-.3l.1-13.8l.1 11.9v-5.5l.1-1.8l.1-12.6v33.6l.1-23.8l.1-10.8l.1 17.1v-3.3l.1 33.6l.1-4.2v-29.1l.1 4.4l.1 19.8v-23.7l.1 30.8l.1 11.3v-31.1l.1 28.3l.1-49.4l.1 21.9v-3.3l.1 2.5l.1 9.4v5.2l.1-14l.1 31.9v-38.1l.1 1.7l.1-5l.1-2.2v6l.1 7.2l.1 7.4v24.2l.1-36.4l.1-3.4v21.8l.1-23.5l.1-7.3v17.5l.1-24.5l.1 28.6l.1-22.9v22.2l.1 1l.1-19.9v13.6l.1 23.7l.1-17v-3.3l.1-9.2l.1 19.4v-9.7l.1-7.4l.1 11.4l.1 23.8v-24.7l.1-16.9l.1 23.3v-31.2l.1 15.1l.1 26.2v1.9l.1-29.7l.1 8.2l.1 11.3v-8.7l.1-.8l.1-3v7.6l.1-1.2l.1-3.9v-9.6l.1 6.7l.1 4.4v-12.9l.1 14.3l.1-3.4l.1 31.2v-40.3l.1-.9l.1 7.9v3.9l.1-11.5l.1 23.6v-14.1l.1 .2l.1-13.8l.1 32.3v-34.5l.1 38.5l.1-6.6v-20.6l.1 8.8l.1-5.7v14.8l.1 15.6l.1-6.4v-5.1l.1-2.6l.1-4.2l.1-27.3v23.3l.1 5.8l.1 2.7v-6.6l.1 22.2l.1-23v-10.9l.1 17.2l.1 14.5v-14.3l.1-3.9l.1 5.5l.1-4.4v12.6l.1 4.5l.1-11.9v-14.5l.1 20.3l.1-7.1v-.1l.1-20.3l.1 2l.1-4.3v18l.1-.7l.1-31.8v27l.1 3.1l.1-20.1v16.7l.1-27.8l.1 13.2v-6.5l.1 15.4l.1-20.1l.1 8.6v15.8l.1-12.2l.1 27.9v-40.3l.1 21l.1-3.8v-4.4l.1 17l.1 22.8v-26.4l.1-5.9l.1-14.2l.1 7.7v3.3l.1 13.1l.1 2.6v-3.8l.1 21.7l.1-4v-22.4l.1 3.3l.1-6l.1 16v-28.3l.1 12.4l.1-24.7v25.9l.1-.1l.1-10.5v12.6l.1 23.2l.1-24.7v-.3l.1-9.7l.1-7l.1 28.4v-12.9l.1 7.8l.1-.6v1.6l.1-6.5l.1-28.4v34.3l.1-14.2l.1 11.4v-13.5l.1-2.4l.1 15.2l.1-10.6v-7.6l.1 28.9l.1-26.2v7.6l.1-16.6l.1 19v-11.2l.1 4l.1-5.9l.1-10v25l.1 9.6l.1-14.8v4.7l.1 2.5l.1 15.4v.7l.1-12.8l.1-4.3v7l.1-25.8l.1 10.7l.1-16.5v2.6l.1 25.5l.1-17.8v29.3l.1-19.2l.1 3v3.4l.1-23.9l.1 1.8v15.2l.1-13.5l.1-1.4l.1 29v-24.3l.1 .6l.1-8.5v20.7l.1-3.8l.1 .7v-20l.1 1.1l.1 .6l.1-3.6v30.5l.1-.8l.1-11.1v-7.2l.1-9.1l.1 16v10.3l.1-15l.1 11.8v-19.2l.1 3.7l.1 24.8l.1-15.6v2.1l.1-1.2l.1-11.9v3.9l.1 9.4l.1 3.4v-26.1l.1 13.7l.1 5.6v-2.4l.1-14.2l.1 21.2l.1-14.8v10l.1 4l.1-12v25.6l.1-16.6l.1-18v-.6l.1 18.3l.1-2.1l.1-1.8v9.8l.1-18.7l.1 23.9v7.2l.1-17l.1-9.6v-3.5l.1 11.9l.1 4.5v-10.4l.1-3.8l.1-7.9l.1 14v3.6l.1 .4l.1-3v-3.2l.1 3.8l.1 8.9v-10.8l.1-1.3l.1 6.1v-7.2l.1 8.8l.1 1.2l.1-7.5v6.4l.1-1.3l.1-6.3v-8.2l.1-9.9l.1 15.9v9.7l.1-12.7l.1 24.1l.1-12.5v6l.1 1.4l.1-.8v8.5l.1-10.3l.1 .3v6.7l.1-8.7l.1-.5v-8.2l.1 20.7l.1-7l.1-1.9v-.9l.1-11.3l.1 6.5v-13.2l.1 21.2l.1-2.4v-3.6l.1-3.3l.1 17.4v-10.8l.1-6.4l.1-.8l.1 4.1v-17.5l.1 3l.1 5.2v18.1l.1-8l.1-7.4v-5l.1 5.5l.1 16.7l.1-25.5v3.1l.1 6.8l.1-2.6v12.9l.1-7.6l.1-6.8v1.6l.1-9.1l.1 12.5v5.6l.1 9.7l.1-34.4l.1 9.5v-3.1l.1-1.6l.1-1.9v5.9l.1 7.4l.1-2v10.9l.1-.3l.1-17.1v-6.8l.1 3.2l.1 29.5l.1 3.9v9.8l.1-6.6l.1-7.1v-6.5l.1 3.1l.1-12.3v7.4l.1-3.1l.1 .7l.1 7.1v-2.4l.1 4.1l.1-17.7v14.2l.1-11.9l.1-6.3v17.1l.1-16.1l.1 10.6v9l.1 17.4l.1-28.4l.1 .1v4.3l.1-5.9l.1 13.7v-18.3l.1 10.6l.1 9.2v-8l.1-10.9l.1 2.4v-5.1l.1 17.1l.1-16.9l.1 29.6v-9.2l.1-7.4l.1 .5v17.3l.1-.9l.1-10.6v2.9l.1-15l.1 14.5l.1 7.9v-10.9l.1 2.4l.1-1.1v6.4l.1-31.1l.1 13.9v-10.5l.1 13.8l.1 11.2v-3.3l.1-14.4l.1 19l.1-21.9v-9.2l.1 11.3l.1 17.9v-13.8l.1-4.2l.1 10.4v9.7l.1-12l.1 .7v-8.6l.1 9.1l.1-7.5l.1 20.1v-8.2l.1-8.7l.1 5.9v-8.7l.1-10.3l.1 37v-27.7l.1-5l.1 11l.1-2.2v-8.8l.1 22.9l.1-12.3v4.7l.1-4.7l.1 18v-10.8l.1-5.3l.1-9.3v4.3l.1-9.2l.1 28.3l.1-18.9v-3.1l.1 9.8l.1-13.3v16.6l.1-26.9l.1 15.6v-3.9l.1-1.2l.1-6v8l.1 10.4l.1-4.3l.1-4.8v4.5l.1-9.9l.1 13v-3.2l.1 6.3l.1 2.6v4.3l.1-24.3l.1-1.7l.1 5.1v-3.6l.1 4.1l.1-.2v-2.3l.1-9.3l.1 24.6v-3.9l.1 3l.1-20.9v16.6l.1-32.7l.1 34.1l.1-7.6v-.7l.1 9.8l.1-1.5v-8.2l.1 4.6l.1 4.4v-1.2l.1-17.5l.1 14.1l.1-4.4v5.4l.1-6.3l.1-8.3v3.5l.1-6.4l.1 16.3v5.8l.1-2l.1-8v-14.2l.1 6.3l.1 6.4l.1-6.5v-5l.1 5.1l.1 9.6v4.1l.1-.7l.1-7.4v-2.2l.1-2.3l.1 .6v18.7l.1-8.6l.1-8.8l.1 2.7v1.1l.1-3.2l.1 5.7v6.8l.1-12.2l.1 1.6v1.6l.1 3.8l.1 1.9l.1-13.4v-2.5l.1 15.3l.1-12.5v-6.9l.1 4.2l.1 16.7v10.6l.1-13.7l.1 2.7v-8.2l.1-1.1l.1 6.7l.1-4.3v-.8l.1 6l.1 4.1v-8.8l.1 12.7l.1-7.3v-7.4l.1-3.2l.1-12.2v4.1l.1 6.9l.1 2.1l.1-13.3v8.7l.1 13.3l.1-2.7v-10.2l.1 11l.1-8.3v1.4l.1 8.7l.1 .7l.1-2.3v-8.1l.1 12.3l.1-6.4v8l.1-14.9l.1 0v15.1l.1-14.8l.1 3.6v-2.8l.1 .4l.1 13.6l.1-3.1v-41.2l.1 24.1l.1 11.1v-3.9l.1-1.1l.1 3v6.6l.1 1.3l.1 .4v-4.7l.1-6l.1 2.7l.1-6.1v4.2l.1 12.8l.1 .4v-9.6l.1 2.6l.1-4.1v4.1l.1-1.4l.1-5.4l.1 3.1v7.8l.1 5l.1-24.9v3.3l.1-1.1l.1 10.8v5.8l.1-8.1l.1 5.3v-13.6l.1 10.5l.1-5.1l.1 1.5v11l.1-17.6l.1 9.3v12.9l.1-18.1l.1 14.2v9.6l.1-8.3l.1-5.8v-6l.1 12.9l.1-5.4l.1-1.9v-.7l.1-7.8l.1-5.6v11.3l.1 6.3l.1-6.1v7.7l.1-1.3l.1 .3l.1-5v10.8l.1-3.3l.1-.7v2.2l.1-4.2l.1-2.9v-10.7l.1 .9l.1 18.4v-2.8l.1-4.5l.1-4.8l.1-.2v.7l.1 5.7l.1 3.6v-19.6l.1-5.7l.1 9.9v8.6l.1-2.5l.1-9.3v2l.1-1.7l.1 27.6l.1-22.1v-8l.1 3.5l.1 4.6v7.6l.1-4.5l.1 8v-1.4l.1 1.6l.1-20.5l.1 2v14.6l.1-17.9l.1 18.8v-2l.1 10.1l.1-17.9v6.9l.1-2.1l.1-1.6v-1.9l.1 0l.1 8.3l.1 3.2v-.1" fill="none" stroke="#0080ff" stroke-width="1" stroke-linejoin="round" marker-start="url(#m2)" marker-mid="url(#m2)" marker-end="url(#m2)"/>
<rect x="64.60" y="412.00" width="808.40" height="155.00" fill="none" stroke="#000" stroke-width="2"/>
<text x="55" y="572.3" text-anchor="end">−40</text>
<text x="55" y="552.9" text-anchor="end">−30</text>
<text x="55" y="533.5" text-anchor="end">−20</text>
<text x="55" y="514.2" text-anchor="end">−10</text>
<text x="55" y="494.8" text-anchor="end">0</text>
<text x="55" y="475.4" text-anchor="end">10</text>
<text x="55" y="456.1" text-anchor="end">20</text>
<text x="55" y="436.7" text-anchor="end">30</text>
<text x="55" y="417.3" text-anchor="end">40</text>
<text transform="translate(19,489.5) rotate(-90)" text-anchor="middle">Up [mm]</text>
<text x="145" y="432.8" word-spacing=".6" style="fill:#0080ff">std ± 6.48 mm</text>
<text x="802" y="432.5" text-anchor="end">Up</text>
<path d="M810.8,427.3H855.4M810.8,423.3v8M855.4,423.3v8" stroke="#0080ff" stroke-width="1" fill="none"/>
<circle cx="833" cy="427.3" r="2.9" fill="#0080ff"/>
</g>
<text x="91.5" y="587.3" text-anchor="middle">1995</text>
<text x="218.3" y="587.3" text-anchor="middle">2000</text>
<text x="345.2" y="587.3" text-anchor="middle">2005</text>
<text x="472.0" y="587.3" text-anchor="middle">2010</text>
<text x="598.8" y="587.3" text-anchor="middle">2015</text>
<text x="725.7" y="587.3" text-anchor="middle">2020</text>
<text x="852.5" y="587.3" text-anchor="middle">2025</text>
<text x="469" y="610" text-anchor="middle">YEAR</text>
<text x="8.8" y="628" letter-spacing=".05">28/11/25 07:01</text>
</svg></body></html>
